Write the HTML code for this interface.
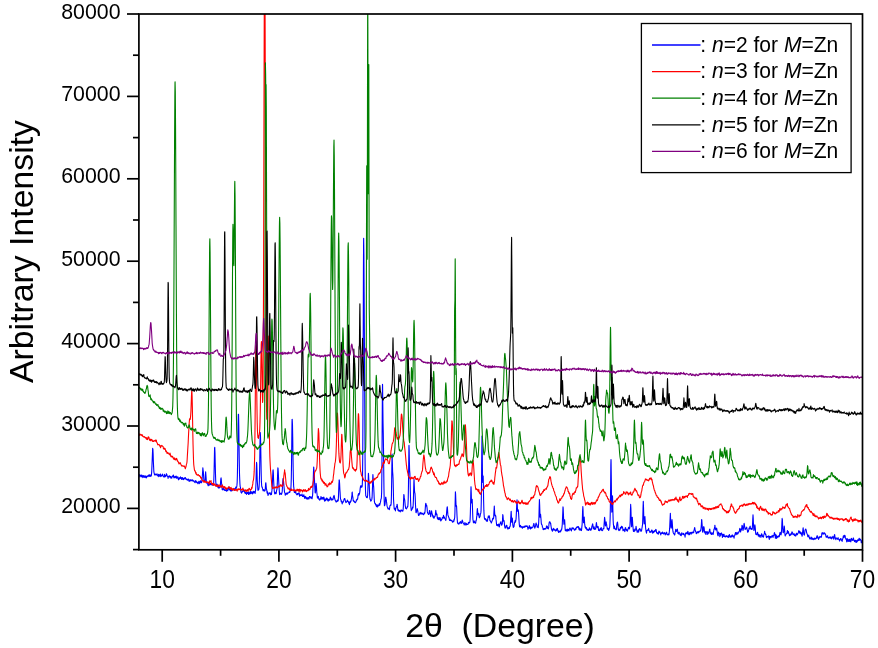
<!DOCTYPE html>
<html><head><meta charset="utf-8"><style>
html,body{margin:0;padding:0;background:#fff;}
svg{display:block;}
text{font-family:"Liberation Sans",Arial,sans-serif;fill:#000;}
.tl{font-size:21.3px;}
.tx{font-size:22.8px;}
.lg{font-size:21.5px;}
.at{font-size:33.8px;}
</style></head><body>
<svg width="878" height="648" viewBox="0 0 878 648">
<rect width="878" height="648" fill="#fff"/>
<defs><clipPath id="pc"><rect x="138.9" y="14.0" width="723.6" height="535.8"/></clipPath></defs>
<g clip-path="url(#pc)">
<polyline fill="none" stroke="#0000ff" stroke-width="1.1" stroke-linejoin="round" points="138.90,477.5 139.13,476.5 139.37,475.7 139.60,474.5 139.83,476.0 140.07,475.2 140.30,475.1 140.53,476.2 140.77,475.8 141.00,476.9 141.23,476.9 141.47,475.1 141.70,475.6 141.93,475.2 142.17,476.3 142.40,476.9 142.63,476.0 142.87,477.6 143.10,476.5 143.33,475.6 143.57,476.5 143.80,477.0 144.03,475.9 144.27,476.3 144.50,476.0 144.73,477.5 144.97,477.1 145.20,476.7 145.44,477.1 145.67,475.8 145.90,476.4 146.14,477.9 146.37,477.2 146.60,477.7 146.84,476.9 147.07,476.1 147.30,476.3 147.54,476.5 147.77,476.1 148.00,475.6 148.24,475.4 148.47,475.1 148.70,476.1 148.94,476.6 149.17,476.3 149.40,474.8 149.64,476.1 149.87,475.7 150.10,474.8 150.34,475.8 150.57,476.4 150.80,476.2 151.04,476.1 151.27,475.8 151.50,474.5 151.74,471.1 151.97,465.4 152.20,459.9 152.44,453.7 152.67,448.3 152.70,448.8 152.90,449.3 153.14,454.1 153.37,461.8 153.60,466.6 153.84,471.3 154.07,472.8 154.30,473.7 154.54,474.8 154.77,474.6 155.00,475.1 155.24,474.1 155.47,474.6 155.70,474.3 155.94,474.7 156.17,474.6 156.40,474.3 156.64,475.0 156.87,473.8 157.11,473.8 157.34,475.1 157.57,475.4 157.81,475.3 158.04,475.7 158.27,476.7 158.51,474.7 158.74,474.4 158.97,474.7 159.21,475.9 159.44,475.9 159.67,476.2 159.91,475.9 160.14,474.7 160.37,474.0 160.61,474.4 160.84,476.7 161.07,476.5 161.31,476.0 161.54,475.4 161.77,475.5 162.01,475.5 162.24,475.2 162.47,474.1 162.71,475.5 162.94,475.9 163.17,476.3 163.41,476.5 163.64,476.8 163.87,476.4 164.11,476.3 164.34,474.2 164.57,475.3 164.81,477.1 165.04,475.6 165.27,475.9 165.51,476.4 165.74,475.4 165.97,475.7 166.21,474.3 166.44,473.8 166.67,474.4 166.91,474.8 167.14,476.1 167.37,476.4 167.61,476.6 167.84,476.4 168.07,478.4 168.31,477.0 168.54,476.6 168.78,476.7 169.01,476.1 169.24,475.7 169.48,476.3 169.71,477.0 169.94,477.2 170.18,477.3 170.41,476.3 170.64,476.5 170.88,478.3 171.11,477.3 171.34,477.5 171.58,478.0 171.81,478.1 172.04,476.3 172.28,476.5 172.51,476.7 172.74,476.5 172.98,475.3 173.21,476.2 173.44,475.1 173.68,477.1 173.91,477.9 174.14,477.7 174.38,476.8 174.61,477.7 174.84,476.7 175.08,476.2 175.31,476.4 175.54,476.7 175.78,477.7 176.01,477.9 176.24,476.1 176.48,477.0 176.71,478.3 176.94,478.1 177.18,477.9 177.41,477.0 177.64,478.0 177.88,476.9 178.11,478.0 178.34,479.4 178.58,479.8 178.81,478.9 179.04,478.7 179.28,477.7 179.51,477.9 179.74,478.9 179.98,478.3 180.21,477.7 180.45,476.9 180.68,478.0 180.91,478.4 181.15,477.6 181.38,478.1 181.61,479.5 181.85,478.8 182.08,478.1 182.31,477.5 182.55,477.9 182.78,478.6 183.01,479.5 183.25,478.8 183.48,479.7 183.71,478.2 183.95,478.3 184.18,479.0 184.41,478.3 184.65,477.8 184.88,478.3 185.11,478.6 185.35,477.5 185.58,478.4 185.81,478.9 186.05,479.0 186.28,479.6 186.51,478.9 186.75,479.0 186.98,479.5 187.21,479.9 187.45,479.7 187.68,480.3 187.91,479.2 188.15,480.0 188.38,479.0 188.61,479.3 188.85,480.2 189.08,481.5 189.31,480.8 189.55,480.1 189.78,480.9 190.01,480.1 190.25,479.7 190.48,480.5 190.71,480.6 190.95,481.0 191.18,480.1 191.41,480.4 191.65,480.5 191.88,480.1 192.12,479.8 192.35,479.7 192.58,481.0 192.82,481.0 193.05,481.2 193.28,480.8 193.52,480.8 193.75,480.4 193.98,481.3 194.22,481.9 194.45,481.8 194.68,482.2 194.92,482.2 195.15,482.7 195.38,481.5 195.62,480.6 195.85,481.8 196.08,481.7 196.32,481.3 196.55,482.4 196.78,482.6 197.02,482.6 197.25,482.2 197.48,482.5 197.72,483.0 197.95,483.8 198.18,482.4 198.42,482.6 198.65,482.6 198.88,481.2 199.12,481.5 199.35,483.6 199.58,481.8 199.82,482.5 200.05,481.9 200.28,481.5 200.52,480.8 200.75,481.8 200.98,482.9 201.22,481.8 201.45,482.6 201.68,482.4 201.92,481.8 202.15,478.1 202.38,475.5 202.62,471.8 202.80,468.8 202.85,467.9 203.08,470.1 203.32,471.4 203.55,475.2 203.79,479.3 204.02,481.2 204.25,480.8 204.49,481.3 204.72,481.2 204.95,481.1 205.19,479.0 205.42,473.8 205.50,473.8 205.65,471.9 205.89,474.9 206.12,478.1 206.35,482.4 206.59,483.0 206.82,482.7 207.05,483.1 207.29,483.4 207.52,484.0 207.75,484.2 207.99,485.0 208.22,485.8 208.45,485.0 208.69,483.4 208.92,482.9 209.15,483.9 209.39,485.2 209.62,484.5 209.85,484.2 210.09,484.4 210.32,483.4 210.55,483.7 210.79,484.8 211.02,484.5 211.25,484.4 211.49,484.8 211.72,484.3 211.95,484.2 212.19,484.5 212.42,485.2 212.65,484.7 212.89,483.7 213.12,484.2 213.35,484.8 213.59,484.3 213.82,479.6 214.05,473.0 214.29,461.3 214.52,450.1 214.60,447.8 214.75,447.3 214.99,452.8 215.22,462.9 215.46,473.1 215.69,480.1 215.92,483.7 216.16,486.2 216.39,486.0 216.62,484.3 216.86,484.9 217.09,484.2 217.32,484.5 217.56,486.5 217.79,486.9 218.02,486.5 218.26,487.9 218.49,486.6 218.72,486.5 218.96,487.9 219.19,487.9 219.42,487.6 219.66,487.7 219.89,487.7 220.12,487.0 220.36,485.2 220.59,481.5 220.82,478.7 221.00,478.4 221.06,477.8 221.29,479.6 221.52,482.7 221.76,484.8 221.99,487.5 222.22,489.7 222.46,489.4 222.69,489.8 222.92,489.5 223.16,488.8 223.39,488.3 223.62,488.1 223.86,488.4 224.09,489.8 224.32,490.1 224.56,489.9 224.79,490.3 225.02,489.7 225.26,490.5 225.49,490.0 225.72,489.8 225.96,489.8 226.19,490.2 226.42,491.3 226.66,489.1 226.89,489.8 227.13,490.8 227.36,490.5 227.59,490.0 227.83,490.7 228.06,488.8 228.29,488.2 228.53,488.9 228.76,487.4 228.99,486.8 229.23,489.2 229.46,489.9 229.69,489.9 229.93,489.3 230.16,489.5 230.39,489.3 230.63,491.0 230.86,490.8 231.09,490.0 231.33,488.5 231.56,490.1 231.79,491.0 232.03,490.7 232.26,490.1 232.49,489.3 232.73,489.0 232.96,489.7 233.19,489.7 233.43,489.5 233.66,489.4 233.89,490.2 234.13,488.6 234.36,488.8 234.59,488.8 234.83,489.8 235.06,490.1 235.29,489.6 235.53,488.4 235.76,487.0 235.99,488.8 236.23,488.1 236.46,487.4 236.69,486.9 236.93,485.4 237.16,482.5 237.39,475.4 237.63,461.9 237.86,442.9 238.09,425.5 238.30,415.0 238.33,414.2 238.56,414.5 238.80,426.6 239.03,444.2 239.26,460.5 239.50,473.7 239.73,479.6 239.96,484.1 240.20,486.7 240.43,487.2 240.66,489.4 240.90,491.9 241.13,492.5 241.36,492.2 241.60,493.1 241.83,492.2 242.06,491.6 242.30,491.9 242.53,491.8 242.76,491.7 243.00,490.4 243.23,491.2 243.46,490.6 243.70,490.9 243.93,489.7 244.16,490.5 244.40,491.7 244.63,492.4 244.86,491.8 245.10,493.5 245.33,493.0 245.56,492.3 245.80,493.1 246.03,492.7 246.26,493.5 246.50,494.4 246.73,493.5 246.96,492.4 247.20,492.6 247.43,493.4 247.66,493.2 247.90,492.4 248.13,492.6 248.36,493.9 248.60,494.5 248.83,491.8 249.06,493.2 249.30,493.3 249.53,493.9 249.76,494.0 250.00,493.2 250.23,492.1 250.47,491.5 250.70,491.6 250.93,493.6 251.17,493.0 251.40,492.5 251.63,492.4 251.87,491.8 252.10,493.0 252.33,493.9 252.57,493.5 252.80,492.1 253.03,493.5 253.27,492.3 253.50,491.3 253.73,491.7 253.97,492.2 254.20,492.7 254.43,491.9 254.67,491.4 254.90,492.4 255.13,493.4 255.37,491.4 255.60,490.2 255.83,486.9 256.07,480.7 256.30,468.7 256.50,463.9 256.53,462.4 256.77,463.9 257.00,470.5 257.23,479.7 257.47,483.7 257.70,486.8 257.93,490.3 258.17,490.0 258.40,490.0 258.63,489.9 258.87,489.2 259.10,487.1 259.33,482.7 259.57,473.4 259.80,458.9 260.03,441.9 260.20,433.9 260.27,432.5 260.50,436.2 260.73,446.3 260.97,460.3 261.20,473.0 261.43,481.9 261.67,485.5 261.90,487.3 262.14,487.0 262.37,487.7 262.60,488.9 262.84,489.4 263.07,490.8 263.30,490.3 263.54,490.8 263.77,489.5 264.00,490.3 264.24,491.1 264.47,490.9 264.70,490.0 264.94,490.7 265.17,490.1 265.40,487.1 265.64,483.6 265.70,482.9 265.87,482.8 266.10,485.6 266.34,488.3 266.57,489.3 266.80,490.3 267.04,492.7 267.27,493.4 267.50,491.7 267.74,493.7 267.97,495.5 268.20,494.8 268.44,494.2 268.67,494.0 268.90,494.0 269.14,492.7 269.37,492.8 269.60,493.8 269.84,493.5 270.07,493.7 270.30,492.8 270.54,494.4 270.77,494.8 271.00,494.1 271.24,494.2 271.47,494.5 271.70,492.2 271.94,490.4 272.17,487.5 272.40,482.9 272.64,476.4 272.87,472.0 272.90,471.1 273.10,469.9 273.34,472.8 273.57,479.3 273.81,484.1 274.04,488.1 274.27,491.0 274.51,492.6 274.74,493.8 274.97,493.9 275.21,493.1 275.44,492.7 275.67,492.3 275.91,492.5 276.14,493.8 276.37,491.9 276.61,490.3 276.84,489.7 277.07,487.6 277.31,483.4 277.54,476.0 277.77,469.9 277.90,467.9 278.01,468.1 278.24,471.2 278.47,476.4 278.71,481.2 278.94,484.9 279.17,489.2 279.41,492.4 279.64,494.6 279.87,494.4 280.11,494.3 280.34,493.3 280.57,493.6 280.81,493.6 281.04,493.2 281.27,494.1 281.51,494.3 281.74,493.3 281.97,493.0 282.21,491.5 282.44,487.3 282.67,483.1 282.91,479.5 283.00,478.5 283.14,478.5 283.37,479.3 283.61,481.7 283.84,484.6 284.07,487.2 284.31,490.1 284.54,492.4 284.77,492.4 285.01,493.3 285.24,495.2 285.48,495.0 285.71,493.7 285.94,493.9 286.18,493.4 286.41,494.2 286.64,493.0 286.88,493.3 287.11,494.1 287.34,493.1 287.58,493.9 287.81,492.9 288.04,493.1 288.28,492.8 288.51,492.8 288.74,492.8 288.98,492.3 289.21,491.7 289.44,492.5 289.68,492.4 289.91,492.2 290.14,491.2 290.38,489.0 290.61,489.9 290.84,489.0 291.08,484.7 291.31,477.8 291.54,463.4 291.78,441.4 292.01,422.1 292.10,419.2 292.24,419.6 292.48,424.9 292.71,436.7 292.94,453.6 293.18,468.7 293.41,480.1 293.64,486.3 293.88,487.9 294.11,491.0 294.34,492.5 294.58,491.7 294.81,491.7 295.04,492.7 295.28,491.6 295.51,491.5 295.74,491.9 295.98,493.2 296.21,493.9 296.44,493.9 296.68,494.4 296.91,494.8 297.15,494.4 297.38,493.5 297.61,493.9 297.85,494.7 298.08,493.3 298.31,493.4 298.55,493.4 298.78,493.4 299.01,492.8 299.25,493.4 299.48,496.2 299.71,495.7 299.95,494.5 300.18,495.0 300.41,495.6 300.65,495.2 300.88,495.5 301.11,495.0 301.35,495.1 301.58,495.5 301.81,495.1 302.05,494.1 302.28,495.7 302.51,496.5 302.75,496.5 302.98,495.8 303.21,496.6 303.45,496.4 303.68,494.9 303.91,494.8 304.15,496.5 304.38,496.3 304.61,497.8 304.85,498.5 305.08,496.8 305.31,496.4 305.55,497.2 305.78,497.7 306.01,497.0 306.25,498.5 306.48,498.8 306.71,498.4 306.95,497.8 307.18,498.8 307.41,498.6 307.65,497.7 307.88,499.3 308.11,498.2 308.35,498.0 308.58,497.7 308.82,498.4 309.05,498.8 309.28,497.3 309.52,496.5 309.75,497.0 309.98,496.6 310.22,496.8 310.45,497.3 310.68,497.6 310.92,498.2 311.15,496.9 311.38,497.3 311.62,497.2 311.85,498.4 312.08,498.8 312.32,497.0 312.55,496.0 312.78,492.1 313.02,486.5 313.25,479.5 313.48,471.5 313.70,467.1 313.72,467.9 313.95,469.7 314.18,473.6 314.42,478.4 314.65,483.8 314.88,488.8 315.12,492.4 315.35,492.9 315.58,490.7 315.82,487.1 316.00,484.6 316.05,483.2 316.28,484.9 316.52,487.8 316.75,491.7 316.98,493.5 317.22,496.3 317.45,498.1 317.68,497.5 317.92,496.6 318.15,496.4 318.38,496.5 318.62,498.1 318.85,499.3 319.08,499.3 319.32,499.5 319.55,499.8 319.78,500.2 320.02,498.6 320.25,498.8 320.49,499.3 320.72,498.9 320.95,496.5 321.19,497.3 321.42,497.9 321.65,497.9 321.89,499.3 322.12,499.2 322.35,498.5 322.59,497.5 322.82,497.6 323.05,498.2 323.29,499.1 323.52,498.0 323.75,497.1 323.99,497.6 324.22,498.7 324.45,500.7 324.69,501.1 324.92,499.3 325.15,500.0 325.39,500.7 325.62,500.5 325.85,499.3 326.09,498.4 326.32,498.5 326.55,498.1 326.79,499.5 327.02,499.8 327.25,498.3 327.49,499.3 327.72,500.1 327.95,500.9 328.19,501.1 328.42,500.4 328.65,499.2 328.89,499.4 329.12,500.3 329.35,499.2 329.59,499.4 329.82,500.1 330.05,498.6 330.29,497.0 330.52,497.4 330.75,498.1 330.99,498.2 331.22,499.6 331.45,500.1 331.69,499.1 331.92,499.3 332.16,499.6 332.39,499.2 332.62,499.9 332.86,499.6 333.09,499.3 333.32,497.4 333.56,496.3 333.79,496.9 334.02,495.4 334.26,496.0 334.49,497.4 334.72,498.8 334.96,499.4 335.19,500.4 335.42,500.4 335.66,500.9 335.89,501.7 336.12,502.1 336.36,501.8 336.59,501.1 336.82,501.6 337.06,501.3 337.29,500.9 337.52,500.0 337.76,501.2 337.99,500.8 338.22,500.6 338.46,496.9 338.69,490.4 338.92,484.2 339.16,480.9 339.20,479.8 339.39,480.7 339.62,483.9 339.86,489.2 340.09,492.4 340.32,496.7 340.56,499.2 340.79,499.4 341.02,500.3 341.26,501.8 341.49,501.2 341.72,501.0 341.96,502.9 342.19,503.9 342.42,502.5 342.66,502.7 342.89,501.9 343.12,502.2 343.36,501.1 343.59,501.2 343.83,500.2 344.06,499.1 344.29,499.0 344.53,498.6 344.76,498.5 344.99,499.3 345.23,500.5 345.46,500.8 345.69,502.1 345.93,502.6 346.16,502.5 346.39,501.7 346.63,501.7 346.86,501.5 347.09,501.6 347.33,500.1 347.56,500.2 347.79,500.9 348.03,501.4 348.26,501.4 348.49,502.0 348.73,503.1 348.96,502.5 349.19,503.6 349.43,504.6 349.66,503.6 349.89,501.5 350.13,502.5 350.36,502.4 350.59,501.8 350.83,500.5 351.06,501.2 351.29,499.4 351.53,498.6 351.76,496.3 351.99,495.0 352.00,492.8 352.23,492.1 352.46,495.0 352.69,496.5 352.93,497.6 353.16,500.3 353.39,501.1 353.63,500.5 353.86,501.1 354.09,501.4 354.33,501.8 354.56,502.1 354.79,501.8 355.03,502.2 355.26,502.8 355.50,502.4 355.73,502.0 355.96,501.8 356.20,501.2 356.43,499.8 356.66,500.3 356.90,499.6 357.13,499.7 357.36,498.7 357.60,499.2 357.83,497.6 358.06,495.0 358.30,494.4 358.53,493.6 358.76,495.2 359.00,494.9 359.23,494.1 359.46,494.0 359.70,492.6 359.93,491.0 360.16,488.6 360.40,487.2 360.63,485.8 360.86,486.8 361.10,487.5 361.10,486.5 361.33,485.8 361.56,485.9 361.80,486.0 362.03,487.0 362.26,485.4 362.50,478.9 362.73,456.6 362.96,409.3 363.20,339.5 363.43,269.6 363.60,242.0 363.66,238.3 363.90,255.0 364.13,291.5 364.36,330.3 364.60,374.6 364.83,420.2 365.06,458.1 365.30,481.0 365.53,491.5 365.76,495.7 366.00,496.2 366.23,496.5 366.46,497.5 366.70,497.4 366.93,496.9 367.17,497.8 367.40,497.3 367.63,495.2 367.87,489.7 368.10,482.9 368.33,476.1 368.40,473.4 368.57,475.0 368.80,479.5 369.03,481.8 369.27,485.4 369.50,491.3 369.73,496.2 369.97,499.3 370.20,498.9 370.43,499.6 370.67,500.8 370.90,501.1 371.13,500.7 371.37,500.2 371.60,499.8 371.83,499.2 372.07,497.7 372.30,491.9 372.53,486.4 372.77,477.3 372.90,474.5 373.00,475.8 373.23,479.6 373.47,484.7 373.70,487.1 373.93,491.9 374.17,497.6 374.40,501.7 374.63,502.6 374.87,503.4 375.10,503.8 375.33,503.5 375.57,504.9 375.80,504.9 376.03,504.4 376.27,506.2 376.50,506.5 376.73,505.0 376.97,506.2 377.20,507.1 377.43,506.6 377.67,505.2 377.90,504.9 378.13,505.8 378.37,505.9 378.60,505.9 378.84,505.6 379.07,505.1 379.30,503.6 379.54,503.6 379.77,505.2 380.00,503.6 380.24,503.2 380.47,502.2 380.70,500.8 380.94,499.1 381.17,499.0 381.40,497.5 381.64,492.0 381.87,474.3 382.10,438.1 382.34,398.9 382.50,384.2 382.57,385.0 382.80,403.9 383.04,423.1 383.27,432.9 383.50,447.9 383.74,470.1 383.97,489.3 384.20,500.4 384.44,505.8 384.67,505.4 384.90,504.9 385.14,503.3 385.37,501.0 385.60,497.3 385.70,497.5 385.84,497.3 386.07,498.8 386.30,499.6 386.54,501.9 386.77,503.5 387.00,505.4 387.24,506.7 387.47,507.3 387.70,507.5 387.94,509.0 388.17,509.0 388.40,508.5 388.64,508.3 388.87,508.7 389.10,508.8 389.34,509.6 389.57,508.5 389.80,506.6 390.04,505.5 390.27,505.4 390.51,504.9 390.74,505.4 390.97,505.2 391.21,502.9 391.44,495.4 391.67,480.6 391.91,463.0 392.10,454.1 392.14,454.4 392.37,462.6 392.61,471.6 392.84,474.3 393.07,478.6 393.31,488.3 393.54,499.3 393.77,503.2 394.01,506.5 394.24,509.0 394.47,509.3 394.71,509.2 394.94,508.3 395.17,509.5 395.41,510.9 395.64,509.1 395.87,508.5 396.11,507.7 396.34,507.0 396.57,506.4 396.81,505.9 397.04,504.2 397.27,504.7 397.51,507.1 397.74,508.9 397.97,510.5 398.21,510.4 398.44,509.8 398.67,510.7 398.91,511.3 399.14,510.9 399.37,510.6 399.61,511.3 399.84,510.7 400.07,510.1 400.31,512.0 400.54,510.7 400.77,510.8 401.01,510.9 401.24,510.8 401.47,510.5 401.71,509.9 401.94,510.9 402.18,510.8 402.41,510.7 402.64,511.3 402.88,511.0 403.11,509.8 403.34,506.9 403.58,500.5 403.81,494.5 403.90,494.6 404.04,495.2 404.28,497.9 404.51,499.3 404.74,500.0 404.98,502.9 405.21,505.6 405.44,506.6 405.68,508.4 405.91,508.4 406.14,508.3 406.38,508.9 406.61,508.4 406.84,507.9 407.08,507.9 407.31,506.6 407.54,507.1 407.78,506.6 408.01,504.0 408.24,498.6 408.48,484.5 408.71,462.4 408.94,445.8 409.00,445.3 409.18,449.7 409.41,462.2 409.64,470.5 409.88,473.4 410.11,480.1 410.34,491.3 410.58,500.8 410.81,506.1 411.04,508.3 411.28,510.7 411.51,509.6 411.74,509.7 411.98,509.4 412.21,509.0 412.44,507.6 412.68,506.8 412.91,508.0 413.14,505.7 413.38,500.8 413.61,492.0 413.85,482.5 414.00,479.3 414.08,479.9 414.31,486.0 414.55,491.4 414.78,492.8 415.01,493.7 415.25,498.2 415.48,504.6 415.71,508.5 415.95,512.4 416.18,512.7 416.41,511.8 416.65,510.5 416.88,511.0 417.11,508.7 417.35,508.8 417.58,510.0 417.81,511.0 418.05,512.7 418.28,513.9 418.51,515.5 418.75,515.4 418.98,515.4 419.21,514.8 419.45,514.1 419.68,513.4 419.91,512.7 420.15,513.0 420.38,513.5 420.61,514.0 420.85,512.4 421.08,512.6 421.31,513.7 421.55,513.4 421.78,514.1 422.01,513.7 422.25,513.3 422.48,513.2 422.71,514.1 422.95,514.1 423.18,514.1 423.41,514.3 423.65,514.8 423.88,514.3 424.11,512.8 424.35,513.2 424.58,513.4 424.81,512.9 425.05,511.3 425.28,508.4 425.52,504.9 425.75,503.4 425.80,504.2 425.98,503.6 426.22,505.3 426.45,506.2 426.68,505.4 426.92,506.9 427.15,508.8 427.38,511.9 427.62,512.8 427.85,513.0 428.08,514.0 428.32,513.9 428.55,514.4 428.78,514.3 429.02,513.4 429.25,512.1 429.48,510.5 429.72,510.6 429.95,512.8 430.18,513.8 430.42,514.8 430.65,516.7 430.88,515.6 431.12,513.3 431.35,511.2 431.58,510.9 431.82,512.4 432.05,513.8 432.28,514.0 432.52,515.2 432.75,516.4 432.98,517.1 433.22,515.7 433.45,517.0 433.68,517.8 433.92,518.3 434.15,517.9 434.38,516.8 434.62,516.7 434.85,516.1 435.08,516.2 435.32,514.8 435.55,512.6 435.78,510.2 435.80,510.2 436.02,512.3 436.25,513.2 436.48,514.8 436.72,514.4 436.95,514.2 437.19,517.0 437.42,518.7 437.65,518.0 437.89,517.6 438.12,519.5 438.35,519.7 438.59,519.5 438.82,517.9 439.05,519.1 439.29,517.6 439.52,518.7 439.75,519.8 439.99,518.1 440.22,517.8 440.45,519.2 440.69,520.9 440.92,520.8 441.15,519.4 441.39,520.0 441.62,519.8 441.85,519.3 442.09,518.7 442.32,517.5 442.55,517.4 442.79,517.3 443.02,518.0 443.25,517.1 443.49,515.3 443.72,516.5 443.95,518.1 444.19,518.0 444.42,517.0 444.65,518.1 444.89,518.5 445.12,518.8 445.35,519.2 445.59,520.0 445.82,520.3 446.05,518.8 446.29,516.0 446.52,513.6 446.75,510.8 446.99,508.2 447.22,506.8 447.30,506.9 447.45,508.1 447.69,512.2 447.92,514.9 448.15,515.9 448.39,516.1 448.62,517.2 448.86,517.5 449.09,518.2 449.32,519.4 449.56,520.4 449.79,520.0 450.02,519.2 450.26,519.9 450.49,520.4 450.72,520.3 450.96,520.1 451.19,520.7 451.42,520.6 451.66,520.5 451.89,520.4 452.12,520.9 452.36,521.9 452.59,522.2 452.82,521.9 453.06,521.4 453.29,521.4 453.52,521.6 453.76,521.7 453.99,519.3 454.22,520.1 454.46,518.6 454.69,517.7 454.92,513.0 455.16,501.8 455.39,491.9 455.50,492.7 455.62,494.6 455.86,501.1 456.09,506.2 456.32,505.3 456.56,506.1 456.79,510.5 457.02,515.7 457.26,519.8 457.49,522.7 457.72,523.4 457.96,522.7 458.19,524.0 458.42,523.9 458.66,523.5 458.89,524.1 459.12,523.9 459.36,523.3 459.59,522.5 459.82,522.9 460.06,522.0 460.29,522.3 460.53,521.6 460.76,521.9 460.99,523.5 461.23,523.5 461.46,523.2 461.69,522.9 461.93,521.6 462.16,520.0 462.39,520.4 462.63,521.2 462.86,522.0 463.09,523.0 463.33,523.3 463.56,523.3 463.79,523.6 464.03,524.2 464.26,525.0 464.49,523.2 464.73,523.2 464.96,522.5 465.19,524.3 465.43,523.8 465.66,524.2 465.89,525.2 466.13,524.8 466.36,523.3 466.59,524.2 466.83,524.1 467.06,524.4 467.29,524.3 467.53,524.5 467.76,524.1 467.99,523.8 468.23,524.1 468.46,522.3 468.69,522.5 468.93,522.4 469.16,522.9 469.39,522.8 469.63,522.7 469.86,521.8 470.09,519.7 470.33,514.0 470.56,505.2 470.79,493.3 471.00,486.9 471.03,486.7 471.26,493.0 471.49,502.2 471.73,503.0 471.96,499.6 472.20,499.4 472.43,505.5 472.66,513.2 472.90,519.5 473.13,520.5 473.36,522.4 473.60,522.8 473.83,522.2 474.06,521.0 474.30,521.1 474.53,522.4 474.76,521.9 475.00,522.9 475.23,523.2 475.46,523.2 475.70,522.9 475.93,521.1 476.16,520.6 476.40,519.8 476.63,517.2 476.86,515.9 477.10,511.5 477.33,508.9 477.40,508.5 477.56,510.4 477.80,513.2 478.03,514.9 478.26,514.1 478.50,514.1 478.73,513.3 478.96,515.9 479.20,517.4 479.43,517.7 479.66,516.5 479.90,516.8 480.13,515.8 480.36,514.2 480.60,513.6 480.83,512.9 481.06,510.5 481.30,500.7 481.53,481.3 481.76,453.8 482.00,436.8 482.00,436.0 482.23,450.0 482.46,472.2 482.70,482.4 482.93,478.2 483.16,476.1 483.40,486.1 483.63,500.9 483.87,510.4 484.10,514.7 484.33,517.4 484.57,519.2 484.80,519.0 485.03,518.6 485.27,519.5 485.50,518.9 485.73,518.9 485.97,520.3 486.20,520.2 486.43,521.1 486.67,520.6 486.90,519.8 487.13,520.5 487.37,521.3 487.60,520.0 487.83,518.5 488.07,517.4 488.30,516.4 488.30,516.1 488.53,516.1 488.77,517.4 489.00,517.2 489.23,515.7 489.47,516.6 489.70,518.6 489.93,520.6 490.17,520.5 490.40,520.9 490.63,521.7 490.87,521.8 491.10,522.3 491.33,523.0 491.57,522.1 491.80,522.0 492.03,521.0 492.27,520.6 492.50,519.3 492.73,518.3 492.97,518.2 493.20,518.3 493.43,519.0 493.67,517.6 493.90,512.6 494.13,508.9 494.30,506.0 494.37,507.6 494.60,511.8 494.83,514.8 495.07,515.9 495.30,515.1 495.54,515.7 495.77,515.9 496.00,519.4 496.24,521.3 496.47,523.8 496.70,525.3 496.94,525.5 497.17,525.2 497.40,524.8 497.64,524.5 497.87,525.9 498.10,525.7 498.34,524.5 498.57,524.2 498.80,525.0 499.04,526.5 499.27,526.9 499.50,526.5 499.74,524.3 499.97,523.6 500.20,523.6 500.44,522.3 500.67,522.1 500.90,521.7 501.14,523.3 501.37,524.7 501.60,525.2 501.84,525.0 502.07,524.0 502.30,523.9 502.54,519.4 502.77,514.6 502.90,515.3 503.00,515.5 503.24,518.9 503.47,521.1 503.70,521.1 503.94,520.4 504.17,521.5 504.40,523.9 504.64,526.0 504.87,527.4 505.10,528.2 505.34,527.7 505.57,527.7 505.80,527.2 506.04,526.0 506.27,525.4 506.50,525.3 506.74,525.2 506.97,525.9 507.21,528.2 507.44,527.9 507.67,527.7 507.91,529.1 508.14,528.9 508.37,528.2 508.61,528.4 508.84,527.6 509.07,527.8 509.31,528.5 509.54,527.6 509.77,526.3 510.01,526.5 510.24,526.0 510.47,522.7 510.71,518.4 510.94,514.8 511.10,512.0 511.17,511.3 511.41,516.4 511.64,521.9 511.87,522.3 512.11,520.5 512.34,518.0 512.57,520.9 512.81,524.8 513.04,526.0 513.27,527.5 513.51,527.2 513.74,526.8 513.97,526.6 514.21,524.4 514.44,523.1 514.67,522.6 514.91,521.8 515.14,520.6 515.37,522.2 515.61,521.7 515.84,520.5 516.07,518.7 516.31,514.4 516.54,509.5 516.77,503.1 517.00,500.6 517.01,499.7 517.24,503.5 517.47,509.4 517.71,511.5 517.94,510.8 518.17,509.7 518.41,511.1 518.64,514.1 518.88,518.2 519.11,521.7 519.34,524.8 519.58,526.7 519.81,526.7 520.04,527.1 520.28,526.9 520.51,525.3 520.74,526.2 520.98,526.8 521.21,527.0 521.44,526.6 521.68,527.4 521.91,526.7 522.14,527.3 522.38,528.3 522.61,526.7 522.84,527.0 523.08,527.2 523.31,527.1 523.54,526.9 523.78,527.4 524.01,526.3 524.24,526.1 524.48,527.1 524.71,526.4 524.94,527.1 525.18,526.8 525.41,526.0 525.64,525.9 525.88,526.2 526.11,526.5 526.34,526.0 526.58,526.2 526.81,525.9 527.04,526.5 527.28,526.0 527.51,527.1 527.74,527.7 527.98,529.3 528.21,528.7 528.44,527.5 528.68,527.8 528.91,527.3 529.14,526.0 529.38,525.7 529.61,528.2 529.84,528.1 530.08,526.9 530.31,528.5 530.55,529.0 530.78,528.1 531.01,528.5 531.25,527.1 531.48,527.7 531.71,528.0 531.95,528.1 532.18,527.7 532.41,527.4 532.65,527.3 532.88,526.6 533.11,526.9 533.35,525.1 533.58,524.4 533.81,523.5 534.05,523.8 534.28,525.4 534.51,526.7 534.75,528.1 534.98,528.0 535.21,526.6 535.45,526.3 535.68,525.1 535.91,523.5 536.15,523.0 536.38,524.2 536.61,524.4 536.85,524.7 537.08,526.3 537.31,527.3 537.55,527.2 537.78,526.4 538.01,526.9 538.25,527.7 538.48,525.3 538.71,522.2 538.95,516.8 539.18,506.5 539.40,500.4 539.41,499.5 539.65,504.8 539.88,511.9 540.11,517.2 540.35,516.5 540.58,514.4 540.81,516.9 541.05,519.6 541.28,523.1 541.51,524.4 541.75,524.1 541.98,524.9 542.22,525.6 542.45,527.2 542.68,527.6 542.92,527.9 543.15,529.6 543.38,529.6 543.62,529.4 543.85,528.9 544.08,529.3 544.32,528.5 544.55,529.2 544.78,528.6 545.02,528.9 545.25,528.7 545.48,529.0 545.72,529.1 545.95,528.6 546.18,528.0 546.42,526.4 546.65,525.9 546.88,527.7 547.12,527.2 547.35,526.4 547.58,528.5 547.82,527.9 548.05,528.7 548.28,528.9 548.52,528.2 548.75,526.9 548.98,523.9 549.22,522.6 549.40,521.8 549.45,521.8 549.68,521.7 549.92,521.9 550.15,522.4 550.38,523.5 550.62,523.2 550.85,524.8 551.08,526.5 551.32,527.8 551.55,529.4 551.78,530.1 552.02,529.8 552.25,530.7 552.48,531.3 552.72,529.3 552.95,528.9 553.18,528.8 553.42,529.9 553.65,528.2 553.89,529.1 554.12,530.1 554.35,529.5 554.59,530.0 554.82,529.8 555.05,529.6 555.29,530.6 555.52,531.0 555.75,530.3 555.99,530.4 556.22,530.7 556.45,530.5 556.69,528.9 556.92,529.7 557.15,529.1 557.39,528.4 557.62,529.7 557.85,531.2 558.09,531.2 558.32,530.8 558.55,532.5 558.79,532.0 559.02,531.4 559.25,531.1 559.49,531.6 559.72,531.4 559.95,532.2 560.19,531.8 560.42,531.7 560.65,530.7 560.89,530.0 561.12,530.9 561.35,529.9 561.59,529.7 561.82,528.7 562.05,526.6 562.29,524.2 562.52,518.2 562.75,512.9 562.99,506.9 563.10,507.4 563.22,509.2 563.45,514.8 563.69,521.1 563.92,524.3 564.15,522.6 564.39,520.1 564.62,519.8 564.85,523.4 565.09,528.2 565.32,530.6 565.56,529.8 565.79,529.7 566.02,530.6 566.26,531.0 566.49,531.0 566.72,530.0 566.96,529.2 567.19,531.1 567.42,530.5 567.66,530.8 567.89,529.1 568.12,530.1 568.36,529.7 568.59,529.5 568.82,530.8 569.06,530.8 569.29,529.4 569.52,529.2 569.76,528.0 569.99,528.1 570.22,528.6 570.46,529.1 570.69,529.8 570.92,529.2 571.16,530.6 571.39,530.8 571.62,529.7 571.86,528.5 572.09,527.7 572.32,528.9 572.56,528.7 572.79,528.6 573.02,527.8 573.26,528.2 573.49,528.4 573.72,528.8 573.96,529.3 574.19,529.8 574.42,530.2 574.66,529.4 574.89,530.0 575.12,529.7 575.36,528.8 575.59,528.4 575.82,529.6 576.06,528.6 576.29,527.6 576.52,527.7 576.76,527.6 576.99,527.1 577.23,526.6 577.46,527.3 577.69,527.1 577.93,527.0 578.16,527.6 578.39,526.5 578.63,527.0 578.86,528.6 579.09,529.7 579.33,530.0 579.56,529.6 579.79,528.0 580.03,529.5 580.26,529.9 580.49,529.9 580.73,529.1 580.96,529.9 581.19,530.5 581.43,530.6 581.66,529.0 581.89,526.6 582.13,524.2 582.36,518.5 582.59,510.9 582.80,508.0 582.83,506.6 583.06,510.4 583.29,518.0 583.53,522.8 583.76,521.5 583.99,518.1 584.23,517.0 584.46,520.8 584.69,523.9 584.93,525.9 585.16,527.5 585.39,527.5 585.63,527.0 585.86,528.6 586.09,528.7 586.33,527.5 586.56,528.2 586.79,529.6 587.03,530.1 587.26,529.6 587.49,529.4 587.73,530.0 587.96,529.2 588.19,530.5 588.43,530.4 588.66,530.1 588.90,529.7 589.13,529.8 589.36,527.7 589.60,528.1 589.83,529.0 590.06,528.7 590.30,530.1 590.53,529.8 590.76,529.3 591.00,530.2 591.23,529.5 591.46,529.0 591.70,527.3 591.93,526.1 592.16,525.8 592.40,524.7 592.63,523.9 592.86,524.7 593.10,527.1 593.33,528.9 593.56,528.3 593.80,528.8 594.03,526.7 594.26,527.3 594.50,528.9 594.73,529.4 594.96,528.7 595.20,529.1 595.43,529.3 595.66,529.1 595.90,526.5 596.13,524.8 596.36,522.7 596.40,522.6 596.60,523.9 596.83,526.1 597.06,527.4 597.30,527.6 597.53,526.5 597.76,526.8 598.00,526.4 598.23,527.0 598.46,529.5 598.70,530.5 598.93,530.2 599.16,529.8 599.40,530.3 599.63,530.6 599.86,530.6 600.10,528.9 600.33,528.2 600.57,529.5 600.80,528.9 601.03,528.0 601.27,527.7 601.50,529.3 601.73,530.5 601.97,530.7 602.20,530.7 602.43,530.3 602.67,530.4 602.90,529.1 603.13,528.6 603.37,528.4 603.60,528.4 603.83,528.7 604.07,524.6 604.30,521.6 604.53,517.9 604.60,517.4 604.77,518.6 605.00,520.5 605.23,523.9 605.47,526.0 605.70,523.9 605.93,522.5 606.17,521.9 606.40,523.8 606.63,524.5 606.87,526.4 607.10,527.5 607.33,529.2 607.57,528.5 607.80,528.3 608.03,528.4 608.27,528.5 608.50,530.0 608.73,530.5 608.97,529.3 609.20,529.1 609.43,527.9 609.67,527.2 609.90,524.8 610.13,518.6 610.37,507.6 610.60,488.4 610.83,465.1 611.00,459.6 611.07,460.9 611.30,478.3 611.53,500.5 611.77,512.1 612.00,510.3 612.24,499.9 612.47,495.9 612.70,500.8 612.94,512.7 613.17,520.8 613.40,524.4 613.64,526.4 613.87,528.6 614.10,527.5 614.34,526.1 614.57,527.1 614.80,528.6 615.04,529.1 615.27,529.2 615.50,529.2 615.74,528.8 615.97,529.8 616.20,529.8 616.44,529.0 616.67,525.7 616.90,524.1 617.14,522.5 617.37,522.8 617.40,522.0 617.60,522.7 617.84,524.7 618.07,528.2 618.30,529.4 618.54,529.9 618.77,529.2 619.00,530.7 619.24,529.5 619.47,530.1 619.70,530.3 619.94,530.1 620.17,528.5 620.40,527.3 620.64,527.4 620.87,528.6 621.10,528.1 621.34,527.4 621.57,526.2 621.80,526.4 622.04,526.9 622.27,527.6 622.50,527.1 622.74,528.5 622.97,530.8 623.20,530.2 623.44,530.2 623.67,530.0 623.91,529.4 624.14,529.8 624.37,530.8 624.61,530.7 624.84,531.6 625.07,528.9 625.31,527.6 625.54,528.0 625.77,528.1 626.01,530.0 626.24,529.9 626.47,530.3 626.71,529.6 626.94,530.7 627.17,531.1 627.41,531.1 627.64,530.2 627.87,529.6 628.11,528.7 628.34,528.2 628.57,527.2 628.81,527.6 629.04,527.8 629.27,528.9 629.51,528.6 629.74,527.5 629.97,525.1 630.21,520.2 630.44,509.9 630.67,504.4 630.70,505.6 630.91,508.6 631.14,516.9 631.37,523.6 631.61,526.6 631.84,522.5 632.07,518.1 632.31,517.2 632.54,520.9 632.77,525.1 633.01,527.1 633.24,530.0 633.47,531.5 633.71,529.7 633.94,531.0 634.17,531.6 634.41,531.1 634.64,530.2 634.87,529.0 635.11,530.6 635.34,529.6 635.58,528.9 635.81,528.7 636.04,526.4 636.28,527.8 636.51,529.3 636.74,530.3 636.98,531.1 637.21,532.3 637.44,531.7 637.68,532.0 637.91,531.5 638.14,529.9 638.38,530.4 638.61,532.1 638.84,530.6 639.08,529.8 639.31,528.8 639.54,528.9 639.78,528.5 640.01,529.2 640.24,530.2 640.48,529.7 640.71,530.1 640.94,531.5 641.18,531.1 641.41,530.7 641.64,530.2 641.88,528.5 642.11,527.5 642.34,525.7 642.58,524.4 642.81,517.6 643.04,507.8 643.28,501.3 643.30,502.4 643.51,507.0 643.74,515.9 643.98,521.7 644.21,524.0 644.44,522.1 644.68,517.5 644.91,516.5 645.14,520.1 645.38,524.2 645.61,527.9 645.84,529.7 646.08,531.6 646.31,532.4 646.54,533.2 646.78,531.3 647.01,530.2 647.25,530.6 647.48,530.0 647.71,530.0 647.95,530.2 648.18,529.3 648.41,529.3 648.65,528.3 648.88,530.5 649.11,530.8 649.35,530.7 649.58,531.1 649.81,532.4 650.05,531.8 650.28,532.5 650.51,531.5 650.75,531.5 650.98,531.7 651.21,532.1 651.45,530.5 651.68,530.0 651.91,530.0 652.15,530.3 652.38,531.1 652.61,533.2 652.85,533.2 653.08,531.8 653.31,531.8 653.55,531.3 653.78,532.4 654.01,532.2 654.25,531.3 654.48,530.6 654.71,531.4 654.95,531.5 655.18,531.0 655.41,531.0 655.65,529.5 655.88,529.4 656.11,529.6 656.35,531.1 656.58,532.8 656.81,532.7 657.05,533.4 657.28,532.8 657.51,532.7 657.75,533.6 657.98,533.7 658.21,534.2 658.45,533.7 658.68,532.1 658.92,531.1 659.15,532.7 659.38,532.2 659.62,531.8 659.85,531.8 660.08,532.5 660.32,533.1 660.55,533.9 660.78,535.0 661.02,533.3 661.25,533.4 661.48,532.8 661.72,532.8 661.95,533.5 662.18,533.3 662.42,532.1 662.65,533.1 662.88,532.4 663.12,533.6 663.35,533.6 663.58,534.0 663.82,533.6 664.05,533.0 664.28,533.4 664.52,532.6 664.75,532.8 664.98,533.9 665.22,534.9 665.45,533.5 665.68,533.3 665.92,534.3 666.15,533.2 666.38,532.6 666.62,532.2 666.85,533.3 667.08,534.2 667.32,534.2 667.55,534.7 667.78,534.7 668.02,535.0 668.25,534.7 668.48,533.9 668.72,534.4 668.95,534.7 669.18,533.0 669.42,530.7 669.65,528.4 669.88,523.2 670.12,518.2 670.30,514.6 670.35,513.3 670.59,518.7 670.82,526.0 671.05,528.0 671.29,528.1 671.52,525.7 671.75,521.6 671.99,519.5 672.22,522.0 672.45,525.4 672.69,529.1 672.92,531.2 673.15,532.4 673.39,533.1 673.62,533.6 673.85,533.6 674.09,533.8 674.32,534.5 674.55,535.0 674.79,534.6 675.02,532.6 675.25,532.2 675.49,531.1 675.72,529.4 675.95,530.0 676.19,530.8 676.42,531.5 676.65,530.4 676.89,530.4 677.12,529.3 677.35,529.1 677.59,530.7 677.82,532.8 678.05,533.6 678.29,533.6 678.52,533.8 678.75,532.9 678.99,532.2 679.22,532.2 679.45,533.7 679.69,534.2 679.92,534.4 680.15,534.7 680.39,535.2 680.62,533.8 680.85,534.0 681.09,535.8 681.32,535.2 681.55,533.9 681.79,532.7 682.02,533.3 682.26,534.0 682.49,534.2 682.72,534.3 682.96,534.2 683.19,534.6 683.42,533.3 683.66,533.5 683.89,533.8 684.12,534.8 684.36,534.8 684.59,535.0 684.82,535.2 685.06,537.1 685.29,535.0 685.52,533.2 685.76,533.1 685.99,532.9 686.22,533.6 686.46,533.7 686.69,533.1 686.92,532.4 687.16,532.3 687.39,534.0 687.62,533.5 687.86,531.2 688.09,532.8 688.32,533.0 688.56,533.7 688.79,534.8 689.02,533.0 689.26,533.1 689.49,534.8 689.72,532.9 689.96,532.5 690.19,533.1 690.42,532.4 690.66,532.9 690.89,533.7 691.12,534.2 691.36,532.3 691.59,532.4 691.82,532.9 692.06,533.2 692.29,532.2 692.52,532.6 692.76,532.1 692.99,532.2 693.22,532.7 693.46,531.8 693.69,532.6 693.93,530.5 694.16,529.8 694.39,529.0 694.63,527.5 694.86,528.2 695.09,530.3 695.33,530.4 695.56,531.3 695.79,531.9 696.03,532.1 696.26,533.7 696.49,533.6 696.73,533.0 696.96,532.7 697.19,531.8 697.43,532.4 697.66,531.9 697.89,533.0 698.13,531.8 698.36,531.7 698.59,532.8 698.83,532.4 699.06,531.2 699.29,531.8 699.53,531.3 699.76,531.1 699.99,531.2 700.23,531.2 700.46,531.2 700.69,530.5 700.93,529.2 701.16,527.1 701.39,524.2 701.63,519.5 701.80,520.1 701.86,521.1 702.09,524.4 702.33,527.6 702.56,531.6 702.79,532.2 703.03,531.6 703.26,530.7 703.49,527.1 703.73,526.7 703.96,527.0 704.19,528.2 704.43,531.0 704.66,532.3 704.89,533.0 705.13,532.7 705.36,531.6 705.60,533.3 705.83,534.5 706.06,534.4 706.30,532.4 706.53,531.8 706.76,531.9 707.00,531.9 707.23,531.6 707.46,532.8 707.70,534.5 707.93,532.9 708.16,532.2 708.40,533.1 708.63,533.2 708.86,533.3 709.10,531.7 709.33,530.7 709.56,529.3 709.80,529.1 710.03,530.7 710.26,531.9 710.50,532.9 710.73,533.8 710.96,533.4 711.20,534.0 711.43,534.4 711.66,534.4 711.90,532.4 712.13,533.1 712.36,533.8 712.60,533.4 712.83,534.0 713.06,534.5 713.30,533.8 713.53,531.8 713.76,530.7 714.00,529.0 714.23,529.4 714.46,527.9 714.70,526.9 714.80,525.7 714.93,525.2 715.16,527.6 715.40,528.1 715.63,529.6 715.86,529.9 716.10,530.0 716.33,529.3 716.56,528.1 716.80,528.7 717.03,530.6 717.27,532.2 717.50,534.3 717.73,534.9 717.97,535.8 718.20,535.8 718.43,532.9 718.67,532.1 718.90,532.9 719.13,533.3 719.37,533.3 719.60,533.7 719.83,536.7 720.07,535.7 720.30,534.1 720.53,533.4 720.77,535.3 721.00,534.5 721.23,533.5 721.47,532.9 721.70,534.0 721.93,534.2 722.17,534.1 722.40,537.4 722.63,536.5 722.87,535.1 723.10,534.2 723.33,534.7 723.57,536.5 723.80,535.3 724.03,534.4 724.27,536.1 724.50,536.6 724.73,536.7 724.97,536.4 725.20,536.5 725.43,536.9 725.67,536.5 725.90,535.7 726.13,536.0 726.37,536.5 726.60,535.7 726.83,536.4 727.07,536.5 727.30,537.0 727.53,536.5 727.77,536.1 728.00,536.3 728.23,537.1 728.47,537.3 728.70,535.8 728.94,535.2 729.17,535.4 729.40,534.5 729.64,535.5 729.87,536.9 730.10,537.2 730.34,537.3 730.57,536.3 730.80,536.1 731.04,535.7 731.27,535.8 731.50,536.6 731.74,537.1 731.97,536.4 732.20,534.9 732.44,536.2 732.67,536.2 732.90,535.7 733.14,536.3 733.37,536.8 733.60,536.2 733.84,536.0 734.07,538.1 734.30,535.8 734.54,535.8 734.77,535.8 735.00,534.0 735.24,533.7 735.47,532.5 735.70,532.6 735.94,533.1 736.17,534.7 736.40,533.3 736.64,534.0 736.87,533.4 737.10,532.2 737.34,534.2 737.57,533.3 737.80,533.4 738.04,533.7 738.27,532.9 738.50,532.7 738.74,532.5 738.97,531.4 739.20,531.1 739.44,530.7 739.67,528.6 739.90,528.4 740.14,530.2 740.37,531.7 740.61,532.0 740.84,530.4 741.07,529.1 741.31,530.1 741.54,529.2 741.77,527.8 742.01,525.3 742.10,526.0 742.24,526.3 742.47,526.0 742.71,529.0 742.94,530.5 743.17,529.8 743.41,528.7 743.64,527.2 743.87,524.8 744.11,523.3 744.34,524.2 744.57,526.1 744.81,527.4 745.04,529.4 745.27,529.4 745.51,529.2 745.74,528.2 745.97,528.8 746.21,528.1 746.44,528.6 746.67,527.1 746.91,528.6 747.14,529.3 747.37,530.3 747.61,532.3 747.84,532.1 748.07,531.0 748.31,531.7 748.54,530.3 748.77,529.9 749.01,528.1 749.24,528.6 749.47,528.8 749.71,528.2 749.94,526.6 750.17,526.2 750.41,527.7 750.64,528.8 750.87,529.0 751.11,528.8 751.34,528.4 751.57,529.4 751.81,529.5 752.04,529.4 752.28,528.6 752.51,525.0 752.74,519.5 752.98,515.3 753.00,514.9 753.21,517.8 753.44,523.5 753.68,527.5 753.91,530.4 754.14,530.0 754.38,528.4 754.61,526.6 754.84,524.8 755.08,526.0 755.31,528.4 755.54,531.9 755.78,534.3 756.01,534.4 756.24,534.5 756.48,534.2 756.71,534.8 756.94,534.1 757.18,533.3 757.41,532.2 757.64,532.6 757.88,533.7 758.11,535.1 758.34,536.0 758.58,534.6 758.81,535.0 759.04,535.6 759.28,536.9 759.51,535.3 759.74,534.9 759.98,535.7 760.21,535.3 760.44,536.1 760.68,535.5 760.91,537.4 761.14,536.1 761.38,534.8 761.61,533.7 761.84,534.2 762.08,534.7 762.31,535.2 762.54,536.8 762.78,536.5 763.01,536.7 763.24,536.9 763.48,537.1 763.71,535.4 763.95,534.6 764.18,533.9 764.41,532.8 764.65,531.2 764.88,533.0 765.11,533.3 765.35,533.7 765.58,534.7 765.81,534.3 766.05,535.5 766.28,536.9 766.51,537.7 766.75,536.9 766.98,536.8 767.21,536.5 767.45,537.0 767.68,536.5 767.91,536.9 768.15,536.4 768.38,535.9 768.61,536.0 768.85,536.6 769.08,538.4 769.31,539.5 769.55,537.1 769.78,536.2 770.01,536.9 770.25,536.8 770.48,536.5 770.71,537.9 770.95,537.6 771.18,537.2 771.41,536.5 771.65,536.5 771.88,536.8 772.11,535.4 772.35,535.7 772.58,536.4 772.81,536.0 773.05,537.5 773.28,536.1 773.51,535.4 773.75,535.4 773.98,535.3 774.21,533.5 774.45,532.6 774.68,533.2 774.91,534.8 775.15,535.8 775.38,538.2 775.62,537.5 775.85,534.6 776.08,535.8 776.32,537.5 776.55,538.4 776.78,535.8 777.02,536.4 777.25,537.6 777.48,536.6 777.72,536.7 777.95,536.6 778.18,537.0 778.42,536.1 778.65,536.2 778.88,535.6 779.12,536.8 779.35,536.2 779.58,534.7 779.82,533.4 780.05,532.5 780.28,532.3 780.52,533.5 780.75,534.6 780.98,534.8 781.22,534.1 781.45,532.4 781.68,528.3 781.92,522.6 782.15,518.2 782.20,518.9 782.38,519.6 782.62,525.0 782.85,529.6 783.08,532.4 783.32,532.7 783.55,531.8 783.78,530.8 784.02,528.8 784.25,526.0 784.48,527.9 784.72,531.6 784.95,534.5 785.18,536.0 785.42,535.1 785.65,535.0 785.88,534.4 786.12,534.1 786.35,533.9 786.58,533.2 786.82,533.5 787.05,533.0 787.29,531.1 787.52,530.6 787.75,532.0 787.99,532.2 788.22,533.3 788.45,531.6 788.69,533.2 788.92,533.5 789.15,534.1 789.39,535.3 789.62,535.7 789.85,535.1 790.09,535.5 790.32,534.4 790.55,534.9 790.79,534.5 791.02,533.6 791.25,534.6 791.49,533.6 791.72,533.1 791.95,531.8 792.19,532.1 792.20,532.5 792.42,532.4 792.65,533.0 792.89,534.5 793.12,534.7 793.35,534.3 793.59,534.3 793.82,533.9 794.05,533.7 794.29,534.8 794.52,535.7 794.75,534.8 794.99,535.0 795.22,534.8 795.45,534.9 795.69,536.2 795.92,535.1 796.15,534.7 796.39,533.2 796.62,533.5 796.85,534.6 797.09,534.9 797.32,534.7 797.55,534.3 797.79,533.5 798.02,533.3 798.25,533.0 798.49,531.8 798.72,531.0 798.96,530.6 799.19,531.3 799.42,532.1 799.66,533.1 799.89,531.6 800.12,531.9 800.36,532.5 800.59,533.8 800.82,533.1 801.06,532.4 801.29,532.9 801.52,534.7 801.76,534.6 801.99,536.3 802.22,535.9 802.46,533.2 802.69,531.4 802.92,529.5 803.10,527.8 803.16,527.9 803.39,530.0 803.62,532.9 803.86,534.6 804.09,534.2 804.32,535.2 804.56,534.2 804.79,532.2 805.02,530.1 805.26,529.7 805.49,529.7 805.72,529.0 805.96,529.6 806.19,529.8 806.42,531.3 806.66,532.8 806.89,533.1 807.12,533.9 807.36,534.5 807.59,535.5 807.82,536.7 808.06,536.9 808.29,535.5 808.52,536.1 808.76,535.1 808.99,536.8 809.22,537.0 809.46,537.4 809.69,538.9 809.92,538.6 810.16,538.8 810.39,538.7 810.63,538.9 810.86,537.5 811.09,537.1 811.33,537.7 811.56,539.2 811.79,537.8 812.03,538.1 812.26,539.2 812.49,538.9 812.73,538.2 812.96,539.5 813.19,539.2 813.43,539.6 813.66,539.2 813.89,538.9 814.13,538.2 814.36,539.1 814.59,538.1 814.83,538.6 815.06,539.3 815.29,538.5 815.53,538.6 815.76,538.6 815.99,538.7 816.23,538.4 816.46,536.7 816.69,537.0 816.93,538.0 817.16,535.6 817.39,536.5 817.63,537.9 817.86,536.8 818.09,537.3 818.33,538.1 818.56,539.4 818.79,538.1 819.03,538.3 819.26,537.5 819.49,537.5 819.73,536.6 819.96,536.4 820.19,537.0 820.43,536.6 820.66,537.2 820.89,537.3 821.13,537.1 821.36,537.2 821.59,536.0 821.83,533.2 822.06,532.8 822.30,534.0 822.30,533.1 822.53,532.8 822.76,533.8 823.00,533.4 823.23,534.1 823.46,533.6 823.70,533.8 823.93,532.6 824.16,532.8 824.40,533.3 824.63,533.9 824.86,533.2 825.10,533.9 825.33,534.0 825.56,534.4 825.80,535.7 826.03,536.7 826.26,537.2 826.50,536.2 826.73,537.1 826.96,536.2 827.20,536.3 827.43,535.7 827.66,535.7 827.90,537.7 828.13,537.5 828.36,538.1 828.60,537.6 828.83,538.0 829.06,537.7 829.30,537.5 829.53,537.7 829.76,538.0 830.00,536.7 830.23,537.0 830.46,538.3 830.70,537.6 830.93,537.8 831.16,537.1 831.40,537.9 831.63,538.9 831.86,538.3 832.10,537.9 832.33,537.4 832.56,537.4 832.80,536.3 833.03,536.7 833.26,538.1 833.50,537.4 833.73,539.1 833.97,538.7 834.20,536.5 834.43,534.9 834.67,534.6 834.90,536.4 835.13,537.0 835.37,538.3 835.60,538.6 835.83,539.6 836.07,539.2 836.30,538.1 836.53,538.3 836.77,538.1 837.00,538.3 837.23,538.3 837.47,538.6 837.70,539.4 837.93,538.2 838.17,537.7 838.40,538.4 838.63,539.0 838.87,539.4 839.10,539.8 839.33,540.0 839.57,541.0 839.80,540.5 840.03,539.0 840.27,539.4 840.50,539.3 840.73,538.5 840.97,538.6 841.20,540.0 841.43,540.3 841.67,540.4 841.90,539.9 842.13,541.4 842.37,540.0 842.60,539.5 842.83,538.4 843.07,537.8 843.30,536.0 843.53,535.9 843.77,535.8 844.00,537.6 844.23,536.0 844.47,535.3 844.70,536.5 844.93,535.6 845.17,536.1 845.40,537.7 845.64,538.4 845.87,539.1 846.10,539.6 846.34,538.8 846.57,541.1 846.80,541.9 847.04,541.6 847.27,538.8 847.50,538.8 847.74,539.4 847.97,540.9 848.20,540.7 848.44,541.4 848.67,540.7 848.90,539.8 849.14,539.4 849.37,540.3 849.60,541.5 849.84,540.0 850.07,539.1 850.30,540.3 850.54,541.4 850.77,541.8 851.00,540.8 851.24,540.0 851.47,538.4 851.70,539.3 851.94,540.0 852.17,540.2 852.40,539.7 852.64,540.4 852.87,540.1 853.10,538.6 853.34,537.9 853.57,538.6 853.80,539.7 854.04,540.5 854.27,540.2 854.50,541.6 854.74,541.0 854.97,540.7 855.20,541.0 855.44,540.3 855.67,541.5 855.90,542.5 856.14,541.5 856.37,540.9 856.60,540.7 856.84,542.1 857.07,541.7 857.31,540.1 857.54,541.2 857.77,540.3 858.01,539.7 858.24,540.2 858.47,540.0 858.71,540.6 858.94,538.9 859.17,538.3 859.41,538.6 859.64,539.6 859.87,540.2 860.11,539.4 860.34,539.4 860.57,539.3 860.81,540.2 861.04,540.5 861.27,542.8 861.51,542.7 861.74,540.7 861.97,541.0 862.21,541.3 862.44,540.6"/>
<polyline fill="none" stroke="#ff0000" stroke-width="1.1" stroke-linejoin="round" points="138.90,434.1 139.13,434.2 139.37,435.4 139.60,434.5 139.83,433.9 140.07,434.3 140.30,434.3 140.53,435.0 140.77,434.8 141.00,434.6 141.23,435.2 141.47,434.8 141.70,435.3 141.93,435.6 142.17,434.9 142.40,434.9 142.63,435.8 142.87,436.5 143.10,436.4 143.33,436.6 143.57,436.7 143.80,437.1 144.03,437.2 144.27,436.6 144.50,436.7 144.73,437.1 144.97,437.1 145.20,437.6 145.44,438.0 145.67,437.8 145.90,437.5 146.14,437.8 146.37,439.2 146.60,438.8 146.84,437.7 147.07,438.1 147.30,439.6 147.54,439.5 147.77,438.6 148.00,438.3 148.24,436.8 148.47,437.2 148.70,437.9 148.94,437.3 149.17,438.3 149.40,439.8 149.64,440.2 149.87,439.6 150.10,440.2 150.34,440.8 150.57,439.8 150.80,439.1 151.04,439.5 151.27,439.6 151.50,440.2 151.74,439.7 151.97,439.6 152.20,441.2 152.44,440.5 152.67,440.9 152.90,441.4 153.14,441.5 153.37,441.4 153.60,441.5 153.84,441.1 154.07,440.4 154.30,440.9 154.54,441.0 154.77,440.9 155.00,440.8 155.24,440.4 155.47,441.3 155.70,441.3 155.94,439.9 156.00,440.6 156.17,440.6 156.40,440.4 156.64,442.2 156.87,442.5 157.11,442.8 157.34,443.2 157.57,444.4 157.81,444.8 158.04,444.5 158.27,444.7 158.51,444.5 158.74,444.6 158.97,444.4 159.21,444.9 159.44,445.0 159.67,445.8 159.91,446.3 160.14,446.4 160.37,447.2 160.61,447.7 160.84,445.6 161.07,446.1 161.31,446.1 161.54,445.8 161.77,445.4 162.01,445.9 162.24,445.9 162.47,445.9 162.71,446.4 162.94,446.6 163.17,446.6 163.41,448.6 163.64,448.6 163.87,448.5 164.11,449.2 164.34,448.7 164.57,448.1 164.81,449.3 165.04,448.5 165.27,449.2 165.51,450.1 165.74,451.3 165.97,451.7 166.21,451.3 166.44,451.0 166.67,451.6 166.91,452.8 167.14,453.5 167.37,452.9 167.61,452.5 167.84,453.3 168.07,453.0 168.31,452.9 168.54,453.3 168.78,453.8 169.01,453.9 169.24,454.4 169.48,454.8 169.71,454.3 169.94,453.0 170.18,453.6 170.41,455.0 170.64,455.6 170.88,456.7 171.11,456.0 171.34,455.9 171.58,456.7 171.81,456.9 172.04,456.5 172.28,456.8 172.51,456.3 172.74,456.8 172.98,458.0 173.21,457.4 173.44,458.5 173.68,459.0 173.91,459.2 174.14,459.5 174.38,459.1 174.61,457.9 174.84,458.4 175.08,459.2 175.31,460.0 175.54,459.1 175.78,459.0 176.01,459.3 176.24,459.7 176.48,458.3 176.71,458.5 176.94,459.8 177.18,459.6 177.41,461.1 177.64,461.3 177.88,461.1 178.11,461.8 178.34,462.0 178.58,462.8 178.81,463.4 179.04,463.9 179.28,463.3 179.51,463.1 179.74,462.8 179.98,463.2 180.21,463.7 180.45,462.9 180.68,464.1 180.91,464.3 181.15,464.9 181.38,465.5 181.61,466.0 181.85,465.9 182.08,465.7 182.31,466.0 182.55,466.0 182.78,465.8 183.01,466.1 183.25,466.4 183.48,466.2 183.71,466.2 183.95,465.8 184.18,466.2 184.41,466.0 184.65,467.1 184.88,466.8 185.11,468.1 185.35,468.8 185.58,467.2 185.81,467.3 186.05,466.4 186.28,465.0 186.51,464.0 186.75,463.4 186.98,462.0 187.21,458.7 187.45,454.4 187.68,450.6 187.91,447.0 188.15,443.3 188.38,438.1 188.61,433.4 188.85,429.2 189.08,424.6 189.31,421.5 189.50,419.6 189.55,418.8 189.78,419.1 190.01,419.5 190.25,419.5 190.48,417.4 190.71,414.7 190.95,410.7 191.18,404.2 191.41,397.6 191.65,391.7 191.80,390.9 191.88,391.1 192.12,396.6 192.35,406.6 192.58,419.9 192.82,433.4 193.05,444.4 193.28,452.5 193.52,460.2 193.75,464.5 193.98,466.5 194.22,468.3 194.45,470.0 194.68,471.0 194.92,470.9 195.15,470.8 195.38,472.0 195.62,472.7 195.85,473.7 196.08,472.6 196.32,474.4 196.55,474.5 196.78,474.2 197.02,475.0 197.25,474.8 197.48,475.3 197.72,474.9 197.95,475.2 198.18,474.8 198.42,474.6 198.65,475.2 198.88,475.2 199.12,475.8 199.35,476.1 199.58,475.6 199.82,475.9 200.05,476.3 200.28,476.2 200.52,477.5 200.75,478.0 200.98,478.2 201.22,477.7 201.45,477.6 201.68,478.7 201.92,479.6 202.15,480.5 202.38,480.7 202.62,480.9 202.85,480.7 203.08,480.9 203.32,480.5 203.55,481.0 203.79,481.7 204.02,482.5 204.25,481.4 204.49,480.8 204.72,482.0 204.95,481.4 205.19,481.5 205.42,481.5 205.65,481.5 205.89,482.6 206.12,482.4 206.35,481.8 206.59,482.0 206.82,482.0 207.05,482.5 207.29,482.1 207.52,481.9 207.75,482.0 207.99,482.3 208.22,482.6 208.45,482.2 208.69,482.6 208.92,483.3 209.15,484.2 209.39,483.0 209.62,480.8 209.85,481.2 210.09,481.3 210.32,481.4 210.55,482.0 210.79,481.5 211.02,480.6 211.25,482.3 211.49,483.1 211.72,483.8 211.95,484.3 212.19,483.5 212.42,484.2 212.65,483.3 212.89,484.0 213.12,484.8 213.35,485.5 213.59,484.0 213.82,483.3 214.05,484.3 214.29,484.2 214.52,485.1 214.75,484.2 214.99,484.3 215.22,485.6 215.46,485.5 215.69,485.8 215.92,485.1 216.16,486.3 216.39,485.8 216.62,486.1 216.86,485.3 217.09,485.0 217.32,485.8 217.56,486.3 217.79,486.8 218.02,486.0 218.26,485.6 218.49,485.6 218.72,486.1 218.96,484.5 219.19,485.3 219.42,485.4 219.66,485.8 219.89,486.1 220.12,486.9 220.36,486.0 220.59,485.9 220.82,486.5 221.06,486.4 221.29,487.2 221.52,487.2 221.76,486.0 221.99,485.9 222.22,484.9 222.46,485.1 222.69,485.9 222.92,487.4 223.16,487.0 223.39,486.7 223.62,487.1 223.86,488.0 224.09,486.9 224.32,487.3 224.56,487.3 224.79,486.5 225.02,487.6 225.26,488.6 225.49,488.3 225.72,487.8 225.96,488.5 226.19,488.9 226.42,489.4 226.66,488.1 226.89,488.1 227.13,488.4 227.36,488.4 227.59,488.5 227.83,488.3 228.06,487.8 228.29,487.2 228.53,487.4 228.76,486.9 228.99,486.8 229.23,487.2 229.46,488.0 229.69,488.3 229.93,487.8 230.16,488.6 230.39,489.1 230.63,488.6 230.86,487.5 231.09,487.4 231.33,489.1 231.56,489.6 231.79,489.3 232.03,488.9 232.26,490.2 232.49,490.2 232.73,489.5 232.96,489.0 233.19,488.4 233.43,489.4 233.66,488.8 233.89,489.8 234.13,490.0 234.36,489.9 234.59,490.4 234.83,489.7 235.06,490.0 235.29,490.1 235.53,489.8 235.76,489.5 235.99,490.3 236.23,490.0 236.46,489.6 236.69,489.6 236.93,490.1 237.16,491.1 237.39,490.2 237.63,489.6 237.86,489.0 238.09,488.8 238.33,488.7 238.56,489.8 238.80,489.8 239.03,489.1 239.26,488.9 239.50,489.5 239.73,489.4 239.96,489.1 240.20,489.8 240.43,489.8 240.66,489.6 240.90,489.8 241.13,489.4 241.36,490.1 241.60,489.4 241.83,490.0 242.06,490.1 242.30,489.5 242.53,489.3 242.76,488.2 243.00,488.1 243.23,488.9 243.46,489.3 243.70,490.1 243.93,490.3 244.16,490.6 244.40,490.6 244.63,490.5 244.86,490.4 245.10,490.1 245.33,490.4 245.56,491.2 245.80,489.7 246.03,490.2 246.26,491.0 246.50,491.0 246.73,491.4 246.96,490.8 247.20,489.8 247.43,489.9 247.66,489.7 247.90,490.9 248.13,491.1 248.36,490.0 248.60,489.8 248.83,489.0 249.06,488.3 249.30,488.7 249.53,488.5 249.76,489.1 250.00,489.8 250.23,490.3 250.47,490.4 250.70,489.5 250.93,489.5 251.17,489.6 251.40,489.0 251.63,487.2 251.87,487.9 252.10,488.1 252.33,486.0 252.57,485.2 252.80,483.9 253.03,481.3 253.27,480.6 253.50,479.6 253.73,477.8 253.97,475.1 254.20,471.4 254.43,464.6 254.67,454.8 254.90,438.7 255.13,416.2 255.37,390.1 255.60,364.5 255.80,349.2 255.83,347.3 256.07,345.3 256.30,355.9 256.53,373.6 256.77,393.2 257.00,409.4 257.23,422.8 257.47,431.2 257.70,434.6 257.93,437.7 258.17,437.8 258.40,438.4 258.63,437.5 258.87,435.9 259.10,435.3 259.33,434.0 259.57,432.1 259.80,428.6 260.03,421.6 260.27,411.1 260.50,396.0 260.73,376.6 260.97,357.9 261.20,344.7 261.20,344.7 261.43,341.6 261.67,348.8 261.90,363.7 262.14,379.9 262.37,394.9 262.60,402.4 262.84,399.5 263.07,381.5 263.30,343.9 263.54,283.0 263.77,200.6 264.00,104.9 264.24,15.8 264.47,-46.1 264.50,-49.2 264.70,-60.6 264.94,-29.8 265.17,40.3 265.40,130.4 265.64,221.5 265.87,298.8 266.10,354.9 266.34,391.1 266.57,411.5 266.80,419.2 267.04,417.2 267.27,405.8 267.50,386.6 267.74,364.2 267.97,344.5 268.10,337.2 268.20,336.1 268.44,342.0 268.67,359.4 268.90,382.4 269.14,408.3 269.37,429.2 269.60,445.4 269.84,456.2 270.07,461.6 270.30,466.0 270.54,470.3 270.77,472.2 271.00,474.9 271.24,478.5 271.47,481.1 271.70,484.2 271.94,486.7 272.17,487.4 272.40,488.1 272.64,488.6 272.87,487.7 273.10,488.3 273.34,488.3 273.57,487.8 273.81,487.7 274.04,487.1 274.27,487.3 274.51,487.8 274.74,487.9 274.97,488.2 275.21,487.0 275.44,487.1 275.67,487.0 275.91,487.3 276.14,487.8 276.37,486.9 276.61,487.5 276.84,487.1 277.07,487.2 277.31,487.8 277.54,487.4 277.77,487.6 278.01,487.3 278.24,487.0 278.47,486.6 278.71,485.9 278.94,486.3 279.17,486.8 279.41,486.6 279.64,485.8 279.87,486.6 280.11,486.2 280.34,484.9 280.57,484.8 280.81,485.4 281.04,484.7 281.27,485.3 281.51,486.0 281.74,486.3 281.97,486.4 282.21,486.5 282.44,485.6 282.67,485.4 282.91,485.4 283.14,482.4 283.37,480.6 283.61,478.5 283.84,475.9 284.07,474.4 284.31,472.4 284.54,471.1 284.60,469.7 284.77,471.4 285.01,472.6 285.24,473.6 285.48,476.7 285.71,479.0 285.94,481.7 286.18,484.2 286.41,484.8 286.64,485.3 286.88,486.4 287.11,486.5 287.34,487.0 287.58,487.4 287.81,487.9 288.04,489.0 288.28,489.0 288.51,488.3 288.74,489.0 288.98,487.9 289.21,488.3 289.44,489.1 289.68,490.0 289.91,490.0 290.14,490.0 290.38,490.5 290.61,490.5 290.84,490.6 291.08,489.4 291.31,488.9 291.54,489.7 291.78,490.5 292.01,490.3 292.24,490.3 292.48,490.0 292.71,489.8 292.94,489.9 293.18,489.7 293.41,490.6 293.64,490.0 293.88,490.2 294.11,489.9 294.34,490.6 294.58,490.1 294.81,491.1 295.04,490.2 295.28,490.6 295.51,490.5 295.74,490.2 295.98,491.0 296.21,490.5 296.44,490.9 296.68,489.8 296.91,489.5 297.15,489.2 297.38,490.4 297.61,490.6 297.85,490.1 298.08,489.5 298.31,489.5 298.55,491.2 298.78,490.6 299.01,489.3 299.25,489.7 299.48,489.2 299.71,491.3 299.95,492.0 300.18,491.5 300.41,490.4 300.65,489.7 300.88,489.5 301.11,490.4 301.35,490.1 301.58,490.2 301.81,490.3 302.05,490.6 302.28,491.5 302.51,491.9 302.75,491.1 302.98,490.6 303.21,490.0 303.45,489.7 303.68,490.1 303.91,491.1 304.15,491.0 304.38,491.2 304.61,490.7 304.85,490.0 305.08,489.5 305.31,489.7 305.55,489.7 305.78,491.4 306.01,490.9 306.25,490.7 306.48,491.7 306.71,490.8 306.95,491.0 307.18,490.8 307.41,490.8 307.65,490.4 307.88,490.7 308.11,490.8 308.35,489.1 308.58,488.4 308.82,490.0 309.05,489.7 309.28,489.5 309.52,489.0 309.75,489.6 309.98,489.4 310.22,487.7 310.45,488.0 310.68,487.2 310.92,486.5 311.15,487.1 311.38,487.3 311.62,486.2 311.85,486.1 312.08,487.1 312.32,486.6 312.55,486.0 312.78,484.8 313.02,483.1 313.25,481.9 313.48,480.5 313.72,479.4 313.95,478.8 314.18,476.5 314.42,474.0 314.65,472.6 314.88,471.7 315.12,471.5 315.35,470.7 315.58,470.6 315.82,470.6 316.05,469.8 316.28,469.1 316.52,468.7 316.75,468.0 316.98,465.5 317.22,461.3 317.45,455.6 317.68,447.6 317.92,440.4 318.15,433.4 318.30,430.0 318.38,428.6 318.62,430.5 318.85,433.0 319.08,440.5 319.32,449.4 319.55,458.2 319.78,464.2 320.02,469.8 320.25,473.3 320.49,475.5 320.72,477.7 320.95,479.0 321.19,479.2 321.42,479.1 321.65,478.9 321.89,481.0 322.12,480.6 322.35,479.9 322.59,481.1 322.82,482.0 323.05,481.3 323.29,481.2 323.52,483.1 323.75,483.0 323.99,483.1 324.22,483.4 324.45,482.3 324.69,483.3 324.92,484.1 325.15,485.3 325.39,484.2 325.62,483.9 325.85,483.7 326.09,484.2 326.32,484.9 326.55,485.4 326.79,485.7 327.02,486.9 327.25,486.5 327.49,486.4 327.72,486.5 327.95,485.7 328.19,484.6 328.42,483.9 328.65,484.5 328.89,484.3 329.12,484.9 329.35,483.7 329.59,482.7 329.82,483.8 330.05,484.3 330.29,483.6 330.52,483.4 330.75,483.5 330.99,484.0 331.22,483.1 331.45,482.4 331.69,481.7 331.92,481.2 332.16,482.5 332.39,482.2 332.62,481.0 332.86,480.8 333.09,478.9 333.32,476.5 333.56,474.8 333.79,473.3 334.02,470.5 334.26,468.8 334.49,467.2 334.72,465.3 334.96,463.1 335.19,462.4 335.42,461.4 335.66,458.9 335.89,456.0 336.12,451.1 336.36,444.7 336.59,434.6 336.82,425.5 337.06,417.9 337.20,414.3 337.29,413.0 337.52,413.5 337.76,418.0 337.99,424.4 338.22,433.2 338.46,441.4 338.69,447.9 338.92,453.9 339.16,457.4 339.39,460.0 339.62,461.9 339.86,462.6 340.09,462.6 340.32,463.0 340.56,461.3 340.79,459.1 341.02,455.2 341.26,447.3 341.49,439.9 341.70,434.9 341.72,434.3 341.96,434.9 342.19,440.2 342.42,445.9 342.66,453.3 342.89,460.3 343.12,466.1 343.36,470.0 343.59,472.3 343.83,473.7 344.06,474.2 344.29,474.4 344.53,476.6 344.76,478.0 344.99,477.2 345.23,476.8 345.46,474.9 345.69,473.2 345.93,472.7 346.16,473.2 346.39,472.8 346.63,472.3 346.86,472.3 347.09,471.3 347.33,471.3 347.56,470.6 347.79,470.4 348.03,470.2 348.26,469.2 348.49,469.5 348.73,469.0 348.96,467.5 349.19,467.1 349.43,463.6 349.66,460.9 349.89,457.4 350.13,452.3 350.36,450.6 350.50,449.8 350.59,448.7 350.83,449.1 351.06,450.8 351.29,453.5 351.53,457.2 351.76,460.0 351.99,462.9 352.23,465.5 352.46,467.4 352.69,468.3 352.93,467.5 353.16,467.5 353.39,468.8 353.63,469.1 353.86,468.9 354.09,469.7 354.33,470.1 354.56,470.2 354.79,470.6 355.03,469.5 355.26,470.1 355.50,471.2 355.73,470.4 355.96,469.3 356.20,469.6 356.43,469.7 356.66,468.6 356.90,465.2 357.13,460.2 357.36,451.9 357.60,442.7 357.83,432.4 358.06,421.2 358.30,414.2 358.30,413.7 358.53,413.8 358.76,416.8 359.00,423.5 359.23,431.6 359.46,441.9 359.70,452.8 359.93,459.6 360.16,464.9 360.40,469.3 360.63,471.6 360.86,471.8 361.10,473.1 361.33,474.6 361.56,475.3 361.80,475.9 362.03,476.0 362.26,476.6 362.50,477.4 362.73,477.6 362.96,478.0 363.20,478.7 363.43,479.6 363.66,480.0 363.90,480.1 364.13,480.3 364.36,480.6 364.60,480.9 364.83,480.9 365.06,480.3 365.30,481.0 365.53,480.2 365.76,480.8 366.00,480.5 366.23,481.1 366.46,481.2 366.70,480.2 366.93,481.4 367.17,481.6 367.40,481.4 367.63,481.7 367.87,481.5 368.10,481.6 368.33,481.4 368.57,482.3 368.80,482.5 369.03,482.5 369.27,482.1 369.50,483.4 369.73,483.6 369.97,482.4 370.20,482.0 370.43,482.2 370.67,482.9 370.90,483.0 371.13,481.9 371.37,481.1 371.60,482.0 371.83,481.9 372.07,481.7 372.30,481.3 372.53,480.2 372.77,480.1 373.00,479.7 373.23,479.7 373.47,479.9 373.70,479.2 373.93,478.9 374.17,480.0 374.40,480.0 374.63,479.2 374.87,478.2 375.10,478.5 375.33,479.0 375.57,479.0 375.80,478.3 376.03,478.3 376.27,477.6 376.50,477.5 376.73,477.7 376.97,477.2 377.20,477.1 377.43,477.3 377.67,476.9 377.90,475.6 378.13,475.0 378.37,474.0 378.60,473.8 378.84,474.3 379.07,473.7 379.30,472.8 379.54,473.5 379.77,472.8 380.00,472.7 380.24,472.8 380.47,472.2 380.70,471.0 380.94,469.6 381.17,470.0 381.40,468.9 381.64,467.5 381.87,466.7 382.10,467.6 382.34,466.4 382.57,465.2 382.80,464.4 383.04,463.2 383.27,462.3 383.50,463.2 383.74,463.5 383.97,463.1 384.20,463.2 384.44,462.6 384.67,460.6 384.90,460.0 385.14,460.1 385.37,459.3 385.60,458.7 385.84,459.1 386.07,459.3 386.30,459.1 386.54,459.5 386.77,459.6 387.00,460.0 387.24,459.7 387.47,459.5 387.70,460.5 387.94,461.1 388.17,462.4 388.40,463.3 388.64,463.2 388.87,463.7 389.10,463.6 389.34,463.6 389.57,462.2 389.80,460.7 390.04,459.3 390.27,457.8 390.51,456.6 390.74,453.8 390.97,451.2 391.21,450.2 391.44,448.3 391.67,447.0 391.91,445.6 392.14,443.9 392.37,443.7 392.61,443.5 392.84,442.3 393.07,442.0 393.31,441.4 393.54,440.2 393.77,438.5 394.01,436.2 394.24,433.5 394.47,430.2 394.71,427.8 394.80,428.5 394.94,429.4 395.17,428.6 395.41,427.9 395.64,429.8 395.87,431.6 396.11,432.4 396.34,434.7 396.57,435.5 396.81,437.2 397.04,437.8 397.27,439.1 397.51,437.6 397.74,437.9 397.97,437.7 398.21,439.1 398.44,439.2 398.67,439.5 398.91,438.9 399.14,437.9 399.37,437.6 399.61,436.7 399.84,435.8 400.07,434.8 400.31,432.8 400.54,429.1 400.77,424.5 401.01,419.5 401.24,416.1 401.40,414.0 401.47,414.1 401.71,414.5 401.94,415.8 402.18,418.4 402.41,422.4 402.64,427.1 402.88,430.8 403.11,433.7 403.34,436.8 403.58,438.9 403.81,441.4 404.04,441.7 404.28,442.9 404.51,445.7 404.74,448.1 404.98,450.0 405.21,452.0 405.44,454.6 405.68,457.3 405.91,460.0 406.14,462.3 406.38,465.0 406.61,466.2 406.84,468.6 407.08,469.6 407.31,470.5 407.54,472.4 407.78,473.0 408.01,474.0 408.24,475.9 408.48,476.0 408.71,476.7 408.94,476.7 409.18,477.3 409.41,477.5 409.64,478.3 409.88,478.0 410.11,477.8 410.34,478.2 410.58,479.4 410.81,478.8 411.04,478.5 411.28,477.4 411.51,477.6 411.74,477.9 411.98,477.3 412.21,478.6 412.44,478.4 412.68,478.1 412.91,477.9 413.14,477.8 413.38,477.8 413.61,478.7 413.85,478.4 414.08,478.2 414.31,477.0 414.55,476.5 414.78,477.2 415.01,476.3 415.25,477.0 415.48,478.5 415.71,479.2 415.95,478.5 416.18,479.1 416.41,479.5 416.65,479.4 416.88,478.9 417.11,479.3 417.35,478.7 417.58,478.6 417.81,478.3 418.05,479.5 418.28,479.8 418.51,481.4 418.75,481.2 418.98,480.3 419.21,480.0 419.45,479.5 419.68,478.9 419.91,478.6 420.15,477.7 420.38,476.8 420.61,476.2 420.85,476.4 421.08,474.9 421.31,473.7 421.55,473.1 421.78,472.0 422.01,471.4 422.25,471.1 422.48,469.9 422.71,467.2 422.95,463.3 423.18,460.7 423.41,458.1 423.60,456.6 423.65,455.6 423.88,454.9 424.11,456.0 424.35,457.4 424.58,459.3 424.81,462.2 425.05,465.0 425.28,466.8 425.52,468.6 425.75,469.1 425.98,470.7 426.22,471.2 426.45,471.2 426.68,471.8 426.92,472.1 427.15,472.7 427.38,473.1 427.62,474.0 427.85,473.2 428.08,472.6 428.32,473.1 428.55,473.4 428.78,473.2 429.02,473.3 429.25,472.3 429.48,472.0 429.72,472.7 429.95,471.5 430.18,470.6 430.42,469.5 430.65,468.4 430.88,467.4 430.90,467.3 431.12,467.6 431.35,467.2 431.58,467.9 431.82,468.8 432.05,468.9 432.28,469.2 432.52,471.0 432.75,472.1 432.98,472.0 433.22,471.8 433.45,473.6 433.68,474.8 433.92,473.3 434.15,473.0 434.38,474.7 434.62,475.7 434.85,476.6 435.08,477.0 435.32,477.0 435.55,477.4 435.78,477.5 436.02,477.4 436.25,477.5 436.48,477.9 436.72,479.0 436.95,479.5 437.19,479.9 437.42,481.0 437.65,480.8 437.89,481.3 438.12,481.7 438.35,481.3 438.59,482.4 438.82,483.6 439.05,483.8 439.29,483.1 439.52,483.4 439.75,483.8 439.99,484.7 440.22,484.7 440.45,484.0 440.69,484.6 440.92,484.3 441.15,483.7 441.39,483.1 441.62,482.9 441.85,482.4 442.09,483.5 442.32,483.9 442.55,483.6 442.79,483.3 443.02,484.3 443.25,483.9 443.49,482.2 443.72,482.7 443.95,482.3 444.19,481.1 444.42,482.6 444.65,483.2 444.89,483.2 445.12,482.8 445.35,482.2 445.59,482.1 445.82,482.7 446.05,482.8 446.29,481.9 446.52,481.8 446.75,481.8 446.99,480.6 447.22,481.4 447.45,480.3 447.69,478.5 447.92,478.5 448.15,477.1 448.39,476.8 448.62,475.8 448.86,473.3 449.09,471.8 449.32,470.9 449.56,469.1 449.79,468.6 450.02,467.0 450.26,465.5 450.49,461.7 450.72,458.3 450.96,452.2 451.19,443.4 451.42,435.3 451.66,426.3 451.89,421.4 451.90,420.9 452.12,421.1 452.36,424.0 452.59,427.3 452.82,432.2 453.06,438.4 453.29,444.0 453.52,450.2 453.76,455.8 453.99,459.8 454.22,463.0 454.46,464.8 454.69,465.8 454.92,465.5 455.16,465.8 455.39,465.2 455.62,466.0 455.86,466.7 456.09,466.5 456.32,464.7 456.56,464.9 456.79,465.4 457.02,464.9 457.26,465.4 457.49,465.4 457.72,464.7 457.96,464.3 458.19,464.1 458.42,464.5 458.66,464.5 458.89,463.9 459.12,464.0 459.36,461.4 459.59,460.9 459.82,460.7 460.06,459.4 460.29,459.3 460.53,459.0 460.76,457.9 460.99,457.0 461.23,456.7 461.46,455.9 461.69,455.2 461.93,454.3 462.16,453.8 462.39,454.2 462.63,455.3 462.86,456.1 463.09,456.4 463.33,456.6 463.56,455.4 463.79,453.4 464.03,449.5 464.26,444.5 464.49,439.8 464.73,434.0 464.96,428.5 465.19,426.2 465.20,427.1 465.43,424.7 465.66,428.6 465.89,432.5 466.13,437.1 466.36,442.4 466.59,448.7 466.83,455.8 467.06,460.0 467.29,464.4 467.53,468.6 467.76,471.4 467.99,473.3 468.23,474.9 468.46,475.2 468.69,476.0 468.93,474.8 469.16,473.9 469.39,475.2 469.63,474.9 469.86,473.8 470.09,473.1 470.33,473.8 470.56,473.0 470.79,473.0 471.03,474.8 471.26,475.6 471.49,475.2 471.73,474.3 471.96,471.2 472.20,467.3 472.43,464.0 472.66,461.9 472.80,460.7 472.90,460.1 473.13,460.3 473.36,462.8 473.60,465.3 473.83,468.9 474.06,472.5 474.30,476.4 474.53,480.1 474.76,482.2 475.00,484.8 475.23,485.5 475.46,487.3 475.70,488.9 475.93,489.7 476.16,488.6 476.40,488.9 476.63,489.5 476.86,489.6 477.10,489.4 477.33,489.3 477.56,489.8 477.80,490.5 478.03,490.3 478.26,491.6 478.50,491.1 478.73,489.4 478.96,490.3 479.20,492.1 479.43,493.1 479.66,493.4 479.90,492.7 480.13,493.7 480.36,494.4 480.60,493.6 480.83,492.8 481.06,492.8 481.30,492.5 481.53,491.5 481.76,491.0 482.00,490.8 482.23,489.7 482.46,489.3 482.70,489.8 482.93,489.1 483.16,489.4 483.40,488.9 483.63,489.0 483.87,488.1 484.10,488.6 484.33,487.9 484.57,487.0 484.80,486.3 485.03,486.3 485.27,485.7 485.50,485.5 485.73,486.5 485.97,486.6 486.20,486.5 486.43,485.1 486.67,484.5 486.90,484.9 487.13,486.3 487.37,486.3 487.60,485.1 487.83,486.1 488.07,485.4 488.30,484.5 488.53,484.7 488.77,484.6 489.00,483.8 489.23,483.2 489.47,482.4 489.70,481.8 489.93,481.9 490.17,481.3 490.40,481.8 490.63,481.2 490.87,481.5 491.10,480.1 491.33,481.2 491.57,480.4 491.80,480.4 492.03,481.4 492.27,482.0 492.50,481.8 492.73,482.2 492.97,483.6 493.20,483.1 493.43,482.4 493.67,483.2 493.90,484.5 494.13,483.2 494.37,481.8 494.60,480.4 494.83,477.5 495.07,475.7 495.30,473.4 495.54,471.8 495.77,470.1 496.00,467.6 496.24,468.0 496.47,468.1 496.70,467.8 496.94,465.9 497.17,464.1 497.40,462.8 497.64,460.2 497.87,458.5 498.10,456.6 498.34,454.4 498.40,454.3 498.57,453.2 498.80,452.5 499.04,453.7 499.27,455.1 499.50,457.5 499.74,459.0 499.97,461.1 500.20,463.1 500.44,464.9 500.67,465.3 500.90,466.2 501.14,468.6 501.37,471.3 501.60,472.6 501.84,474.3 502.07,475.6 502.30,476.7 502.54,477.9 502.77,480.1 503.00,481.6 503.24,483.4 503.47,485.8 503.70,486.3 503.94,487.6 504.17,488.7 504.40,490.5 504.64,491.2 504.87,492.9 505.10,493.1 505.34,494.6 505.57,496.1 505.80,496.1 506.04,497.0 506.27,497.2 506.50,497.1 506.74,497.7 506.97,498.8 507.21,499.6 507.44,498.8 507.67,498.9 507.91,498.4 508.14,498.5 508.37,497.8 508.61,498.1 508.84,498.8 509.07,498.9 509.31,499.5 509.54,500.2 509.77,499.7 510.01,499.2 510.24,499.0 510.47,499.7 510.71,500.7 510.94,500.5 511.17,500.6 511.41,501.3 511.64,501.8 511.87,501.8 512.11,501.2 512.34,500.7 512.57,500.4 512.81,501.0 513.04,501.6 513.27,502.3 513.51,502.1 513.74,501.7 513.97,502.0 514.21,500.9 514.44,500.6 514.67,500.6 514.91,500.8 515.14,501.3 515.37,501.3 515.61,501.9 515.84,502.9 516.07,501.8 516.31,502.0 516.54,502.6 516.77,503.2 517.01,503.2 517.24,502.8 517.47,502.6 517.71,502.8 517.94,503.0 518.17,501.9 518.41,501.0 518.64,502.0 518.88,501.7 519.11,502.4 519.34,503.4 519.58,503.3 519.81,503.8 520.04,502.5 520.28,503.2 520.51,503.6 520.74,503.6 520.98,502.6 521.21,502.5 521.44,502.0 521.68,501.3 521.91,500.2 522.14,500.3 522.38,502.0 522.61,502.8 522.84,503.1 523.08,503.6 523.31,503.6 523.54,502.6 523.78,503.3 524.01,503.8 524.24,503.7 524.48,503.5 524.71,503.4 524.94,502.4 525.18,502.9 525.41,503.9 525.64,504.2 525.88,503.6 526.11,502.9 526.34,503.1 526.58,503.8 526.81,504.4 527.04,503.6 527.28,502.9 527.51,503.2 527.74,503.5 527.98,504.2 528.21,503.3 528.44,502.6 528.68,502.3 528.91,501.5 529.14,501.4 529.38,501.5 529.61,501.0 529.84,500.8 530.08,500.3 530.31,500.0 530.55,499.6 530.78,498.4 531.01,497.8 531.25,497.2 531.48,498.4 531.71,498.8 531.95,498.0 532.18,497.7 532.41,497.4 532.65,497.8 532.88,497.4 533.11,497.1 533.35,496.4 533.58,497.7 533.81,496.0 534.05,495.3 534.28,495.3 534.51,494.7 534.75,494.8 534.98,492.9 535.21,491.5 535.45,491.2 535.68,490.1 535.91,487.8 536.15,486.7 536.38,485.9 536.60,485.7 536.61,486.7 536.85,486.4 537.08,486.2 537.31,486.3 537.55,486.1 537.78,487.0 538.01,487.4 538.25,488.3 538.48,490.2 538.71,490.0 538.95,491.5 539.18,492.2 539.41,492.5 539.65,493.8 539.88,494.8 540.11,495.2 540.35,494.8 540.58,495.4 540.81,495.2 541.05,494.9 541.28,493.4 541.51,493.5 541.75,493.5 541.98,493.6 542.22,492.7 542.45,492.3 542.68,491.7 542.92,491.4 543.15,491.5 543.38,492.0 543.62,490.6 543.85,489.6 544.08,490.5 544.32,490.3 544.55,490.4 544.78,490.1 545.02,489.2 545.25,489.0 545.48,488.9 545.72,488.9 545.95,488.5 546.18,488.9 546.42,489.2 546.65,487.9 546.88,487.3 547.12,486.9 547.35,487.0 547.58,486.4 547.82,485.8 548.05,484.3 548.28,482.7 548.52,481.3 548.75,479.3 548.98,479.0 549.22,478.4 549.40,478.8 549.45,478.2 549.68,476.7 549.92,476.8 550.15,477.6 550.38,476.9 550.62,478.2 550.85,480.1 551.08,481.4 551.32,482.5 551.55,484.0 551.78,484.5 552.02,485.4 552.25,486.1 552.48,486.4 552.72,487.4 552.95,487.8 553.18,488.5 553.42,488.3 553.65,490.1 553.89,490.7 554.12,491.2 554.35,491.9 554.59,492.2 554.82,493.4 555.05,494.2 555.29,494.7 555.52,495.5 555.75,496.0 555.99,496.4 556.22,496.6 556.45,497.9 556.69,499.5 556.92,499.9 557.15,499.9 557.39,500.7 557.62,501.8 557.85,502.0 558.09,502.9 558.32,502.5 558.55,503.1 558.79,502.6 559.02,501.6 559.25,501.1 559.49,500.4 559.72,498.9 559.95,500.0 560.19,500.5 560.42,500.2 560.65,500.0 560.89,498.6 561.12,498.6 561.35,498.4 561.59,497.9 561.82,498.0 562.05,497.2 562.29,496.4 562.52,496.7 562.75,496.5 562.99,495.6 563.22,495.7 563.45,495.2 563.69,494.5 563.92,493.4 564.15,493.8 564.39,493.0 564.62,491.9 564.85,491.2 565.09,490.5 565.32,489.3 565.56,488.5 565.79,488.2 565.80,487.9 566.02,487.4 566.26,486.8 566.49,487.2 566.72,487.7 566.96,487.3 567.19,487.7 567.42,488.4 567.66,489.0 567.89,489.7 568.12,491.8 568.36,491.5 568.59,491.6 568.82,493.1 569.06,493.6 569.29,493.3 569.52,493.0 569.76,493.9 569.99,496.1 570.22,496.3 570.46,497.0 570.69,498.7 570.92,498.4 571.16,498.6 571.39,499.4 571.62,498.9 571.86,498.2 572.09,495.9 572.32,495.3 572.56,493.8 572.79,494.0 573.02,493.3 573.26,493.2 573.49,493.2 573.72,494.1 573.96,494.4 574.19,493.2 574.42,492.4 574.66,491.9 574.89,491.8 575.12,491.2 575.36,492.5 575.59,490.7 575.82,490.5 576.06,489.2 576.29,487.9 576.52,487.6 576.76,488.0 576.99,487.7 577.23,487.2 577.46,486.4 577.69,486.7 577.93,484.3 578.16,479.3 578.39,476.3 578.63,472.4 578.86,467.2 579.09,462.9 579.33,460.2 579.50,458.3 579.56,457.3 579.79,458.1 580.03,458.9 580.26,461.2 580.49,461.5 580.73,462.7 580.96,466.8 581.19,471.2 581.43,474.8 581.66,478.0 581.89,480.6 582.13,484.1 582.36,486.0 582.59,489.1 582.83,490.3 583.06,491.8 583.29,492.8 583.53,494.5 583.76,496.5 583.99,496.5 584.23,497.8 584.46,498.6 584.69,500.3 584.93,500.5 585.16,502.2 585.39,504.2 585.63,505.2 585.86,503.5 586.09,503.2 586.33,503.7 586.56,504.0 586.79,502.7 587.03,502.9 587.26,502.3 587.49,502.1 587.73,502.3 587.96,503.7 588.19,504.5 588.43,503.8 588.66,502.8 588.90,503.6 589.13,504.7 589.36,504.7 589.60,504.5 589.83,504.6 590.06,503.2 590.30,503.2 590.53,505.0 590.76,504.4 591.00,503.6 591.23,503.1 591.46,502.3 591.70,503.6 591.93,502.5 592.16,502.4 592.40,503.7 592.63,504.4 592.86,503.5 593.10,503.4 593.33,503.1 593.56,503.1 593.80,502.6 594.03,504.1 594.26,503.2 594.50,503.4 594.73,502.6 594.96,503.9 595.20,503.5 595.43,503.5 595.66,502.0 595.90,502.0 596.13,501.2 596.36,500.9 596.60,501.0 596.83,499.7 597.06,500.1 597.30,500.6 597.53,500.1 597.76,499.2 598.00,498.0 598.23,497.1 598.46,497.5 598.70,496.4 598.93,496.5 599.16,495.4 599.40,494.9 599.63,494.4 599.86,494.0 600.10,493.1 600.33,492.9 600.57,492.5 600.80,492.6 601.03,492.4 601.27,492.0 601.50,491.1 601.73,491.3 601.90,491.2 601.97,491.3 602.20,490.6 602.43,489.8 602.67,490.0 602.90,489.4 603.13,489.7 603.37,489.3 603.60,491.0 603.83,491.6 604.07,491.3 604.30,492.0 604.53,492.1 604.77,493.0 605.00,492.7 605.23,492.3 605.47,492.9 605.70,493.0 605.93,494.2 606.17,495.5 606.40,496.1 606.63,496.0 606.87,496.3 607.10,496.8 607.33,497.0 607.57,498.0 607.80,498.8 608.03,498.9 608.27,499.3 608.50,498.9 608.73,499.3 608.97,500.4 609.20,501.7 609.43,501.9 609.67,502.2 609.90,501.9 610.13,502.2 610.37,501.3 610.60,502.0 610.83,501.5 611.07,503.1 611.30,503.4 611.53,503.9 611.77,503.8 612.00,503.5 612.24,503.3 612.47,503.9 612.70,504.6 612.94,503.9 613.17,502.9 613.40,502.4 613.64,502.2 613.87,502.2 614.10,502.0 614.34,501.6 614.57,501.4 614.80,500.7 615.04,501.9 615.27,501.5 615.50,501.7 615.74,500.8 615.97,500.1 616.20,499.9 616.44,499.7 616.67,498.9 616.90,499.1 617.14,500.0 617.37,499.4 617.60,498.3 617.84,498.2 618.07,497.7 618.30,498.2 618.54,497.1 618.77,497.5 619.00,497.0 619.24,496.5 619.47,495.8 619.70,495.7 619.94,495.2 620.17,495.1 620.40,496.0 620.64,496.8 620.87,495.5 621.10,495.5 621.34,494.8 621.57,494.3 621.80,495.2 622.04,495.2 622.27,495.2 622.50,494.7 622.74,494.3 622.97,493.6 623.20,493.7 623.44,493.8 623.67,491.5 623.91,492.0 624.14,492.6 624.37,492.5 624.61,492.8 624.84,492.8 625.07,493.8 625.31,494.1 625.54,493.7 625.77,494.2 626.01,492.8 626.24,491.7 626.47,492.7 626.71,492.8 626.94,492.3 627.17,492.5 627.41,492.4 627.64,492.2 627.87,493.7 628.11,494.0 628.34,495.0 628.57,494.0 628.81,493.7 629.04,493.1 629.27,494.0 629.51,493.4 629.74,493.9 629.97,493.9 630.21,493.2 630.44,492.0 630.67,492.1 630.91,493.7 631.14,494.7 631.37,495.1 631.61,494.4 631.84,494.5 632.07,495.1 632.31,494.0 632.54,494.1 632.77,493.2 633.01,492.1 633.24,491.8 633.47,492.2 633.71,491.8 633.94,491.2 634.17,490.1 634.41,489.5 634.64,489.5 634.70,489.0 634.87,488.2 635.11,488.9 635.34,490.2 635.58,489.6 635.81,490.3 636.04,490.7 636.28,491.2 636.51,490.8 636.74,491.1 636.98,492.3 637.21,492.6 637.44,493.4 637.68,494.1 637.91,495.2 638.14,495.4 638.38,495.5 638.61,495.1 638.84,495.0 639.08,495.8 639.31,497.1 639.54,497.6 639.78,497.8 640.01,497.5 640.24,497.3 640.48,497.2 640.71,495.9 640.94,494.7 641.18,492.8 641.41,491.8 641.64,491.4 641.88,490.3 642.11,488.3 642.34,487.4 642.58,485.9 642.81,485.7 643.04,484.8 643.28,485.3 643.51,484.5 643.74,482.9 643.98,482.6 644.21,481.9 644.44,481.8 644.68,481.5 644.91,480.6 645.14,479.9 645.38,478.9 645.60,479.4 645.61,479.4 645.84,479.6 646.08,479.7 646.31,479.4 646.54,479.6 646.78,479.4 647.01,480.3 647.25,480.2 647.48,480.1 647.71,480.3 647.95,480.0 648.18,480.4 648.41,480.6 648.65,480.8 648.88,480.4 649.11,479.8 649.35,479.3 649.58,478.2 649.81,478.8 650.05,479.0 650.20,479.1 650.28,479.0 650.51,478.2 650.75,478.0 650.98,477.9 651.21,478.2 651.45,479.1 651.68,480.0 651.91,479.2 652.15,480.5 652.38,482.1 652.61,482.9 652.85,484.3 653.08,484.7 653.31,485.8 653.55,486.4 653.78,488.1 654.01,488.7 654.25,490.0 654.48,490.3 654.71,490.6 654.95,491.5 655.18,492.5 655.41,493.1 655.65,493.6 655.88,494.1 656.11,494.9 656.35,495.7 656.58,495.5 656.81,496.0 657.05,495.9 657.28,497.2 657.51,497.5 657.75,497.4 657.98,497.5 658.21,497.4 658.45,498.5 658.68,498.8 658.92,498.6 659.15,499.5 659.38,500.4 659.62,500.5 659.85,500.4 660.08,500.0 660.32,500.3 660.55,500.1 660.78,501.0 661.02,502.2 661.25,501.3 661.48,502.5 661.72,503.6 661.95,504.1 662.18,504.9 662.42,504.6 662.65,505.3 662.88,504.9 663.12,504.5 663.35,504.2 663.58,504.4 663.82,504.4 664.05,504.5 664.28,503.9 664.52,503.7 664.75,502.9 664.98,502.0 665.22,500.8 665.45,501.5 665.68,502.0 665.92,501.5 666.15,501.5 666.38,502.2 666.62,502.3 666.85,501.5 667.08,502.3 667.32,502.6 667.55,501.9 667.78,501.8 668.02,501.5 668.25,500.8 668.48,501.0 668.72,500.7 668.95,499.9 669.18,500.7 669.42,501.0 669.65,500.4 669.88,501.1 670.12,500.6 670.35,499.9 670.59,499.9 670.82,500.2 671.05,500.8 671.29,500.3 671.52,500.0 671.75,499.6 671.99,499.9 672.22,499.4 672.45,499.6 672.69,500.3 672.92,500.2 673.15,499.5 673.39,499.6 673.62,499.9 673.85,499.8 674.09,500.3 674.32,500.2 674.55,499.2 674.79,498.3 674.80,498.9 675.02,499.7 675.25,499.3 675.49,498.6 675.72,497.8 675.95,497.1 676.19,498.2 676.42,499.4 676.65,499.7 676.89,500.0 677.12,499.2 677.35,499.4 677.59,501.1 677.82,500.9 678.05,500.9 678.29,501.5 678.52,502.2 678.75,501.9 678.99,499.3 679.22,499.8 679.45,499.5 679.69,497.3 679.92,497.0 680.15,498.5 680.39,500.3 680.62,500.5 680.85,500.7 681.09,499.7 681.32,499.6 681.55,499.6 681.79,498.8 682.02,498.4 682.26,497.9 682.49,496.4 682.72,497.9 682.96,497.3 683.19,497.6 683.42,498.3 683.66,497.6 683.89,496.2 684.12,497.2 684.36,497.6 684.59,497.4 684.82,497.7 685.06,497.4 685.29,496.2 685.52,496.6 685.76,496.5 685.99,496.0 686.22,496.4 686.46,496.1 686.69,496.2 686.92,496.0 687.16,497.0 687.39,497.3 687.62,495.7 687.86,495.5 688.09,495.5 688.32,495.4 688.56,494.6 688.79,493.5 689.02,494.3 689.26,494.0 689.49,493.3 689.70,493.4 689.72,493.5 689.96,493.7 690.19,493.5 690.42,493.5 690.66,493.8 690.89,494.0 691.12,494.0 691.36,494.5 691.59,493.9 691.82,493.4 692.06,494.3 692.29,493.9 692.52,494.3 692.76,493.6 692.99,494.9 693.22,496.5 693.46,497.0 693.69,496.8 693.93,496.8 694.16,497.2 694.39,497.8 694.63,497.7 694.86,498.0 695.09,498.0 695.33,498.3 695.56,498.7 695.79,497.8 696.03,498.5 696.26,498.8 696.49,498.2 696.73,498.7 696.96,500.0 697.19,500.9 697.43,501.6 697.66,500.9 697.89,502.2 698.13,503.4 698.36,503.4 698.59,504.5 698.83,504.8 699.06,503.7 699.29,504.3 699.53,503.8 699.76,503.3 699.99,503.5 700.23,504.0 700.46,504.3 700.69,505.2 700.93,506.3 701.16,506.7 701.39,506.1 701.63,506.6 701.86,506.5 702.09,505.6 702.33,506.8 702.56,506.4 702.79,506.6 703.03,508.1 703.26,508.6 703.49,507.3 703.73,507.2 703.96,507.4 704.19,507.8 704.43,508.1 704.66,507.9 704.89,507.9 705.13,509.4 705.36,508.4 705.60,508.0 705.83,508.6 706.06,508.1 706.30,508.7 706.53,509.0 706.76,509.2 707.00,508.9 707.23,509.3 707.46,508.4 707.70,508.5 707.93,509.3 708.16,509.6 708.40,510.2 708.63,509.2 708.86,508.4 709.10,509.1 709.33,509.1 709.56,509.1 709.80,508.4 710.03,508.5 710.26,509.1 710.50,509.6 710.73,509.5 710.96,509.3 711.20,508.2 711.43,508.7 711.66,509.1 711.90,509.4 712.13,509.0 712.36,508.5 712.60,508.5 712.83,508.3 713.06,507.7 713.30,508.4 713.53,509.0 713.76,508.7 714.00,507.5 714.23,507.9 714.46,507.6 714.70,508.8 714.93,508.8 715.16,508.5 715.40,507.5 715.63,506.7 715.86,507.0 716.10,507.3 716.33,506.8 716.56,507.1 716.80,508.2 717.03,507.0 717.27,507.2 717.50,506.2 717.73,507.0 717.97,507.4 718.20,507.2 718.43,507.4 718.67,507.1 718.90,505.2 719.13,505.3 719.37,505.2 719.60,504.9 719.83,505.0 720.07,504.3 720.20,504.6 720.30,504.5 720.53,504.0 720.77,504.1 721.00,503.8 721.23,504.5 721.47,504.9 721.70,505.0 721.93,505.5 722.17,506.6 722.40,507.1 722.63,508.7 722.87,509.0 723.10,508.9 723.33,508.7 723.57,509.7 723.80,509.8 724.03,509.9 724.27,509.7 724.50,510.7 724.73,510.9 724.97,510.6 725.20,510.6 725.43,510.8 725.67,510.5 725.90,511.2 726.13,512.2 726.37,511.9 726.60,512.9 726.83,511.6 727.07,512.5 727.30,512.8 727.53,512.7 727.77,512.1 728.00,511.2 728.23,512.4 728.47,512.6 728.70,511.7 728.94,510.5 729.17,511.6 729.40,510.5 729.64,510.2 729.87,510.2 730.10,509.3 730.34,507.6 730.57,506.2 730.80,506.4 731.04,505.6 731.20,504.4 731.27,503.9 731.50,504.3 731.74,504.4 731.97,506.3 732.20,506.5 732.44,506.5 732.67,507.1 732.90,506.8 733.14,507.8 733.37,508.2 733.60,508.3 733.84,509.6 734.07,510.8 734.30,510.8 734.54,511.8 734.77,512.0 735.00,512.8 735.24,512.4 735.47,513.3 735.70,513.3 735.94,512.6 736.17,512.3 736.40,511.2 736.64,511.1 736.87,511.3 737.10,510.6 737.34,509.6 737.57,509.5 737.80,509.4 738.04,509.6 738.27,509.0 738.50,508.7 738.74,508.7 738.97,508.4 739.20,508.6 739.44,507.1 739.67,506.1 739.90,506.5 740.14,505.7 740.37,505.7 740.61,506.2 740.84,505.9 741.07,505.9 741.31,505.2 741.54,505.3 741.77,505.7 742.01,505.2 742.24,505.1 742.47,505.5 742.71,506.4 742.94,506.2 743.17,505.3 743.41,504.6 743.64,504.2 743.87,505.0 744.11,504.7 744.34,504.7 744.57,503.9 744.81,504.9 745.04,505.1 745.27,505.4 745.51,505.6 745.74,505.0 745.97,504.7 746.21,505.0 746.44,504.3 746.67,505.3 746.91,504.7 747.14,503.9 747.37,504.9 747.61,505.0 747.84,505.2 748.07,504.9 748.31,504.5 748.54,504.0 748.77,503.6 749.01,504.4 749.24,504.4 749.47,503.8 749.71,503.9 749.94,503.4 750.17,504.2 750.41,504.0 750.64,503.9 750.87,503.6 751.11,504.3 751.34,503.9 751.57,503.4 751.81,503.7 752.04,503.5 752.28,503.6 752.51,502.3 752.74,502.4 752.98,503.8 753.21,502.9 753.44,503.0 753.68,502.7 753.90,503.3 753.91,504.1 754.14,502.3 754.38,503.2 754.61,503.4 754.84,503.5 755.08,503.2 755.31,503.6 755.54,505.0 755.78,504.8 756.01,504.2 756.24,504.7 756.48,505.2 756.71,507.6 756.94,507.0 757.18,506.3 757.41,508.0 757.64,508.5 757.88,508.6 758.11,508.7 758.34,508.4 758.58,508.4 758.81,508.0 759.04,509.8 759.28,510.4 759.51,509.6 759.74,509.0 759.98,507.7 760.21,507.3 760.44,506.4 760.68,506.3 760.91,507.4 761.14,508.3 761.38,508.5 761.61,510.0 761.84,509.4 762.08,508.0 762.31,509.1 762.54,510.3 762.78,510.1 763.01,510.1 763.24,509.1 763.48,510.1 763.71,509.3 763.95,510.0 764.18,510.9 764.41,509.9 764.65,509.4 764.88,509.6 765.11,508.9 765.35,509.0 765.58,510.0 765.81,509.2 766.05,509.8 766.28,511.4 766.51,510.6 766.75,511.5 766.98,512.2 767.21,511.7 767.45,511.5 767.68,512.3 767.91,512.2 768.15,513.9 768.38,514.1 768.61,512.7 768.85,513.1 769.08,513.0 769.31,513.5 769.55,513.3 769.78,513.2 770.01,513.9 770.25,513.3 770.48,514.3 770.71,514.4 770.95,514.4 771.18,515.3 771.41,515.0 771.65,514.5 771.88,514.5 772.11,514.5 772.35,514.8 772.58,513.8 772.81,511.9 773.05,511.6 773.28,512.5 773.51,512.7 773.75,513.0 773.98,512.5 774.21,512.9 774.45,513.8 774.68,512.9 774.91,513.5 775.15,513.4 775.38,513.9 775.62,513.7 775.85,513.2 776.08,513.4 776.32,512.8 776.55,512.1 776.78,512.7 777.02,512.7 777.25,512.3 777.48,512.2 777.72,511.8 777.95,511.9 778.18,511.4 778.42,510.5 778.65,511.1 778.88,512.0 779.12,511.5 779.35,511.1 779.58,509.7 779.82,508.7 780.05,508.4 780.28,509.2 780.52,510.0 780.75,510.1 780.98,509.8 781.22,509.1 781.45,509.0 781.68,508.6 781.92,509.1 782.15,508.9 782.38,508.0 782.62,507.7 782.85,506.7 783.08,507.7 783.32,507.4 783.55,507.6 783.78,508.1 784.02,508.0 784.25,507.3 784.48,508.2 784.72,508.5 784.95,508.1 785.18,507.6 785.42,506.8 785.65,506.7 785.88,505.1 786.12,504.5 786.35,504.9 786.58,504.7 786.70,504.4 786.82,505.3 787.05,503.9 787.29,503.5 787.52,505.0 787.75,506.7 787.99,506.8 788.22,506.9 788.45,507.2 788.69,507.8 788.92,508.2 789.15,508.4 789.39,508.6 789.62,508.5 789.85,510.1 790.09,510.3 790.32,511.3 790.55,512.2 790.79,512.9 791.02,512.8 791.25,514.0 791.49,514.7 791.72,514.7 791.95,515.0 792.19,515.5 792.42,515.3 792.65,515.8 792.89,516.2 793.12,517.5 793.35,516.6 793.59,516.3 793.82,517.0 794.05,517.2 794.29,516.7 794.52,516.4 794.75,517.1 794.99,517.2 795.22,516.2 795.45,516.8 795.69,516.0 795.92,516.8 796.15,516.5 796.39,516.5 796.62,517.1 796.85,517.6 797.09,517.7 797.32,517.0 797.55,515.9 797.79,514.6 798.02,515.1 798.25,515.7 798.49,515.7 798.72,516.2 798.96,516.2 799.19,517.0 799.42,516.0 799.66,515.1 799.89,515.3 800.12,515.2 800.36,515.6 800.59,515.7 800.82,515.1 801.06,514.3 801.29,512.7 801.52,511.8 801.76,511.5 801.99,511.5 802.22,511.0 802.46,511.0 802.69,510.9 802.92,510.2 803.16,510.6 803.39,509.6 803.62,509.9 803.86,509.8 804.09,510.0 804.32,509.3 804.56,508.6 804.79,508.2 805.02,507.2 805.26,506.5 805.49,506.6 805.72,505.5 805.96,505.9 806.19,506.2 806.20,504.9 806.42,505.1 806.66,504.9 806.89,504.6 807.12,506.3 807.36,507.6 807.59,506.9 807.82,507.5 808.06,507.8 808.29,507.6 808.52,508.7 808.76,509.2 808.99,509.9 809.22,509.9 809.46,509.6 809.69,510.7 809.92,511.4 810.16,511.5 810.39,512.1 810.63,512.1 810.86,511.2 811.09,512.2 811.33,511.4 811.56,511.9 811.79,512.7 812.03,512.6 812.26,513.0 812.49,514.0 812.73,513.5 812.96,514.7 813.19,515.5 813.43,515.1 813.66,513.8 813.89,513.6 814.13,515.0 814.36,516.2 814.59,515.3 814.83,515.0 815.06,515.5 815.29,516.2 815.53,516.6 815.76,516.2 815.99,516.2 816.23,516.7 816.46,516.6 816.69,516.3 816.93,515.9 817.16,516.9 817.39,517.0 817.63,517.2 817.86,517.3 818.09,517.4 818.33,518.4 818.56,518.9 818.79,518.5 819.03,517.8 819.26,518.1 819.49,518.4 819.73,518.0 819.96,518.0 820.19,517.0 820.43,517.5 820.66,518.5 820.89,518.3 821.13,517.6 821.36,517.8 821.59,518.8 821.83,518.2 822.06,517.1 822.30,517.3 822.53,516.9 822.76,516.5 823.00,516.4 823.23,517.5 823.46,518.4 823.70,517.5 823.93,516.3 824.16,516.7 824.40,516.1 824.63,516.8 824.86,517.5 825.10,517.6 825.33,516.9 825.56,516.6 825.80,516.3 826.03,516.1 826.26,516.2 826.50,514.3 826.73,513.4 826.96,514.8 827.20,515.1 827.43,513.9 827.66,515.3 827.90,515.9 828.13,515.4 828.36,515.4 828.60,516.1 828.83,516.3 829.06,516.9 829.30,516.6 829.53,517.3 829.76,517.0 830.00,518.1 830.23,518.1 830.46,518.0 830.70,517.3 830.93,517.2 831.16,517.5 831.40,518.1 831.63,517.3 831.86,517.3 832.10,518.0 832.33,518.6 832.56,518.6 832.80,518.6 833.03,518.1 833.26,518.3 833.50,518.4 833.73,519.4 833.97,519.2 834.20,519.1 834.43,518.2 834.67,518.7 834.90,518.9 835.13,518.2 835.37,518.3 835.60,518.5 835.83,518.9 836.07,518.8 836.30,518.1 836.53,518.8 836.77,518.9 837.00,518.7 837.23,518.1 837.47,518.6 837.70,519.5 837.93,519.4 838.17,518.8 838.40,519.6 838.63,518.7 838.87,518.5 839.10,519.5 839.33,519.6 839.57,520.3 839.80,519.2 840.03,519.1 840.27,519.5 840.50,519.2 840.73,518.9 840.97,519.0 841.20,519.0 841.43,519.0 841.67,518.9 841.90,518.5 842.13,519.6 842.37,519.2 842.60,519.3 842.83,519.1 843.07,519.6 843.30,520.5 843.53,520.7 843.77,520.2 844.00,519.9 844.23,519.6 844.47,519.6 844.70,519.8 844.93,519.4 845.17,518.8 845.40,518.8 845.64,518.5 845.87,519.7 846.10,519.0 846.34,518.6 846.57,519.2 846.80,519.2 847.04,519.9 847.27,521.3 847.50,521.3 847.74,520.1 847.97,519.9 848.20,520.7 848.44,522.0 848.67,521.1 848.90,520.8 849.14,520.6 849.37,521.4 849.60,521.0 849.84,519.3 850.07,519.0 850.30,518.2 850.54,517.9 850.77,517.5 851.00,517.1 851.24,517.6 851.47,518.9 851.70,519.8 851.94,519.8 852.17,520.1 852.40,519.6 852.64,521.1 852.87,521.6 853.10,520.5 853.34,520.5 853.57,520.1 853.80,519.1 854.04,520.4 854.27,520.2 854.50,519.1 854.74,519.6 854.97,520.5 855.20,520.0 855.44,518.9 855.67,519.2 855.90,519.5 856.14,520.0 856.37,519.9 856.60,520.3 856.84,520.2 857.07,519.7 857.31,520.7 857.54,520.8 857.77,520.5 858.01,521.4 858.24,522.0 858.47,520.3 858.71,520.8 858.94,521.3 859.17,520.8 859.41,520.6 859.64,521.6 859.87,520.5 860.11,520.3 860.34,520.5 860.57,521.2 860.81,520.0 861.04,520.5 861.27,521.2 861.51,521.9 861.74,522.2 861.97,522.5 862.21,521.9 862.44,521.5"/>
<polyline fill="none" stroke="#008000" stroke-width="1.1" stroke-linejoin="round" points="138.90,387.8 139.13,387.8 139.37,388.0 139.60,387.2 139.83,388.0 140.07,388.2 140.30,389.1 140.53,388.6 140.77,388.6 141.00,389.1 141.23,390.3 141.47,389.8 141.70,389.2 141.93,389.0 142.17,389.4 142.40,390.6 142.63,389.2 142.87,389.8 143.10,391.3 143.33,391.9 143.57,391.5 143.80,392.1 144.03,392.5 144.27,392.7 144.50,392.5 144.73,393.4 144.97,393.0 145.20,393.2 145.44,391.8 145.67,392.0 145.90,390.2 146.14,389.1 146.37,389.0 146.60,387.3 146.84,386.5 147.07,385.3 147.20,386.4 147.30,385.7 147.54,385.7 147.77,387.9 148.00,390.1 148.24,391.2 148.47,393.7 148.70,396.0 148.94,396.3 149.17,396.1 149.40,396.2 149.64,396.7 149.87,395.5 150.10,394.8 150.34,396.4 150.57,397.5 150.80,399.6 151.04,399.3 151.27,398.7 151.50,399.0 151.74,400.2 151.97,399.9 152.20,400.2 152.44,400.8 152.67,401.2 152.90,401.4 153.14,401.7 153.37,402.7 153.60,402.6 153.84,401.2 154.07,403.0 154.30,402.3 154.54,402.5 154.77,401.9 155.00,402.7 155.24,403.2 155.47,403.6 155.70,404.4 155.94,404.4 156.17,403.7 156.40,404.4 156.64,405.3 156.87,405.4 157.11,404.9 157.34,405.0 157.57,405.1 157.81,404.6 158.04,404.9 158.27,406.7 158.51,406.2 158.74,406.4 158.97,406.5 159.21,408.0 159.44,408.5 159.67,407.6 159.91,407.7 160.14,407.6 160.37,409.1 160.61,408.9 160.84,408.1 161.07,409.2 161.31,409.1 161.54,409.1 161.77,408.9 162.01,408.2 162.24,408.2 162.47,409.0 162.71,408.9 162.94,409.2 163.17,411.1 163.41,410.4 163.64,410.1 163.87,410.4 164.11,411.6 164.34,412.1 164.57,412.0 164.81,412.1 165.04,411.0 165.27,411.5 165.51,411.8 165.74,412.3 165.97,412.3 166.21,411.5 166.44,413.7 166.67,412.1 166.91,412.5 167.14,413.2 167.37,413.4 167.61,412.6 167.84,410.8 168.07,411.9 168.31,413.2 168.54,412.4 168.78,411.8 169.01,411.5 169.24,413.6 169.48,413.5 169.71,412.5 169.94,412.8 170.18,412.9 170.41,412.5 170.64,413.1 170.88,413.7 171.11,414.2 171.34,414.6 171.58,413.8 171.81,413.2 172.04,413.1 172.28,411.5 172.51,409.1 172.74,406.1 172.98,397.6 173.21,384.0 173.44,362.3 173.68,329.7 173.91,288.3 174.14,237.7 174.38,183.4 174.61,133.8 174.84,96.7 175.00,83.1 175.08,81.7 175.31,91.5 175.54,124.5 175.78,171.8 176.01,225.3 176.24,278.2 176.48,324.1 176.71,358.9 176.94,383.0 177.18,398.8 177.41,408.1 177.64,413.7 177.88,417.2 178.11,418.6 178.34,419.4 178.58,418.9 178.81,418.5 179.04,418.7 179.28,419.8 179.51,421.2 179.74,421.1 179.98,419.9 180.21,420.0 180.45,421.8 180.68,422.0 180.91,421.3 181.15,422.5 181.38,422.5 181.61,422.8 181.85,422.5 182.08,422.8 182.31,422.7 182.55,422.4 182.78,423.1 183.01,423.6 183.25,424.5 183.48,423.7 183.71,423.6 183.95,425.2 184.18,425.9 184.41,426.1 184.65,425.3 184.88,423.4 185.11,423.2 185.35,423.3 185.58,423.4 185.81,423.0 186.05,424.7 186.28,425.6 186.51,425.5 186.75,426.5 186.98,427.4 187.21,427.2 187.45,427.8 187.68,428.0 187.91,427.7 188.15,427.4 188.38,427.0 188.61,427.2 188.85,425.6 189.08,424.8 189.31,425.4 189.55,425.6 189.78,427.3 190.01,428.5 190.25,428.5 190.48,428.8 190.71,429.6 190.95,429.4 191.18,428.0 191.41,428.4 191.65,430.1 191.88,429.6 192.12,428.0 192.35,428.3 192.58,429.2 192.82,428.9 193.05,429.6 193.28,429.7 193.52,429.8 193.75,429.3 193.98,430.6 194.22,431.4 194.45,429.9 194.68,430.3 194.92,429.9 195.15,429.2 195.38,428.7 195.62,428.7 195.85,429.9 196.08,431.9 196.32,432.9 196.55,433.4 196.78,433.5 197.02,433.4 197.25,432.6 197.48,432.2 197.72,433.2 197.95,433.7 198.18,433.3 198.42,432.4 198.65,432.7 198.88,432.5 199.12,433.2 199.35,432.9 199.58,433.6 199.82,434.3 200.05,434.8 200.28,435.4 200.52,434.0 200.75,433.5 200.98,435.5 201.22,436.0 201.45,435.5 201.68,434.1 201.92,433.5 202.15,433.1 202.38,432.7 202.62,433.9 202.85,435.0 203.08,435.0 203.32,435.8 203.55,433.8 203.79,433.9 204.02,434.6 204.25,433.7 204.49,433.4 204.72,433.6 204.95,434.8 205.19,436.5 205.42,436.3 205.65,436.2 205.89,435.7 206.12,436.2 206.35,435.6 206.59,434.5 206.82,434.2 207.05,434.3 207.29,434.2 207.52,432.9 207.75,431.7 207.99,428.6 208.22,419.1 208.45,404.4 208.69,382.7 208.92,350.7 209.15,312.2 209.39,274.7 209.62,247.3 209.70,242.3 209.85,238.8 210.09,252.0 210.32,280.7 210.55,318.6 210.79,356.2 211.02,386.4 211.25,408.4 211.49,421.4 211.72,428.6 211.95,432.7 212.19,434.2 212.42,434.4 212.65,435.2 212.89,435.9 213.12,436.5 213.35,437.2 213.59,437.9 213.82,437.9 214.05,438.5 214.29,438.1 214.52,437.3 214.75,438.3 214.99,438.3 215.22,437.7 215.46,438.4 215.69,439.4 215.92,439.4 216.16,440.0 216.39,440.0 216.62,440.1 216.86,439.7 217.09,440.0 217.32,439.9 217.56,440.2 217.79,439.1 218.02,440.1 218.26,440.8 218.49,440.3 218.72,440.0 218.96,440.4 219.19,440.0 219.42,440.1 219.66,440.7 219.89,441.2 220.12,441.8 220.36,441.1 220.59,441.7 220.82,440.5 221.06,440.8 221.29,441.7 221.52,442.4 221.76,441.3 221.99,440.5 222.22,442.0 222.46,441.9 222.69,441.2 222.92,440.9 223.16,441.0 223.39,441.5 223.62,441.5 223.86,440.7 224.09,442.2 224.32,440.7 224.56,439.4 224.79,438.5 225.02,436.3 225.26,434.0 225.49,428.8 225.72,422.7 225.96,418.4 226.10,417.0 226.19,417.0 226.42,418.8 226.66,422.2 226.89,427.9 227.13,431.6 227.36,434.8 227.59,437.2 227.83,436.8 228.06,437.9 228.29,439.2 228.53,439.2 228.76,439.3 228.99,439.3 229.23,438.6 229.46,438.0 229.69,436.6 229.93,435.9 230.16,437.2 230.39,436.5 230.63,436.8 230.86,437.9 231.09,435.9 231.33,429.9 231.56,418.9 231.79,398.8 232.03,366.1 232.26,323.7 232.49,277.2 232.73,240.0 232.80,232.7 232.96,224.2 233.19,230.6 233.43,248.8 233.66,263.5 233.89,265.6 234.13,247.2 234.36,217.7 234.59,191.9 234.70,184.0 234.83,181.4 235.06,195.8 235.29,229.9 235.53,277.1 235.76,326.9 235.99,369.3 236.23,399.5 236.46,418.2 236.69,430.2 236.93,437.2 237.16,441.6 237.39,442.8 237.63,443.5 237.86,444.0 238.09,443.6 238.33,444.1 238.56,444.3 238.80,443.7 239.03,444.3 239.26,444.7 239.50,444.1 239.73,445.1 239.96,445.4 240.20,445.3 240.43,444.4 240.66,445.1 240.90,446.3 241.13,446.0 241.36,445.2 241.60,445.9 241.83,446.7 242.06,446.0 242.30,446.5 242.53,447.6 242.76,446.3 243.00,445.6 243.23,445.1 243.46,445.5 243.70,446.7 243.93,445.7 244.16,444.5 244.40,444.2 244.63,444.5 244.86,444.3 245.10,443.1 245.33,443.2 245.56,442.6 245.80,442.9 246.03,443.2 246.26,443.1 246.50,442.2 246.73,441.6 246.96,440.7 247.20,438.2 247.43,436.6 247.66,434.0 247.90,430.1 248.13,424.5 248.36,418.4 248.60,411.9 248.83,404.9 249.06,399.2 249.30,395.3 249.50,393.1 249.53,392.2 249.76,392.4 250.00,394.4 250.23,400.2 250.47,405.6 250.70,412.1 250.93,417.8 251.17,424.2 251.40,430.0 251.63,434.3 251.87,436.5 252.10,440.0 252.33,441.5 252.57,442.7 252.80,444.4 253.03,444.9 253.27,445.2 253.50,445.3 253.73,445.9 253.97,445.7 254.20,445.1 254.43,444.3 254.67,444.3 254.90,445.1 255.13,445.9 255.37,446.0 255.60,447.1 255.83,446.9 256.07,446.7 256.30,447.8 256.53,447.5 256.77,448.4 257.00,448.9 257.23,448.0 257.47,448.1 257.70,449.4 257.93,448.3 258.17,448.0 258.40,448.2 258.63,447.7 258.87,447.5 259.10,447.2 259.33,445.9 259.57,447.4 259.80,446.2 260.03,445.9 260.27,446.6 260.50,446.2 260.73,445.3 260.97,445.6 261.20,444.8 261.43,444.5 261.67,443.9 261.90,444.2 262.14,444.7 262.37,444.5 262.60,444.4 262.84,444.3 263.07,443.3 263.30,442.4 263.54,442.5 263.77,443.0 264.00,441.6 264.24,440.4 264.47,436.6 264.70,416.5 264.94,337.6 265.17,181.9 265.40,63.9 265.40,62.9 265.64,74.4 265.87,97.5 266.10,84.5 266.30,105.9 266.34,115.1 266.57,199.1 266.80,270.6 267.04,334.1 267.27,393.3 267.50,426.8 267.74,436.4 267.97,438.1 268.20,436.4 268.44,435.8 268.67,436.1 268.90,434.2 269.14,433.5 269.37,432.2 269.60,430.1 269.84,426.6 270.07,422.6 270.30,415.8 270.54,404.6 270.77,390.0 271.00,372.7 271.24,355.3 271.47,338.2 271.70,325.4 271.80,320.8 271.94,319.0 272.17,320.9 272.40,331.1 272.64,345.5 272.87,361.6 273.10,379.2 273.34,395.4 273.57,407.7 273.81,416.7 274.04,422.1 274.27,425.8 274.51,427.8 274.74,429.4 274.97,429.7 275.21,427.8 275.44,424.8 275.67,421.0 275.91,418.3 276.14,414.6 276.37,411.2 276.50,410.5 276.61,411.0 276.84,411.2 277.07,413.0 277.31,412.1 277.54,409.0 277.77,403.4 278.01,392.5 278.24,372.5 278.47,347.0 278.71,315.5 278.94,281.9 279.17,249.9 279.41,226.4 279.50,221.2 279.64,217.2 279.87,223.1 280.11,242.3 280.34,272.6 280.57,306.2 280.81,340.4 281.04,370.4 281.27,395.4 281.51,413.8 281.74,426.5 281.97,434.9 282.21,438.9 282.44,441.4 282.67,443.9 282.91,444.0 283.14,444.0 283.37,444.8 283.61,443.5 283.84,440.3 284.07,439.5 284.31,438.1 284.54,435.3 284.77,431.8 285.01,430.4 285.10,428.8 285.24,428.7 285.48,430.0 285.71,432.2 285.94,435.5 286.18,438.3 286.41,440.2 286.64,442.4 286.88,442.7 287.11,444.1 287.34,446.5 287.58,447.3 287.81,448.7 288.04,448.9 288.28,449.5 288.51,450.1 288.74,450.6 288.98,450.6 289.21,451.0 289.44,451.7 289.68,452.1 289.91,451.6 290.14,451.7 290.38,451.6 290.61,450.2 290.84,450.3 291.08,452.6 291.31,453.1 291.54,452.6 291.78,452.5 292.01,451.8 292.24,451.6 292.48,452.4 292.71,452.0 292.94,453.1 293.18,452.6 293.41,453.4 293.64,454.6 293.88,454.6 294.11,453.4 294.34,453.5 294.58,452.4 294.81,452.5 295.04,453.4 295.28,454.0 295.51,453.2 295.74,453.7 295.98,453.4 296.21,452.5 296.44,453.1 296.68,453.8 296.91,452.7 297.15,452.5 297.38,452.6 297.61,452.3 297.85,454.0 298.08,454.9 298.31,455.2 298.55,454.7 298.78,453.3 299.01,452.7 299.25,452.3 299.48,452.0 299.71,451.9 299.95,452.6 300.18,452.4 300.41,451.0 300.65,451.3 300.88,450.6 301.11,450.9 301.35,450.5 301.58,450.2 301.81,450.9 302.05,450.8 302.28,450.0 302.51,449.2 302.75,448.5 302.98,448.6 303.21,448.3 303.45,448.6 303.68,448.2 303.91,449.1 304.15,449.9 304.38,450.4 304.61,450.3 304.85,449.4 305.08,448.2 305.31,447.2 305.55,447.9 305.78,448.4 306.01,446.7 306.25,441.9 306.48,438.3 306.71,432.2 306.95,422.3 307.18,409.9 307.41,394.3 307.65,377.9 307.88,364.5 308.00,358.8 308.11,355.8 308.35,354.2 308.58,356.4 308.82,356.8 309.05,355.3 309.28,347.6 309.52,332.5 309.75,314.8 309.98,298.8 310.10,294.5 310.22,293.2 310.45,298.4 310.68,312.9 310.92,335.6 311.15,360.7 311.38,385.7 311.62,407.4 311.85,422.8 312.08,433.7 312.32,440.2 312.55,444.7 312.78,446.4 313.02,445.6 313.25,446.9 313.48,446.5 313.72,446.4 313.95,446.6 314.18,447.3 314.42,446.9 314.65,447.5 314.88,448.3 315.12,449.6 315.35,450.5 315.58,450.7 315.82,450.5 316.05,449.8 316.28,449.4 316.52,450.7 316.75,451.1 316.98,451.5 317.22,452.1 317.45,451.3 317.68,450.8 317.92,450.0 318.15,451.5 318.38,451.5 318.62,451.1 318.85,451.4 319.08,450.7 319.32,451.1 319.55,452.5 319.78,452.4 320.02,452.7 320.25,453.0 320.49,453.3 320.72,453.6 320.95,454.7 321.19,453.8 321.42,453.9 321.65,453.4 321.89,452.7 322.12,451.1 322.35,451.0 322.59,452.4 322.82,451.5 323.05,449.0 323.29,447.7 323.52,446.0 323.75,442.0 323.99,436.8 324.22,425.6 324.45,411.4 324.69,394.2 324.92,379.1 325.15,364.5 325.30,358.9 325.39,355.7 325.62,356.4 325.85,364.0 326.09,377.2 326.32,394.2 326.55,410.1 326.79,422.7 327.02,432.1 327.25,439.9 327.49,444.9 327.72,447.1 327.95,448.4 328.19,448.7 328.42,448.0 328.65,448.5 328.89,448.4 329.12,445.4 329.35,442.5 329.59,436.4 329.82,423.7 330.05,405.1 330.29,376.7 330.52,341.0 330.75,299.7 330.99,260.3 331.22,230.3 331.30,223.7 331.45,215.9 331.69,218.4 331.92,237.3 332.16,260.2 332.39,280.2 332.62,289.5 332.86,281.3 333.09,254.0 333.32,215.5 333.56,175.9 333.79,147.8 333.80,146.5 334.02,140.0 334.26,155.0 334.49,189.2 334.72,236.3 334.96,285.9 335.19,331.8 335.42,370.5 335.66,398.3 335.89,416.3 336.12,427.0 336.36,432.4 336.59,431.1 336.82,425.8 337.06,415.1 337.29,398.1 337.52,371.6 337.76,337.9 337.99,301.0 338.22,267.9 338.46,243.3 338.50,239.0 338.69,233.0 338.92,241.3 339.16,262.4 339.39,291.3 339.62,325.6 339.86,358.4 340.09,384.4 340.32,404.0 340.56,416.9 340.79,423.7 341.02,426.7 341.26,424.9 341.49,417.7 341.72,407.5 341.96,392.5 342.19,373.0 342.42,353.3 342.66,336.4 342.80,330.7 342.89,327.7 343.12,329.7 343.36,337.7 343.59,352.4 343.83,371.0 344.06,390.1 344.29,406.7 344.53,419.7 344.76,429.4 344.99,436.2 345.23,439.9 345.46,441.2 345.69,442.0 345.93,439.4 346.16,435.3 346.39,428.0 346.63,415.8 346.86,394.6 347.09,367.1 347.33,335.0 347.56,299.6 347.79,267.2 348.00,246.9 348.03,246.1 348.26,242.8 348.49,254.0 348.73,277.4 348.96,309.8 349.19,343.4 349.43,375.4 349.66,403.0 349.89,421.1 350.13,432.3 350.36,440.3 350.59,446.3 350.83,448.8 351.06,450.2 351.29,450.0 351.53,450.1 351.76,449.8 351.99,448.0 352.23,445.9 352.46,443.6 352.69,439.6 352.93,432.8 353.16,422.5 353.39,408.7 353.63,392.7 353.86,376.1 354.09,364.8 354.20,361.6 354.33,358.2 354.56,359.5 354.79,367.6 355.03,379.3 355.26,393.5 355.50,407.9 355.73,420.3 355.96,430.5 356.20,439.0 356.43,444.2 356.66,446.1 356.90,448.4 357.13,449.9 357.36,450.2 357.60,450.6 357.83,451.0 358.06,450.7 358.30,452.1 358.53,452.9 358.76,454.6 359.00,454.2 359.23,453.4 359.46,453.7 359.70,454.8 359.93,454.5 360.16,453.0 360.40,451.9 360.63,451.0 360.86,451.7 361.10,452.3 361.33,452.8 361.56,454.2 361.80,452.8 362.03,453.6 362.26,454.2 362.50,454.3 362.73,454.4 362.96,452.4 363.20,452.2 363.43,452.8 363.66,452.7 363.90,452.2 364.13,452.0 364.36,452.5 364.60,451.1 364.83,450.9 365.06,452.0 365.30,452.0 365.53,450.5 365.76,446.6 366.00,430.5 366.23,368.0 366.46,245.6 366.70,165.8 366.70,166.8 366.93,218.2 367.17,259.2 367.40,158.9 367.63,17.7 367.80,5.2 367.87,26.8 368.10,163.0 368.33,193.7 368.57,89.2 368.80,64.5 368.80,66.2 369.03,195.8 369.27,309.0 369.50,324.6 369.73,340.1 369.97,394.3 370.20,436.6 370.43,450.9 370.67,453.4 370.90,456.0 371.13,456.4 371.37,456.3 371.60,456.0 371.83,456.7 372.07,456.3 372.30,456.6 372.53,456.7 372.77,456.7 373.00,455.1 373.23,454.3 373.47,454.2 373.70,453.1 373.93,451.9 374.17,450.6 374.40,448.8 374.63,444.2 374.87,438.8 375.10,430.7 375.33,418.1 375.57,403.5 375.80,390.0 376.03,380.6 376.10,378.0 376.27,375.3 376.50,377.6 376.73,384.2 376.97,394.4 377.20,405.2 377.43,418.1 377.67,427.4 377.90,435.7 378.13,441.9 378.37,445.6 378.60,447.9 378.84,448.0 379.07,448.1 379.30,449.6 379.54,449.8 379.77,451.2 380.00,452.6 380.24,452.4 380.47,452.0 380.70,451.9 380.94,452.7 381.17,453.1 381.40,453.0 381.64,454.3 381.87,454.2 382.10,455.0 382.34,455.1 382.57,456.0 382.80,455.9 383.04,455.2 383.27,455.0 383.50,455.4 383.74,456.2 383.97,456.3 384.20,455.9 384.44,456.3 384.67,456.9 384.90,455.4 385.14,456.2 385.37,456.0 385.60,457.0 385.84,456.3 386.07,456.1 386.30,455.8 386.54,456.4 386.77,457.2 387.00,457.2 387.24,455.4 387.47,456.0 387.70,458.4 387.94,457.1 388.17,456.3 388.40,456.2 388.64,455.0 388.87,457.0 389.10,456.4 389.34,455.4 389.57,456.4 389.80,455.6 390.04,455.4 390.27,456.5 390.51,456.7 390.74,456.3 390.97,456.3 391.21,455.6 391.44,455.7 391.67,457.3 391.91,457.8 392.14,457.2 392.37,456.8 392.61,456.2 392.84,456.0 393.07,455.7 393.31,456.6 393.54,455.3 393.77,455.0 394.01,454.2 394.24,453.1 394.47,453.7 394.71,450.9 394.94,447.6 395.17,443.3 395.41,436.1 395.64,427.1 395.87,415.6 396.11,404.6 396.34,394.3 396.50,389.3 396.57,389.3 396.81,388.6 397.04,391.8 397.27,399.3 397.51,408.5 397.74,418.7 397.97,426.6 398.21,435.1 398.44,440.9 398.67,445.4 398.91,447.8 399.14,449.5 399.37,450.6 399.61,449.9 399.84,449.6 400.07,450.8 400.31,450.9 400.54,451.2 400.77,451.3 401.01,450.8 401.24,451.1 401.47,450.1 401.71,449.8 401.94,449.9 402.18,449.4 402.41,448.3 402.64,447.2 402.88,444.8 403.11,441.9 403.34,437.9 403.58,431.5 403.81,422.2 404.04,412.6 404.28,402.9 404.51,394.2 404.60,390.6 404.74,388.2 404.98,386.1 405.21,385.3 405.44,383.5 405.68,379.1 405.91,371.7 406.14,360.7 406.38,348.8 406.61,340.2 406.70,338.6 406.84,338.1 407.08,341.6 407.31,350.9 407.54,363.8 407.78,377.4 408.01,393.2 408.24,408.1 408.48,419.8 408.71,428.7 408.94,436.3 409.18,440.0 409.41,441.7 409.64,442.7 409.88,438.7 410.11,433.6 410.34,425.0 410.58,413.9 410.81,400.2 411.04,385.2 411.28,373.8 411.40,369.8 411.51,367.5 411.74,368.5 411.98,371.9 412.21,376.5 412.44,380.5 412.68,382.0 412.91,378.1 413.14,367.8 413.38,353.3 413.61,335.3 413.85,323.5 413.90,322.9 414.08,320.4 414.31,325.9 414.55,337.3 414.78,353.7 415.01,372.4 415.25,392.1 415.48,409.7 415.71,424.4 415.95,435.2 416.18,442.9 416.41,447.0 416.65,448.6 416.88,449.1 417.11,449.8 417.35,450.7 417.58,449.8 417.81,451.4 418.05,452.1 418.28,453.4 418.51,453.7 418.75,453.4 418.98,453.6 419.21,452.7 419.45,454.0 419.68,454.2 419.91,453.2 420.15,454.5 420.38,454.3 420.61,454.0 420.85,453.1 421.08,453.9 421.31,453.8 421.55,452.9 421.78,452.1 422.01,452.7 422.25,452.7 422.48,451.8 422.71,451.3 422.95,450.1 423.18,450.4 423.41,450.9 423.65,451.5 423.88,452.9 424.11,451.6 424.35,450.4 424.58,449.9 424.81,447.3 425.05,445.3 425.28,441.5 425.52,435.4 425.75,429.0 425.98,422.7 426.22,418.6 426.30,417.6 426.45,418.1 426.68,418.7 426.92,420.6 427.15,424.4 427.38,431.3 427.62,436.7 427.85,441.2 428.08,445.4 428.32,448.7 428.55,451.2 428.78,454.1 429.02,454.2 429.25,453.6 429.48,453.8 429.72,453.4 429.95,455.4 430.18,456.1 430.42,456.8 430.65,456.4 430.88,454.4 431.12,454.1 431.35,453.5 431.58,451.4 431.82,447.8 432.05,443.9 432.28,437.1 432.52,427.5 432.75,413.9 432.98,399.0 433.22,384.8 433.45,374.8 433.50,373.3 433.68,371.3 433.92,374.4 434.15,381.2 434.38,390.9 434.62,402.0 434.85,413.5 435.08,424.0 435.32,434.8 435.55,442.7 435.78,446.6 436.02,450.0 436.25,452.3 436.48,453.6 436.72,454.6 436.95,454.7 437.19,455.3 437.42,454.5 437.65,454.6 437.89,454.0 438.12,453.2 438.35,452.9 438.59,450.5 438.82,447.1 439.05,442.1 439.29,436.7 439.52,430.2 439.75,423.4 439.99,418.6 440.00,419.8 440.22,419.0 440.45,419.9 440.69,422.6 440.92,426.2 441.15,430.5 441.39,434.7 441.62,439.8 441.85,443.8 442.09,446.0 442.32,447.9 442.55,450.5 442.79,450.4 443.02,449.3 443.25,448.2 443.49,445.7 443.72,444.1 443.95,441.6 444.19,436.8 444.42,427.8 444.65,419.6 444.89,411.3 445.12,400.6 445.35,391.4 445.59,385.7 445.60,384.7 445.82,382.9 446.05,385.4 446.29,390.1 446.52,396.1 446.75,405.3 446.99,413.0 447.22,422.9 447.45,433.4 447.69,438.9 447.92,444.5 448.15,448.1 448.39,451.3 448.62,453.3 448.86,455.1 449.09,457.0 449.32,458.3 449.56,458.2 449.79,458.2 450.02,457.3 450.26,458.1 450.49,457.8 450.72,457.8 450.96,456.7 451.19,456.6 451.42,457.4 451.66,456.9 451.89,456.1 452.12,455.5 452.36,455.9 452.59,456.5 452.82,456.5 453.06,455.5 453.29,455.3 453.52,455.0 453.76,452.9 453.99,446.0 454.22,410.4 454.46,340.9 454.60,310.9 454.69,307.2 454.92,300.2 455.16,261.3 455.20,258.8 455.39,285.3 455.62,341.1 455.86,374.6 456.09,368.3 456.32,371.8 456.56,414.6 456.79,446.2 457.02,453.9 457.26,455.1 457.49,455.1 457.72,453.6 457.96,451.3 458.19,446.6 458.42,441.0 458.66,430.7 458.89,421.2 459.12,411.2 459.36,399.6 459.59,389.8 459.80,383.9 459.82,384.8 460.06,382.1 460.29,385.4 460.53,390.7 460.76,398.1 460.99,406.6 461.23,414.2 461.46,422.3 461.69,429.6 461.93,434.4 462.16,439.0 462.39,440.1 462.63,439.4 462.86,436.4 463.09,433.4 463.33,429.4 463.56,426.4 463.70,425.0 463.79,425.6 464.03,424.8 464.26,425.6 464.49,430.1 464.73,433.5 464.96,437.8 465.19,444.0 465.43,446.9 465.66,449.5 465.89,453.0 466.13,456.2 466.36,458.0 466.59,460.2 466.83,460.9 467.06,460.5 467.29,461.3 467.53,462.0 467.76,461.6 467.99,461.8 468.23,462.8 468.46,462.5 468.69,461.5 468.93,461.8 469.16,462.2 469.39,462.4 469.63,462.4 469.86,463.3 470.09,462.0 470.33,461.7 470.56,462.0 470.79,460.8 471.03,461.6 471.26,462.7 471.49,461.8 471.73,462.2 471.96,463.3 472.20,462.9 472.43,462.2 472.66,461.5 472.90,460.1 473.13,459.1 473.36,457.5 473.60,456.8 473.83,453.3 474.06,449.7 474.30,447.1 474.53,444.7 474.70,442.7 474.76,443.0 475.00,443.7 475.23,442.7 475.46,444.0 475.70,446.4 475.93,448.0 476.16,448.7 476.40,451.7 476.63,453.4 476.86,456.1 477.10,456.8 477.33,457.0 477.56,457.6 477.80,457.1 478.03,455.8 478.26,455.3 478.50,451.5 478.73,447.6 478.96,440.5 479.20,431.6 479.43,422.4 479.66,412.8 479.90,403.3 480.13,395.3 480.30,390.3 480.36,388.6 480.60,387.2 480.83,390.3 481.06,395.1 481.30,400.4 481.53,409.9 481.76,418.8 482.00,427.1 482.23,432.4 482.46,438.0 482.70,441.9 482.93,443.9 483.16,446.7 483.40,449.5 483.63,452.4 483.87,454.0 484.10,454.8 484.33,453.6 484.57,452.4 484.80,452.3 485.03,450.6 485.27,448.1 485.50,444.7 485.73,439.7 485.97,435.9 486.20,431.5 486.43,429.6 486.50,429.6 486.67,428.9 486.90,429.5 487.13,430.5 487.37,433.4 487.60,437.0 487.83,439.9 488.07,444.1 488.30,449.5 488.53,451.6 488.77,453.1 489.00,455.1 489.23,457.4 489.47,456.4 489.70,458.1 489.93,459.3 490.17,459.1 490.40,459.3 490.63,458.3 490.87,458.1 491.10,457.2 491.33,455.4 491.57,452.8 491.80,449.4 492.03,445.5 492.27,440.0 492.50,434.9 492.73,431.3 492.90,429.5 492.97,428.2 493.20,427.6 493.43,429.6 493.67,433.0 493.90,435.8 494.13,440.0 494.37,445.9 494.60,449.1 494.83,451.5 495.07,454.4 495.30,457.8 495.54,458.8 495.77,461.0 496.00,462.0 496.24,462.8 496.47,462.3 496.70,462.3 496.94,460.5 497.17,460.7 497.40,461.0 497.64,459.8 497.87,457.6 498.10,458.0 498.34,457.1 498.57,455.4 498.80,453.5 499.04,451.8 499.27,449.7 499.50,447.8 499.74,444.7 499.97,441.7 500.20,438.6 500.20,437.4 500.44,436.7 500.67,437.2 500.90,435.7 501.14,435.9 501.37,434.5 501.60,432.2 501.84,429.2 502.07,424.6 502.30,418.1 502.54,410.8 502.77,403.8 502.90,399.1 503.00,397.7 503.24,392.5 503.47,386.8 503.70,380.4 503.94,373.0 504.17,366.4 504.40,358.9 504.64,354.1 504.70,354.2 504.87,353.4 505.10,354.9 505.34,357.8 505.57,359.2 505.80,361.7 506.04,365.1 506.27,366.8 506.50,372.1 506.50,373.1 506.74,379.3 506.97,385.6 507.21,390.4 507.44,396.4 507.67,401.5 507.91,406.5 508.14,411.7 508.37,416.7 508.61,422.3 508.84,425.8 509.07,426.6 509.31,427.4 509.54,425.4 509.77,422.3 510.01,419.2 510.20,419.5 510.24,419.4 510.47,417.5 510.71,417.4 510.94,418.9 511.17,423.1 511.41,427.2 511.64,431.7 511.87,435.4 512.11,438.0 512.34,441.3 512.57,444.9 512.81,446.4 513.04,449.2 513.27,451.0 513.51,451.3 513.74,453.2 513.97,454.2 514.21,455.1 514.44,455.4 514.67,456.4 514.91,457.7 515.14,459.2 515.37,459.2 515.61,459.2 515.84,458.8 516.07,459.9 516.31,459.7 516.54,459.8 516.77,458.9 517.01,457.9 517.24,456.7 517.47,455.7 517.71,454.8 517.94,453.4 518.17,449.3 518.41,445.7 518.64,441.9 518.88,436.9 519.11,434.1 519.30,432.9 519.34,433.3 519.58,432.4 519.81,431.6 520.04,433.8 520.28,436.1 520.51,438.4 520.74,440.6 520.98,443.6 521.21,445.0 521.44,445.4 521.68,446.7 521.91,447.7 522.14,451.1 522.38,451.9 522.61,452.5 522.84,452.6 523.08,454.0 523.31,455.1 523.54,455.0 523.78,455.1 524.01,455.9 524.24,458.0 524.48,457.5 524.71,457.4 524.94,458.6 525.18,459.5 525.41,460.2 525.64,460.4 525.88,460.5 526.11,461.4 526.34,462.1 526.58,461.9 526.81,464.2 527.04,464.4 527.28,462.5 527.51,463.2 527.74,464.3 527.98,464.3 528.21,463.1 528.44,459.6 528.68,458.4 528.91,458.9 529.14,460.2 529.38,460.7 529.61,461.9 529.84,462.4 530.08,462.2 530.31,461.2 530.55,461.9 530.78,462.1 531.01,461.8 531.25,462.2 531.48,460.8 531.71,460.3 531.95,458.4 532.18,458.8 532.41,458.5 532.65,457.3 532.88,458.0 533.11,458.0 533.35,457.0 533.58,457.0 533.81,455.4 534.05,452.4 534.28,450.4 534.51,448.3 534.75,445.7 534.80,445.3 534.98,446.6 535.21,446.7 535.45,448.8 535.68,451.0 535.91,451.8 536.15,451.8 536.38,454.1 536.61,456.2 536.85,457.9 537.08,459.7 537.31,460.6 537.55,460.8 537.78,461.3 538.01,462.4 538.25,463.1 538.48,462.6 538.71,465.2 538.95,464.9 539.18,465.4 539.41,464.6 539.65,465.4 539.88,466.0 540.11,467.8 540.35,468.1 540.58,467.4 540.81,467.3 541.05,467.7 541.28,467.3 541.51,467.5 541.75,467.7 541.98,468.5 542.22,468.0 542.45,467.6 542.68,468.8 542.92,469.5 543.15,469.8 543.38,468.7 543.62,469.4 543.85,470.6 544.08,469.4 544.32,469.2 544.55,469.7 544.78,469.2 545.02,469.3 545.25,469.1 545.48,469.0 545.72,469.7 545.95,468.5 546.18,467.2 546.42,466.6 546.65,465.9 546.88,465.6 547.12,466.0 547.35,466.3 547.58,464.8 547.82,464.6 548.05,463.5 548.28,463.7 548.52,462.4 548.75,459.9 548.98,458.5 549.22,458.8 549.45,460.3 549.68,463.1 549.92,464.2 550.15,461.9 550.38,461.0 550.62,457.3 550.85,453.6 551.08,452.7 551.20,452.6 551.32,452.2 551.55,452.9 551.78,455.3 552.02,456.0 552.25,457.6 552.48,458.7 552.72,459.0 552.95,459.8 553.18,461.5 553.42,464.0 553.65,465.6 553.89,465.5 554.12,467.1 554.35,468.9 554.59,467.9 554.82,469.1 555.05,469.7 555.29,469.9 555.52,468.9 555.75,469.6 555.99,469.2 556.22,470.4 556.45,469.4 556.69,469.4 556.92,468.5 557.15,468.2 557.39,467.2 557.62,467.9 557.85,467.8 558.09,466.7 558.32,465.8 558.55,462.9 558.79,460.0 559.02,457.4 559.25,456.1 559.40,454.4 559.49,454.5 559.72,456.2 559.95,458.8 560.19,460.4 560.42,461.6 560.65,462.2 560.89,463.0 561.12,464.9 561.35,466.4 561.59,466.3 561.82,468.3 562.05,467.3 562.29,466.9 562.52,467.5 562.75,467.5 562.99,467.3 563.22,468.5 563.45,469.8 563.69,469.5 563.92,468.3 564.15,465.4 564.39,463.1 564.62,461.6 564.85,461.0 565.09,461.0 565.32,461.7 565.56,462.6 565.79,464.7 566.02,463.4 566.26,463.7 566.49,463.7 566.72,463.2 566.96,458.8 567.19,454.2 567.42,449.3 567.66,444.0 567.89,440.2 568.00,438.5 568.12,437.3 568.36,438.5 568.59,442.5 568.82,444.6 569.06,446.4 569.29,445.9 569.52,447.8 569.76,450.2 569.99,453.9 570.22,458.5 570.46,460.0 570.69,460.3 570.92,459.9 571.16,458.7 571.39,459.7 571.62,462.0 571.86,464.5 572.09,463.5 572.32,462.7 572.56,463.2 572.79,464.4 573.02,466.2 573.26,467.3 573.49,469.5 573.72,470.5 573.96,471.2 574.19,472.7 574.42,472.3 574.66,473.6 574.89,472.6 575.12,472.3 575.36,472.8 575.59,473.2 575.82,471.3 576.06,470.6 576.29,470.6 576.52,472.0 576.76,470.9 576.99,470.1 577.23,470.1 577.46,467.9 577.69,465.4 577.93,465.2 578.16,464.9 578.39,465.5 578.63,462.8 578.86,461.7 579.09,459.6 579.33,457.8 579.56,456.5 579.79,455.5 580.00,454.9 580.03,454.6 580.26,456.1 580.49,457.4 580.73,458.8 580.96,460.2 581.19,460.7 581.43,461.1 581.66,461.4 581.89,462.5 582.13,461.2 582.36,460.7 582.59,461.5 582.83,460.6 583.06,461.3 583.29,462.5 583.53,462.5 583.76,462.5 583.99,462.7 584.23,460.6 584.46,456.1 584.69,449.0 584.93,439.7 585.16,428.3 585.39,421.0 585.50,420.1 585.63,422.2 585.86,429.3 586.09,436.2 586.33,440.6 586.56,440.8 586.79,440.0 587.03,442.3 587.26,447.8 587.49,453.7 587.73,458.5 587.96,460.8 588.19,459.9 588.43,461.2 588.66,460.5 588.90,458.3 589.13,455.5 589.36,452.8 589.60,451.2 589.83,449.3 590.06,449.8 590.30,449.4 590.53,448.3 590.76,446.4 591.00,444.3 591.23,442.1 591.46,441.1 591.70,438.8 591.93,436.2 592.16,434.8 592.40,433.0 592.63,430.7 592.86,422.8 593.10,411.6 593.33,397.4 593.56,386.5 593.70,384.8 593.80,384.4 594.03,390.9 594.26,400.7 594.50,405.9 594.73,404.5 594.80,403.0 594.96,399.6 595.20,396.4 595.43,398.4 595.50,397.8 595.66,401.1 595.90,404.7 596.13,407.4 596.36,408.8 596.50,409.1 596.60,409.1 596.83,410.3 597.06,412.5 597.20,414.1 597.30,415.3 597.53,417.2 597.76,417.3 598.00,416.3 598.23,417.6 598.46,419.8 598.70,422.7 598.93,424.0 599.00,423.9 599.16,426.7 599.40,427.9 599.63,428.7 599.86,429.3 600.10,430.1 600.33,431.3 600.57,430.4 600.80,430.4 601.00,430.8 601.03,431.4 601.27,431.0 601.50,431.7 601.73,433.5 601.97,435.6 602.20,435.8 602.43,434.0 602.67,432.9 602.90,431.5 603.00,430.7 603.13,432.1 603.37,436.3 603.60,439.7 603.83,440.9 604.07,440.2 604.30,438.0 604.53,436.8 604.77,434.1 605.00,428.3 605.23,420.8 605.47,409.2 605.70,400.4 605.70,400.6 605.93,396.7 606.17,395.0 606.40,392.3 606.50,390.3 606.63,390.1 606.87,392.2 607.10,393.2 607.33,393.0 607.57,393.2 607.80,395.6 607.80,396.8 608.03,399.3 608.27,405.5 608.50,411.3 608.73,412.7 608.97,413.3 609.20,411.9 609.43,406.0 609.67,393.4 609.90,375.8 610.13,351.4 610.37,331.8 610.50,327.3 610.60,328.8 610.83,344.2 611.07,365.8 611.30,379.8 611.53,381.7 611.77,378.6 612.00,377.6 612.24,386.3 612.47,399.1 612.70,409.9 612.94,419.5 613.17,423.2 613.40,422.1 613.60,421.7 613.64,421.7 613.87,423.0 614.10,426.6 614.34,430.1 614.57,430.5 614.80,430.2 615.04,428.7 615.27,427.9 615.50,428.4 615.50,428.9 615.74,433.2 615.97,436.7 616.20,438.5 616.44,438.7 616.67,438.2 616.90,437.6 617.14,436.2 617.37,434.5 617.50,435.9 617.60,437.0 617.84,439.1 618.07,441.0 618.30,443.6 618.54,443.0 618.77,441.9 619.00,443.7 619.24,447.7 619.47,451.2 619.70,454.0 619.94,456.3 620.17,457.9 620.40,459.1 620.64,460.2 620.87,461.8 621.10,460.7 621.34,462.0 621.57,463.4 621.80,462.2 622.04,461.9 622.27,463.4 622.50,462.4 622.74,460.5 622.97,459.2 623.20,458.8 623.44,458.8 623.67,459.2 623.91,459.6 624.14,460.3 624.37,458.8 624.61,455.9 624.84,453.2 625.07,450.2 625.31,445.9 625.54,443.1 625.60,445.2 625.77,445.4 626.01,446.5 626.24,448.8 626.47,451.0 626.71,451.5 626.94,449.9 627.17,450.0 627.41,450.8 627.64,453.4 627.87,455.3 628.11,457.6 628.34,460.9 628.57,462.8 628.81,464.0 629.04,464.0 629.27,465.2 629.51,465.1 629.74,465.6 629.97,465.0 630.21,465.7 630.44,465.0 630.67,464.9 630.91,464.8 631.14,463.1 631.37,463.4 631.61,464.7 631.84,462.9 632.07,463.0 632.31,463.6 632.54,463.5 632.77,461.3 633.01,459.3 633.24,455.5 633.47,451.1 633.71,444.4 633.94,434.3 634.17,424.5 634.40,420.2 634.41,420.1 634.64,423.6 634.87,431.4 635.11,438.7 635.34,443.2 635.58,442.5 635.81,442.2 636.04,443.2 636.28,445.8 636.51,449.6 636.74,450.8 636.98,453.1 637.21,453.8 637.44,454.1 637.68,453.9 637.91,454.9 638.14,457.2 638.38,458.6 638.61,459.8 638.84,460.5 639.08,460.2 639.31,458.8 639.54,458.0 639.78,457.0 640.01,455.0 640.24,452.2 640.48,450.4 640.71,448.0 640.94,443.5 641.18,434.3 641.41,425.3 641.60,422.3 641.64,422.8 641.88,427.0 642.11,436.0 642.34,442.4 642.58,444.2 642.81,442.5 643.04,439.9 643.28,440.8 643.51,443.1 643.74,448.7 643.98,453.4 644.21,457.4 644.44,462.1 644.68,464.2 644.91,463.5 645.14,464.3 645.38,465.4 645.61,464.7 645.84,463.6 646.08,465.5 646.31,465.6 646.54,465.9 646.78,465.2 647.01,466.2 647.25,466.4 647.48,465.7 647.71,466.5 647.95,466.2 648.18,466.2 648.41,465.9 648.65,465.8 648.88,465.8 649.11,466.8 649.35,466.0 649.58,465.5 649.81,466.9 650.05,467.1 650.28,467.6 650.51,467.8 650.75,468.7 650.98,468.8 651.21,468.9 651.45,469.9 651.68,470.4 651.91,470.6 652.15,470.7 652.38,469.4 652.61,470.2 652.85,470.2 653.08,470.7 653.31,471.4 653.55,471.2 653.78,471.0 654.01,471.7 654.25,471.7 654.48,472.4 654.71,472.6 654.95,471.5 655.18,470.9 655.41,471.5 655.65,471.9 655.88,471.0 656.11,469.2 656.35,468.1 656.58,467.9 656.81,467.9 657.05,468.8 657.28,469.1 657.51,469.7 657.75,469.4 657.98,469.6 658.21,467.4 658.45,465.0 658.68,461.4 658.92,458.5 659.15,456.0 659.30,454.8 659.38,454.4 659.62,453.7 659.85,456.1 660.08,459.4 660.32,460.7 660.55,461.7 660.78,462.4 661.02,463.3 661.25,465.3 661.48,467.8 661.72,469.0 661.95,469.8 662.18,470.2 662.42,471.1 662.65,473.3 662.88,472.1 663.12,472.1 663.35,472.2 663.58,472.9 663.82,473.1 664.05,473.9 664.28,474.7 664.52,473.8 664.75,474.2 664.98,474.2 665.22,474.4 665.45,473.8 665.68,474.1 665.92,473.0 666.15,472.0 666.38,471.8 666.62,471.6 666.85,471.1 667.08,471.4 667.32,471.7 667.55,470.3 667.78,470.6 668.02,469.9 668.25,468.4 668.48,467.3 668.72,467.2 668.95,466.5 669.18,464.8 669.42,462.7 669.65,459.7 669.88,455.9 670.12,454.3 670.30,454.3 670.35,454.9 670.59,454.3 670.82,456.0 671.05,457.8 671.29,457.7 671.52,457.1 671.75,456.6 671.99,456.7 672.22,458.1 672.45,460.0 672.69,461.0 672.92,463.3 673.15,463.8 673.39,466.8 673.62,467.2 673.85,466.5 674.09,467.1 674.32,466.5 674.55,466.4 674.79,466.3 675.02,465.7 675.25,465.2 675.49,465.2 675.72,464.4 675.95,463.6 676.19,462.7 676.42,462.3 676.65,464.4 676.89,464.5 677.12,463.8 677.35,465.0 677.59,465.0 677.82,463.7 678.05,464.3 678.29,465.1 678.52,466.2 678.75,465.8 678.99,465.4 679.22,464.7 679.45,464.7 679.69,463.8 679.92,464.8 680.15,464.9 680.39,463.7 680.62,464.2 680.85,464.7 681.09,464.1 681.32,462.2 681.55,459.2 681.79,457.6 682.02,456.6 682.10,457.1 682.26,456.0 682.49,456.0 682.72,456.9 682.96,458.7 683.19,459.0 683.42,458.0 683.66,457.2 683.89,457.5 684.12,458.4 684.36,457.8 684.59,459.4 684.82,460.9 685.06,462.2 685.29,463.5 685.52,463.8 685.76,463.8 685.99,464.5 686.22,464.2 686.46,463.1 686.69,461.9 686.92,459.9 687.16,458.8 687.39,457.0 687.62,456.4 687.86,457.4 688.09,457.9 688.32,459.3 688.56,460.5 688.79,461.3 689.02,461.4 689.26,462.1 689.49,463.0 689.72,462.2 689.96,460.1 690.19,459.0 690.42,458.5 690.66,457.2 690.89,455.4 691.12,454.8 691.20,455.0 691.36,456.4 691.59,459.2 691.82,460.9 692.06,460.7 692.29,461.6 692.52,461.9 692.76,462.5 692.99,464.4 693.22,465.8 693.46,467.0 693.69,469.1 693.93,470.2 694.16,471.7 694.39,471.8 694.63,472.7 694.86,472.7 695.09,473.4 695.33,474.1 695.56,473.5 695.79,474.0 696.03,474.1 696.26,473.7 696.49,473.7 696.73,473.2 696.96,472.9 697.19,473.3 697.43,472.6 697.66,470.5 697.89,469.1 698.13,466.4 698.36,464.3 698.50,463.3 698.59,462.7 698.83,464.8 699.06,465.5 699.29,467.8 699.53,469.5 699.76,469.7 699.99,469.4 700.23,468.7 700.46,469.3 700.69,470.7 700.93,472.2 701.16,471.9 701.39,472.7 701.63,472.8 701.86,472.6 702.09,472.6 702.33,472.9 702.56,472.7 702.79,474.0 703.03,474.5 703.26,474.4 703.49,475.2 703.73,475.4 703.96,475.2 704.19,476.0 704.43,475.9 704.66,477.0 704.89,475.0 705.13,474.3 705.36,474.2 705.60,474.7 705.83,475.0 706.06,474.1 706.30,473.6 706.53,474.6 706.76,474.0 707.00,473.2 707.23,473.2 707.46,473.1 707.70,474.3 707.93,474.8 708.16,472.5 708.40,471.3 708.63,470.7 708.86,468.4 709.10,468.0 709.33,464.5 709.56,462.1 709.80,460.2 710.03,459.1 710.20,457.6 710.26,455.8 710.50,455.9 710.73,457.4 710.96,457.0 711.20,457.8 711.43,457.4 711.66,457.3 711.90,455.6 712.13,452.6 712.36,453.1 712.60,452.5 712.83,451.1 713.00,451.2 713.06,451.3 713.30,454.0 713.53,457.5 713.76,460.6 714.00,462.1 714.23,461.6 714.46,461.2 714.70,461.7 714.93,460.0 715.16,461.2 715.40,463.8 715.63,465.4 715.86,464.5 716.10,465.3 716.33,465.9 716.56,467.7 716.80,469.0 717.03,469.8 717.27,471.2 717.50,471.8 717.73,471.4 717.97,470.2 718.20,468.8 718.43,468.7 718.67,468.0 718.90,465.9 719.13,465.0 719.37,462.0 719.60,457.7 719.83,453.5 720.07,449.7 720.20,448.7 720.30,449.8 720.53,451.9 720.77,453.9 721.00,455.9 721.23,456.5 721.47,456.0 721.70,454.3 721.93,451.4 722.17,451.9 722.40,453.7 722.63,456.2 722.87,458.0 723.10,457.0 723.33,456.1 723.57,456.1 723.80,454.7 724.03,454.2 724.27,450.8 724.50,448.3 724.73,447.4 724.80,447.4 724.97,448.2 725.20,451.7 725.43,455.4 725.67,457.1 725.90,458.2 726.13,455.7 726.37,451.9 726.60,451.3 726.83,450.1 727.07,452.8 727.30,456.7 727.53,458.5 727.77,459.1 728.00,460.7 728.23,462.6 728.47,463.9 728.70,463.1 728.94,463.4 729.17,462.0 729.40,459.5 729.64,456.7 729.87,453.8 730.10,449.0 730.20,448.4 730.34,449.6 730.57,451.2 730.80,452.8 731.04,456.0 731.27,458.5 731.50,460.3 731.74,459.7 731.97,460.1 732.20,460.3 732.44,461.2 732.67,462.9 732.90,464.8 733.14,466.3 733.37,466.8 733.60,467.5 733.84,468.0 734.07,467.7 734.30,468.2 734.54,467.8 734.77,467.9 735.00,469.3 735.24,471.4 735.47,471.9 735.70,470.9 735.94,472.1 736.17,472.4 736.40,472.7 736.64,473.0 736.87,473.4 737.10,474.0 737.34,475.3 737.57,476.5 737.80,476.7 738.04,477.3 738.27,478.1 738.50,478.8 738.74,479.6 738.97,478.8 739.20,479.2 739.44,479.5 739.67,479.8 739.90,479.6 740.14,479.9 740.37,479.2 740.61,479.2 740.84,479.1 741.07,477.8 741.31,478.5 741.54,478.8 741.77,477.4 742.01,476.4 742.24,476.5 742.47,474.8 742.71,473.8 742.94,471.5 743.00,472.4 743.17,472.7 743.41,473.8 743.64,474.8 743.87,474.5 744.11,473.8 744.34,472.3 744.57,473.7 744.81,474.0 745.04,473.2 745.27,473.2 745.51,474.5 745.74,475.9 745.97,476.6 746.21,477.6 746.44,476.3 746.67,475.8 746.91,477.0 747.14,477.5 747.37,476.6 747.61,476.4 747.84,475.9 748.07,475.4 748.31,475.3 748.54,474.8 748.77,476.1 749.01,476.6 749.24,476.6 749.47,475.5 749.71,475.1 749.94,474.4 750.17,474.7 750.41,476.7 750.64,477.7 750.87,475.6 751.11,475.5 751.34,476.2 751.57,475.5 751.81,476.0 752.04,475.7 752.28,475.8 752.51,476.4 752.74,475.6 752.98,474.9 753.21,476.0 753.44,475.9 753.68,475.6 753.91,475.9 754.14,476.9 754.38,476.5 754.61,477.1 754.84,477.6 755.08,477.0 755.31,476.8 755.54,475.0 755.78,474.9 756.01,474.0 756.24,473.1 756.48,471.0 756.70,470.7 756.71,470.0 756.94,469.7 757.18,470.9 757.41,472.6 757.64,474.3 757.88,474.2 758.11,474.7 758.34,475.3 758.58,475.6 758.81,475.8 759.04,476.4 759.28,475.7 759.51,476.7 759.74,478.1 759.98,479.2 760.21,479.1 760.44,478.5 760.68,478.6 760.91,478.3 761.14,479.4 761.38,478.5 761.61,479.6 761.84,480.6 762.08,480.3 762.31,479.0 762.54,479.8 762.78,479.8 763.01,480.2 763.24,481.3 763.48,480.5 763.71,479.3 763.95,479.6 764.18,480.7 764.41,480.4 764.65,479.1 764.88,478.3 765.11,478.2 765.35,478.0 765.58,478.3 765.81,477.9 766.05,479.1 766.28,479.8 766.51,478.5 766.75,479.2 766.98,480.4 767.21,479.3 767.45,479.2 767.68,479.3 767.91,478.0 768.15,477.4 768.38,476.7 768.61,477.7 768.85,477.4 769.08,477.0 769.31,476.3 769.55,478.3 769.78,478.4 770.01,477.7 770.25,478.2 770.48,476.3 770.71,476.9 770.95,476.7 771.18,478.2 771.41,475.3 771.65,475.1 771.88,475.7 772.11,476.9 772.35,477.2 772.58,476.9 772.81,476.9 773.05,477.9 773.28,476.5 773.51,476.8 773.75,477.3 773.98,475.4 774.21,475.0 774.45,475.6 774.68,474.3 774.91,472.0 775.15,471.4 775.38,471.0 775.62,468.9 775.80,468.7 775.85,468.3 776.08,468.5 776.32,470.8 776.55,471.8 776.78,472.3 777.02,471.7 777.25,471.5 777.48,471.2 777.72,470.8 777.95,470.1 778.18,470.4 778.42,471.6 778.65,470.8 778.88,471.3 779.12,471.6 779.35,471.4 779.58,470.9 779.82,471.1 780.05,472.1 780.28,471.9 780.52,472.4 780.75,473.9 780.98,473.0 781.22,474.2 781.45,473.9 781.68,472.9 781.92,473.3 782.15,473.6 782.38,474.3 782.62,473.5 782.85,471.9 783.08,470.8 783.32,471.0 783.55,472.4 783.78,472.6 784.02,473.4 784.25,473.6 784.48,473.7 784.72,473.4 784.95,472.0 785.18,470.8 785.42,469.4 785.65,469.2 785.80,469.2 785.88,469.6 786.12,469.8 786.35,469.2 786.58,469.7 786.82,471.9 787.05,472.7 787.29,472.0 787.52,472.7 787.75,471.9 787.99,471.7 788.22,472.1 788.45,471.5 788.69,471.8 788.92,473.0 789.15,473.1 789.39,473.9 789.62,473.5 789.85,471.8 790.09,472.3 790.32,472.5 790.55,470.9 790.79,471.8 791.02,471.8 791.25,472.4 791.49,475.0 791.72,475.7 791.95,475.1 792.19,475.3 792.42,476.5 792.65,476.3 792.89,475.2 793.12,474.8 793.35,473.5 793.59,472.2 793.82,471.6 794.00,470.8 794.05,471.1 794.29,470.8 794.52,471.4 794.75,472.5 794.99,474.2 795.22,475.1 795.45,474.7 795.69,473.8 795.92,474.0 796.15,473.0 796.39,472.6 796.62,473.4 796.85,474.5 797.09,474.9 797.32,475.5 797.55,476.5 797.79,476.6 798.02,476.3 798.25,477.0 798.49,476.7 798.72,476.9 798.96,476.7 799.19,475.5 799.42,474.0 799.66,474.3 799.89,474.7 800.12,475.5 800.36,475.9 800.59,475.9 800.82,476.2 801.06,477.8 801.29,478.2 801.52,477.8 801.76,477.6 801.99,478.3 802.22,476.9 802.46,475.4 802.69,475.1 802.92,474.9 803.16,476.1 803.39,476.9 803.62,477.5 803.86,477.5 804.09,477.3 804.32,477.9 804.56,478.2 804.79,477.0 805.02,476.8 805.26,476.8 805.49,477.8 805.72,477.6 805.96,477.7 806.19,476.9 806.42,477.0 806.66,475.4 806.89,473.7 807.12,471.5 807.36,467.9 807.59,465.6 807.70,466.0 807.82,466.2 808.06,469.5 808.29,472.9 808.52,473.4 808.76,473.9 808.99,472.9 809.22,471.9 809.46,471.3 809.69,470.0 809.92,469.9 810.16,471.2 810.39,472.1 810.63,473.6 810.86,476.4 811.09,477.1 811.33,477.8 811.56,477.5 811.79,477.8 812.03,477.2 812.26,477.3 812.49,477.3 812.73,477.7 812.96,478.1 813.19,476.9 813.43,474.6 813.66,475.6 813.89,476.0 814.13,476.5 814.36,476.2 814.59,475.8 814.83,476.0 815.06,476.5 815.29,477.0 815.53,478.3 815.76,478.0 815.99,477.6 816.23,478.2 816.46,478.7 816.69,477.5 816.93,477.6 817.16,477.7 817.39,477.5 817.63,478.0 817.86,478.3 818.09,479.2 818.33,479.5 818.56,479.5 818.79,478.8 819.03,479.4 819.26,478.7 819.49,479.4 819.73,480.8 819.96,481.2 820.19,481.5 820.43,482.2 820.66,481.5 820.89,480.6 821.13,480.4 821.36,480.4 821.59,481.0 821.83,480.8 822.06,480.9 822.30,480.8 822.53,480.8 822.76,483.1 823.00,482.1 823.23,480.2 823.46,481.0 823.70,480.3 823.93,479.3 824.16,480.1 824.40,480.5 824.63,480.6 824.86,480.4 825.10,478.9 825.33,479.0 825.56,479.5 825.80,479.5 826.03,479.4 826.26,479.4 826.50,479.7 826.73,478.1 826.96,477.8 827.20,479.4 827.43,478.9 827.66,478.6 827.90,477.7 828.13,476.9 828.36,476.6 828.60,476.6 828.83,476.1 829.06,476.0 829.30,476.0 829.53,476.5 829.76,476.9 830.00,477.1 830.23,475.9 830.46,475.9 830.70,476.2 830.93,475.0 831.16,472.8 831.40,473.4 831.63,473.0 831.86,472.5 832.10,472.8 832.30,473.5 832.33,474.7 832.56,475.3 832.80,475.6 833.03,476.5 833.26,476.6 833.50,475.6 833.73,475.4 833.97,475.8 834.20,476.9 834.43,477.1 834.67,477.8 834.90,477.6 835.13,477.0 835.37,476.5 835.60,477.6 835.83,479.2 836.07,477.9 836.30,477.8 836.53,478.6 836.77,479.7 837.00,479.0 837.23,478.3 837.47,478.6 837.70,479.2 837.93,479.7 838.17,480.6 838.40,481.7 838.63,481.1 838.87,480.5 839.10,480.0 839.33,479.8 839.57,480.8 839.80,481.6 840.03,481.5 840.27,481.1 840.50,481.5 840.73,481.1 840.97,481.1 841.20,481.1 841.43,481.4 841.67,481.7 841.90,482.4 842.13,482.2 842.37,482.3 842.60,483.0 842.83,483.1 843.07,483.0 843.30,482.1 843.53,482.9 843.77,482.3 844.00,481.8 844.23,482.3 844.47,482.1 844.70,482.5 844.93,483.3 845.17,484.0 845.40,483.1 845.64,483.8 845.87,484.1 846.10,485.1 846.34,484.7 846.57,485.1 846.80,485.6 847.04,484.4 847.27,484.5 847.50,484.2 847.74,484.8 847.97,485.6 848.20,485.5 848.44,485.6 848.67,485.0 848.90,484.6 849.14,484.6 849.37,483.9 849.60,483.4 849.84,483.2 850.07,484.3 850.30,484.8 850.54,484.0 850.77,483.9 851.00,483.0 851.24,483.6 851.47,484.3 851.70,483.8 851.94,484.4 852.17,484.1 852.40,484.1 852.64,483.2 852.87,482.3 853.10,483.0 853.34,483.4 853.57,483.0 853.80,483.4 854.04,482.9 854.27,483.2 854.50,483.9 854.74,483.0 854.97,482.3 855.20,483.1 855.44,483.1 855.67,483.1 855.90,483.4 856.14,481.9 856.37,483.7 856.60,484.7 856.84,483.3 857.07,482.1 857.31,484.2 857.54,485.5 857.77,484.5 858.01,483.5 858.24,483.7 858.47,484.2 858.71,484.5 858.94,484.9 859.17,484.1 859.41,482.4 859.64,483.1 859.87,483.6 860.11,484.4 860.34,482.9 860.57,482.1 860.81,483.0 861.04,483.7 861.27,483.5 861.51,485.4 861.74,485.7 861.97,486.5 862.21,486.7 862.44,486.9"/>
<polyline fill="none" stroke="#000000" stroke-width="1.1" stroke-linejoin="round" points="138.90,374.2 139.13,374.4 139.37,374.1 139.60,373.7 139.83,374.9 140.07,374.9 140.30,374.9 140.53,374.7 140.77,374.1 141.00,375.0 141.23,374.6 141.47,374.6 141.70,375.8 141.93,375.5 142.17,375.9 142.40,376.6 142.63,376.7 142.87,375.1 143.10,375.5 143.33,376.2 143.57,375.4 143.80,374.5 144.03,376.4 144.27,377.3 144.50,377.9 144.73,377.8 144.97,377.7 145.20,378.1 145.44,378.1 145.67,378.0 145.90,378.5 146.14,378.5 146.37,378.0 146.60,378.9 146.84,379.0 147.07,378.4 147.30,376.7 147.54,377.9 147.77,378.3 148.00,378.3 148.24,379.2 148.47,378.9 148.70,380.4 148.94,380.4 149.17,380.2 149.40,381.2 149.64,381.0 149.87,380.6 150.10,379.8 150.34,380.7 150.57,381.4 150.80,381.1 151.04,380.3 151.27,381.8 151.50,382.3 151.74,381.9 151.97,381.0 152.20,380.2 152.44,380.4 152.67,380.6 152.90,381.1 153.14,381.1 153.37,380.3 153.60,379.9 153.84,380.5 154.07,380.8 154.30,382.1 154.54,381.5 154.77,382.3 155.00,382.5 155.24,381.9 155.47,382.5 155.70,382.1 155.94,381.5 156.17,381.6 156.40,382.5 156.64,382.9 156.87,381.9 157.11,382.9 157.34,382.9 157.57,382.6 157.81,382.9 158.04,383.2 158.27,383.4 158.51,383.7 158.74,383.4 158.97,384.8 159.21,384.5 159.44,383.4 159.67,382.8 159.91,383.7 160.14,383.8 160.37,384.2 160.61,383.7 160.84,382.8 161.00,381.3 161.07,381.3 161.31,381.3 161.54,382.6 161.77,384.3 162.01,383.9 162.24,383.6 162.47,383.6 162.71,384.1 162.94,384.4 163.17,383.9 163.41,383.4 163.64,383.8 163.87,383.2 164.11,382.8 164.34,381.5 164.57,376.5 164.81,366.3 165.04,357.9 165.10,356.6 165.27,357.1 165.51,364.8 165.74,372.6 165.97,378.5 166.21,381.6 166.44,382.6 166.67,381.8 166.91,381.0 167.14,378.1 167.37,367.3 167.61,345.5 167.84,312.3 168.07,283.7 168.10,282.4 168.31,283.5 168.54,309.5 168.78,342.8 169.01,366.0 169.24,377.1 169.48,381.4 169.71,383.1 169.94,383.8 170.18,384.1 170.41,384.1 170.64,384.5 170.88,384.6 171.11,385.0 171.34,385.8 171.58,384.6 171.81,385.3 172.04,384.8 172.28,385.4 172.51,386.3 172.74,386.2 172.98,386.8 173.21,385.9 173.44,386.1 173.68,386.2 173.91,386.6 174.14,386.6 174.38,386.7 174.61,387.1 174.84,387.7 175.08,387.2 175.31,386.7 175.54,385.5 175.78,383.0 176.01,379.0 176.24,376.0 176.30,375.9 176.48,375.3 176.71,379.1 176.94,382.6 177.18,385.1 177.41,386.9 177.64,388.3 177.88,388.5 178.11,388.7 178.34,389.6 178.58,389.6 178.81,387.9 179.04,388.5 179.28,387.9 179.51,387.7 179.74,388.6 179.98,389.5 180.21,388.8 180.45,388.6 180.68,389.2 180.91,388.7 181.15,388.4 181.38,389.3 181.61,388.9 181.85,388.3 182.08,388.4 182.31,389.0 182.55,389.8 182.78,390.4 183.01,390.4 183.25,389.8 183.48,389.3 183.71,390.2 183.95,389.8 184.18,388.9 184.41,388.8 184.65,389.5 184.88,389.8 185.11,389.7 185.35,389.0 185.58,390.1 185.81,388.8 186.05,389.6 186.28,390.7 186.51,390.5 186.75,389.6 186.98,390.4 187.21,390.9 187.45,390.5 187.68,389.8 187.91,390.6 188.15,389.3 188.38,389.5 188.61,389.2 188.85,389.3 189.08,389.4 189.31,389.6 189.55,388.9 189.78,389.5 190.01,390.1 190.25,389.4 190.48,389.1 190.71,388.6 190.95,387.7 191.18,387.9 191.41,388.6 191.65,389.5 191.88,390.8 192.12,390.8 192.35,389.8 192.58,389.6 192.82,389.1 193.05,388.8 193.28,390.6 193.52,390.3 193.75,389.1 193.98,390.1 194.22,391.4 194.45,390.6 194.68,390.2 194.92,389.8 195.15,389.1 195.38,388.9 195.62,389.3 195.85,389.9 196.08,390.0 196.32,390.6 196.55,391.0 196.78,390.2 197.02,389.6 197.25,388.4 197.48,388.0 197.72,389.7 197.95,389.8 198.18,390.1 198.42,389.4 198.65,389.1 198.88,390.3 199.12,389.0 199.35,389.6 199.58,389.7 199.82,390.0 200.05,390.3 200.28,389.8 200.52,388.5 200.75,389.5 200.98,388.8 201.22,389.8 201.45,389.6 201.68,389.2 201.92,389.4 202.15,389.2 202.38,389.8 202.62,390.4 202.85,390.2 203.08,389.8 203.32,390.2 203.55,390.3 203.79,391.1 204.02,390.4 204.25,389.7 204.49,389.7 204.72,389.6 204.95,389.8 205.19,390.1 205.42,390.6 205.65,390.7 205.89,390.4 206.12,390.4 206.35,389.8 206.59,389.4 206.82,388.6 207.05,389.3 207.29,390.2 207.52,391.4 207.75,389.8 207.99,390.0 208.22,389.8 208.45,389.2 208.69,390.0 208.92,389.8 209.15,388.8 209.39,388.3 209.62,389.4 209.85,389.3 210.09,390.2 210.32,390.1 210.55,390.3 210.79,390.2 211.02,391.1 211.25,390.9 211.49,391.1 211.72,390.2 211.95,389.3 212.19,388.9 212.42,389.4 212.65,389.7 212.89,389.5 213.12,390.7 213.35,389.8 213.59,389.8 213.82,389.7 214.05,389.3 214.29,390.5 214.52,390.6 214.75,390.4 214.99,389.5 215.22,389.8 215.46,390.0 215.69,390.2 215.92,389.2 216.16,390.0 216.39,390.4 216.62,389.5 216.86,389.4 217.09,390.5 217.32,390.3 217.56,390.6 217.79,390.6 218.02,390.5 218.26,389.5 218.49,388.5 218.72,389.4 218.96,389.0 219.19,389.3 219.42,389.1 219.66,390.1 219.89,389.6 220.12,390.1 220.36,390.2 220.59,389.6 220.82,389.6 221.06,389.2 221.29,388.8 221.52,389.6 221.76,388.2 221.99,387.3 222.22,387.4 222.46,386.6 222.69,383.2 222.92,375.2 223.16,364.2 223.30,358.8 223.39,358.9 223.62,358.4 223.86,350.0 224.09,324.5 224.32,281.0 224.56,239.0 224.60,232.8 224.79,231.7 225.02,260.5 225.26,305.9 225.49,347.7 225.72,371.9 225.96,382.3 226.19,386.4 226.42,388.3 226.66,387.9 226.89,388.7 227.13,388.7 227.36,389.4 227.59,389.3 227.83,389.0 228.06,389.9 228.29,390.1 228.53,390.5 228.76,389.5 228.99,389.4 229.23,389.2 229.46,389.9 229.69,389.0 229.93,389.1 230.16,389.8 230.39,389.6 230.63,389.5 230.86,389.6 231.09,389.9 231.33,390.0 231.56,389.3 231.79,388.6 232.03,390.0 232.26,389.5 232.49,390.8 232.73,390.8 232.96,392.1 233.19,391.4 233.43,390.7 233.66,390.6 233.89,389.5 234.13,389.9 234.36,389.7 234.59,389.4 234.83,388.1 235.06,388.1 235.29,389.7 235.53,389.8 235.76,389.7 235.99,390.0 236.23,389.9 236.46,390.3 236.69,391.0 236.93,390.8 237.16,391.1 237.39,390.3 237.63,389.6 237.86,390.2 238.09,390.6 238.33,390.2 238.56,390.5 238.80,390.8 239.03,391.7 239.26,391.9 239.50,391.8 239.73,391.0 239.96,391.5 240.20,392.1 240.43,391.6 240.66,391.2 240.90,391.0 241.13,391.7 241.36,391.7 241.60,391.9 241.83,391.6 242.06,392.5 242.30,391.5 242.53,390.7 242.76,391.4 243.00,391.7 243.23,391.3 243.46,389.2 243.70,388.0 243.70,388.1 243.93,387.9 244.16,387.9 244.40,390.2 244.63,391.3 244.86,390.6 245.10,390.5 245.33,391.0 245.56,391.2 245.80,392.0 246.03,391.7 246.26,392.1 246.50,391.2 246.73,390.8 246.96,390.7 247.20,391.0 247.43,392.2 247.66,392.6 247.90,392.2 248.13,391.7 248.36,390.6 248.60,391.6 248.83,390.7 249.06,391.6 249.30,391.9 249.53,390.4 249.76,390.1 250.00,390.0 250.23,389.1 250.47,389.3 250.70,390.1 250.93,391.0 251.17,391.5 251.40,391.4 251.63,391.5 251.87,390.2 252.10,388.6 252.33,387.5 252.57,385.7 252.60,385.0 252.80,385.1 253.03,382.1 253.27,375.4 253.50,364.7 253.70,357.3 253.73,357.7 253.97,360.7 254.20,367.5 254.43,375.8 254.67,382.7 254.90,386.5 255.13,388.3 255.37,388.5 255.60,386.0 255.83,379.4 256.07,365.3 256.30,342.6 256.53,320.0 256.60,317.1 256.77,316.7 257.00,326.4 257.23,344.1 257.47,363.6 257.70,377.3 257.93,385.2 258.17,387.7 258.40,389.4 258.63,391.0 258.87,390.5 259.10,389.2 259.33,389.4 259.57,389.8 259.80,390.4 260.03,390.1 260.27,391.3 260.50,392.2 260.73,391.9 260.97,390.6 261.20,390.5 261.43,390.5 261.67,390.7 261.90,391.8 262.14,390.8 262.37,390.5 262.60,391.3 262.84,391.6 263.07,392.3 263.30,392.1 263.54,390.6 263.77,389.5 264.00,390.6 264.24,390.9 264.47,390.8 264.70,388.9 264.94,388.7 265.17,389.7 265.40,388.8 265.64,384.6 265.87,373.5 266.10,350.6 266.34,310.6 266.57,263.8 266.80,232.1 266.80,232.2 267.04,231.0 267.27,255.2 267.50,291.6 267.74,330.7 267.97,359.5 268.20,375.2 268.44,382.8 268.67,384.9 268.90,382.3 269.14,370.5 269.37,346.5 269.60,319.1 269.70,313.7 269.84,313.4 270.07,325.8 270.30,342.2 270.54,361.3 270.77,376.4 271.00,385.4 271.24,388.4 271.47,388.8 271.70,388.5 271.94,389.3 272.17,388.1 272.40,386.4 272.64,384.6 272.87,378.5 273.10,364.7 273.34,349.4 273.50,342.5 273.57,340.4 273.81,340.7 274.04,341.4 274.27,333.8 274.51,310.3 274.74,275.4 274.97,246.5 275.00,244.2 275.21,242.7 275.44,262.1 275.67,294.0 275.91,329.2 276.14,357.8 276.37,375.5 276.61,384.2 276.84,387.5 277.07,389.6 277.31,390.7 277.54,391.0 277.77,390.6 278.01,391.4 278.24,391.6 278.47,391.1 278.71,391.7 278.94,391.6 279.17,391.6 279.41,391.9 279.64,391.5 279.87,390.7 280.11,391.7 280.34,391.5 280.57,392.1 280.81,392.6 281.04,392.3 281.27,392.2 281.51,392.6 281.74,392.8 281.97,392.1 282.21,392.2 282.44,393.0 282.67,393.5 282.91,392.7 283.14,392.5 283.37,391.5 283.61,391.4 283.84,391.1 284.07,390.4 284.31,391.0 284.54,391.1 284.77,390.5 285.01,392.0 285.24,392.8 285.48,393.0 285.71,392.9 285.94,392.0 286.18,391.7 286.41,391.6 286.64,391.1 286.88,391.5 287.11,392.5 287.34,392.2 287.58,393.0 287.81,394.4 288.04,393.7 288.28,393.3 288.51,393.9 288.74,394.1 288.98,393.9 289.21,393.2 289.44,394.1 289.68,394.6 289.91,395.3 290.14,394.4 290.38,393.4 290.61,393.3 290.84,393.1 291.08,392.6 291.31,393.0 291.54,394.1 291.78,394.2 292.01,394.2 292.24,393.7 292.48,394.0 292.71,393.4 292.94,394.5 293.18,394.1 293.41,394.5 293.64,394.7 293.88,393.6 294.11,394.3 294.34,394.2 294.58,394.3 294.81,393.4 295.04,393.2 295.28,394.1 295.51,393.8 295.74,393.3 295.98,392.9 296.21,393.8 296.44,393.2 296.68,392.9 296.91,392.6 297.15,392.9 297.38,393.1 297.61,392.7 297.85,392.4 298.08,392.2 298.31,393.2 298.55,393.1 298.78,391.9 299.01,391.4 299.25,391.7 299.48,391.0 299.71,391.8 299.95,392.0 300.18,392.1 300.41,392.7 300.65,392.5 300.88,391.1 301.11,389.1 301.35,385.5 301.58,375.0 301.81,355.0 302.05,333.5 302.20,325.2 302.28,323.4 302.51,330.4 302.75,342.8 302.98,355.6 303.21,371.2 303.45,382.1 303.68,389.0 303.91,391.7 304.15,392.7 304.38,392.3 304.61,393.2 304.85,393.4 305.08,394.2 305.31,394.5 305.55,394.3 305.78,394.2 306.01,394.4 306.25,394.5 306.48,394.0 306.71,393.8 306.95,393.6 307.18,393.5 307.41,394.3 307.65,393.8 307.88,395.1 308.11,395.0 308.35,393.9 308.58,394.0 308.82,395.0 309.05,395.0 309.28,395.7 309.52,396.3 309.75,396.0 309.98,395.7 310.22,395.8 310.45,396.5 310.68,395.9 310.92,396.8 311.15,396.9 311.38,395.6 311.62,395.8 311.85,396.3 312.08,395.3 312.32,395.6 312.55,395.6 312.78,394.0 313.02,392.4 313.25,388.2 313.48,382.7 313.70,380.1 313.72,379.7 313.95,381.5 314.18,383.4 314.42,385.4 314.65,389.1 314.88,392.0 315.12,394.5 315.35,394.9 315.58,393.8 315.82,393.7 316.05,394.3 316.28,394.6 316.52,394.8 316.75,396.4 316.98,396.7 317.22,395.7 317.45,396.6 317.68,395.4 317.92,395.9 318.15,395.9 318.38,396.0 318.62,396.3 318.85,395.8 319.08,396.5 319.32,397.4 319.55,397.2 319.78,397.5 320.02,397.0 320.25,396.0 320.49,397.3 320.72,397.3 320.95,396.9 321.19,396.2 321.42,395.9 321.65,395.7 321.89,396.1 322.12,396.3 322.35,396.1 322.59,395.7 322.82,394.8 323.05,395.1 323.29,395.2 323.52,395.5 323.75,395.2 323.99,395.1 324.22,395.3 324.45,395.0 324.69,395.0 324.92,395.2 325.15,394.1 325.39,393.5 325.62,394.5 325.85,395.3 326.09,395.5 326.32,395.0 326.55,396.1 326.79,396.0 327.02,395.9 327.25,395.9 327.49,396.1 327.72,396.2 327.95,396.6 328.19,396.0 328.42,395.6 328.65,395.8 328.89,395.5 329.12,395.8 329.35,395.5 329.59,395.4 329.82,395.0 330.05,395.4 330.29,394.9 330.52,393.2 330.75,391.5 330.99,388.9 331.22,385.2 331.40,383.9 331.45,384.7 331.69,385.5 331.92,387.1 332.16,387.6 332.39,389.6 332.62,391.3 332.86,394.0 333.09,393.7 333.32,394.5 333.56,395.9 333.79,395.7 334.02,394.8 334.26,395.9 334.49,395.2 334.72,394.2 334.96,394.8 335.19,395.0 335.42,394.6 335.66,393.5 335.89,394.6 336.12,393.3 336.36,393.7 336.59,394.3 336.82,393.6 337.06,392.8 337.29,392.4 337.52,392.9 337.76,393.2 337.99,392.3 338.22,392.3 338.46,391.7 338.69,390.6 338.92,388.1 339.16,384.6 339.39,378.1 339.60,373.6 339.62,373.9 339.86,375.9 340.09,378.7 340.32,378.5 340.56,377.6 340.79,371.7 341.02,357.2 341.26,343.5 341.30,342.2 341.49,346.5 341.72,355.7 341.96,360.1 342.19,367.4 342.42,377.5 342.66,384.8 342.89,387.4 343.12,388.3 343.36,388.9 343.59,387.5 343.83,387.7 344.06,388.5 344.29,388.8 344.53,388.2 344.76,387.8 344.99,387.5 345.23,387.9 345.46,387.7 345.69,385.7 345.93,380.5 346.16,371.2 346.39,364.0 346.40,363.7 346.63,366.8 346.86,372.0 347.09,373.7 347.33,375.2 347.56,379.5 347.79,377.5 348.03,365.6 348.26,343.2 348.49,326.1 348.50,325.0 348.73,333.3 348.96,346.2 349.19,350.7 349.43,359.0 349.66,371.8 349.89,381.2 350.13,385.1 350.36,386.9 350.59,387.1 350.83,387.0 351.06,386.0 351.29,386.4 351.53,386.7 351.76,387.0 351.99,387.0 352.23,387.4 352.46,388.3 352.69,387.1 352.93,385.1 353.16,381.3 353.39,371.8 353.63,356.1 353.80,349.0 353.86,349.2 354.09,356.8 354.33,362.4 354.56,363.3 354.79,369.6 355.03,378.1 355.26,383.1 355.50,386.2 355.73,387.6 355.96,388.4 356.20,388.7 356.43,388.2 356.66,388.3 356.90,388.6 357.13,388.6 357.36,387.9 357.60,387.4 357.83,387.7 358.06,387.3 358.30,385.0 358.53,378.2 358.76,362.2 359.00,347.0 359.00,346.5 359.23,349.2 359.46,342.4 359.70,315.7 359.90,303.8 359.93,305.4 360.16,325.6 360.40,344.1 360.63,349.5 360.86,359.1 361.10,372.7 361.33,383.2 361.56,385.6 361.80,381.9 362.03,370.7 362.26,351.6 362.50,339.2 362.50,338.3 362.73,346.6 362.96,359.1 363.20,361.2 363.43,365.7 363.66,376.3 363.90,384.6 364.13,389.3 364.36,390.9 364.60,390.3 364.83,389.9 365.06,390.4 365.30,390.3 365.53,390.2 365.76,390.3 366.00,389.9 366.23,389.6 366.46,389.7 366.70,388.2 366.93,388.1 367.17,388.4 367.40,388.2 367.63,388.8 367.87,387.2 368.00,388.2 368.10,388.4 368.33,388.3 368.57,388.2 368.80,387.6 369.03,387.9 369.27,389.1 369.50,388.6 369.73,388.0 369.97,388.1 370.20,388.3 370.43,389.4 370.67,389.9 370.90,389.1 371.13,388.9 371.37,388.6 371.60,389.1 371.83,389.3 372.07,389.2 372.30,388.9 372.50,387.7 372.53,388.2 372.77,388.6 373.00,390.6 373.23,391.6 373.47,392.2 373.70,393.1 373.93,393.3 374.17,393.7 374.40,394.6 374.63,394.7 374.87,395.4 375.10,395.2 375.33,395.9 375.57,396.1 375.80,395.7 376.03,396.0 376.27,396.6 376.50,396.4 376.73,396.7 376.97,396.6 377.20,396.9 377.43,396.5 377.67,397.0 377.90,398.1 378.13,397.9 378.37,397.4 378.60,397.0 378.84,396.1 379.07,395.6 379.30,392.5 379.54,388.4 379.77,385.8 379.80,385.2 380.00,386.9 380.24,390.3 380.47,391.6 380.70,392.5 380.94,393.5 381.17,396.1 381.40,397.8 381.64,397.8 381.87,397.9 382.10,398.0 382.34,398.7 382.57,399.5 382.80,400.0 383.04,399.9 383.27,400.0 383.50,399.1 383.74,398.1 383.97,398.6 384.20,397.6 384.44,398.1 384.67,398.1 384.90,397.4 385.14,397.6 385.37,397.4 385.60,397.5 385.84,397.3 386.07,397.5 386.30,397.0 386.54,397.1 386.77,396.6 387.00,396.3 387.24,395.9 387.47,395.4 387.70,396.0 387.94,395.5 388.17,394.1 388.40,394.6 388.64,396.0 388.87,395.6 389.10,396.7 389.34,395.7 389.57,395.2 389.80,394.7 390.04,394.6 390.27,394.8 390.51,395.0 390.74,394.4 390.97,393.6 391.21,392.3 391.44,390.4 391.67,387.6 391.90,385.5 391.91,385.1 392.14,384.1 392.37,379.2 392.61,363.4 392.84,343.6 393.00,337.9 393.07,339.6 393.31,352.9 393.54,362.6 393.77,363.5 394.01,367.1 394.24,378.3 394.47,386.4 394.71,390.1 394.94,391.8 395.17,393.2 395.41,393.2 395.64,392.4 395.87,392.2 396.11,391.3 396.34,392.4 396.57,392.4 396.81,392.3 397.04,392.6 397.27,392.8 397.51,392.4 397.74,392.1 397.97,391.5 398.21,390.8 398.44,385.3 398.67,378.2 398.90,374.5 398.91,374.8 399.14,378.0 399.37,381.4 399.61,381.6 399.84,380.6 400.07,380.2 400.31,378.9 400.54,374.9 400.60,375.3 400.77,378.1 401.01,382.7 401.24,383.9 401.47,384.5 401.71,386.6 401.94,388.7 402.18,391.4 402.41,392.9 402.64,394.0 402.88,394.6 403.11,395.8 403.34,397.5 403.58,397.2 403.81,397.8 404.04,397.3 404.28,398.3 404.51,399.4 404.74,399.6 404.98,400.2 405.21,401.5 405.44,401.1 405.68,401.1 405.91,400.2 406.14,401.0 406.38,399.4 406.61,399.4 406.84,399.4 407.08,398.9 407.31,396.3 407.54,388.0 407.78,370.0 408.01,350.9 408.10,347.7 408.24,351.0 408.48,365.4 408.71,373.1 408.94,371.5 409.18,376.2 409.41,386.4 409.64,394.5 409.88,398.3 410.11,400.2 410.34,400.4 410.58,399.8 410.81,399.3 411.04,399.0 411.28,396.4 411.51,391.3 411.74,387.1 411.80,387.2 411.98,388.9 412.21,392.4 412.44,393.9 412.68,394.3 412.91,395.4 413.14,398.7 413.38,400.7 413.61,401.9 413.85,402.6 414.08,402.1 414.31,402.6 414.55,402.5 414.78,402.1 415.01,401.9 415.25,402.1 415.48,403.0 415.71,402.9 415.95,402.1 416.18,402.3 416.41,401.5 416.65,402.5 416.88,403.4 417.11,402.3 417.35,402.7 417.58,402.6 417.81,402.9 418.05,402.7 418.28,403.0 418.51,402.2 418.75,403.1 418.98,403.4 419.21,403.8 419.45,404.4 419.68,402.8 419.91,402.3 420.15,401.9 420.38,402.4 420.61,402.3 420.85,402.1 421.08,403.5 421.31,404.1 421.55,405.0 421.78,405.0 422.01,404.6 422.25,403.9 422.48,403.3 422.71,404.2 422.95,405.2 423.18,404.6 423.41,404.2 423.65,404.7 423.88,405.4 424.11,406.0 424.35,404.3 424.58,404.0 424.81,403.7 425.05,404.1 425.28,404.9 425.52,404.4 425.75,404.0 425.98,405.3 426.22,405.8 426.45,405.1 426.68,403.9 426.92,403.9 427.15,404.7 427.38,403.7 427.62,403.4 427.85,403.2 428.08,404.4 428.32,403.4 428.55,403.2 428.78,403.0 429.02,402.9 429.25,402.9 429.48,403.7 429.72,402.9 429.95,402.3 430.18,397.5 430.42,387.3 430.65,369.3 430.88,355.6 430.90,355.8 431.12,363.8 431.35,377.5 431.58,381.0 431.82,377.4 432.05,381.9 432.28,391.4 432.52,399.8 432.75,403.6 432.98,404.4 433.22,403.6 433.45,404.2 433.68,405.4 433.92,405.3 434.15,404.6 434.38,403.3 434.62,404.3 434.85,405.8 435.08,405.1 435.32,404.5 435.55,405.0 435.78,406.2 436.02,405.6 436.25,404.1 436.48,403.9 436.72,404.7 436.95,405.3 437.19,404.3 437.42,403.9 437.65,403.1 437.89,404.1 438.12,405.2 438.35,405.2 438.59,404.5 438.82,405.3 439.05,404.7 439.29,404.5 439.52,405.3 439.75,404.5 439.99,404.8 440.22,404.8 440.45,405.1 440.69,405.1 440.92,404.6 441.15,404.2 441.39,404.0 441.62,403.6 441.85,405.2 442.09,406.8 442.32,406.6 442.55,406.9 442.79,406.5 443.02,406.5 443.25,406.9 443.49,407.1 443.72,407.0 443.95,406.2 444.19,406.2 444.42,405.6 444.65,406.5 444.89,406.0 445.12,405.5 445.35,405.3 445.59,406.4 445.82,407.2 446.05,407.3 446.29,407.4 446.52,406.8 446.75,407.4 446.99,406.8 447.22,405.7 447.45,406.8 447.69,406.6 447.92,406.8 448.15,406.6 448.39,406.7 448.62,407.5 448.86,407.0 449.09,407.3 449.32,407.6 449.56,407.0 449.79,406.6 450.02,407.2 450.26,407.2 450.49,406.8 450.72,407.3 450.96,407.9 451.19,407.8 451.42,407.9 451.66,407.6 451.89,407.0 452.12,406.8 452.36,406.7 452.59,407.7 452.82,407.2 453.06,407.5 453.29,407.7 453.52,406.4 453.76,405.1 453.99,405.1 454.22,405.7 454.46,406.4 454.69,405.7 454.92,405.3 455.16,404.8 455.39,405.2 455.62,405.2 455.86,405.0 456.09,404.1 456.32,404.2 456.56,403.1 456.79,403.0 457.02,403.0 457.26,403.1 457.49,402.8 457.72,401.4 457.96,402.0 458.19,401.6 458.42,400.8 458.66,400.8 458.89,400.6 459.12,399.2 459.36,397.8 459.59,396.2 459.82,393.3 460.06,390.9 460.29,387.4 460.53,384.0 460.76,381.2 460.99,379.3 461.00,378.5 461.23,378.5 461.46,378.5 461.69,380.6 461.93,383.1 462.16,385.4 462.39,387.6 462.63,390.3 462.86,393.1 463.09,396.0 463.33,398.1 463.56,399.4 463.79,399.5 464.03,400.9 464.26,401.9 464.49,401.8 464.73,401.9 464.96,402.6 465.19,403.3 465.43,403.4 465.66,403.1 465.89,401.9 466.13,402.8 466.36,402.3 466.59,402.5 466.83,401.8 467.06,401.9 467.29,401.4 467.53,401.5 467.76,401.9 467.99,400.1 468.23,399.4 468.46,397.0 468.69,393.5 468.93,390.2 469.16,384.3 469.39,377.6 469.63,371.4 469.86,366.0 470.09,363.6 470.10,362.3 470.33,361.6 470.56,362.8 470.79,366.9 471.03,371.5 471.26,376.3 471.49,381.6 471.73,385.8 471.96,390.2 472.20,394.6 472.43,397.2 472.66,399.7 472.90,401.0 473.13,402.0 473.36,403.4 473.60,404.7 473.83,405.2 474.06,404.7 474.30,403.7 474.53,405.0 474.76,405.8 475.00,405.8 475.23,405.4 475.46,406.1 475.70,405.8 475.93,405.1 476.16,406.6 476.40,407.5 476.63,406.8 476.86,406.4 477.10,407.6 477.33,407.1 477.56,405.6 477.80,406.6 478.03,406.5 478.26,406.1 478.50,404.9 478.73,404.8 478.96,405.8 479.20,406.4 479.43,405.3 479.66,404.5 479.90,403.9 480.13,404.1 480.36,404.7 480.60,404.4 480.83,405.4 481.06,404.6 481.30,403.5 481.53,401.9 481.76,400.0 482.00,398.6 482.23,396.7 482.46,395.5 482.70,393.5 482.93,393.7 483.10,392.0 483.16,390.9 483.40,391.5 483.63,391.9 483.87,392.4 484.10,393.6 484.33,394.5 484.57,396.1 484.80,397.6 485.03,399.1 485.27,399.6 485.50,400.1 485.73,399.3 485.97,401.1 486.20,401.3 486.43,401.6 486.67,401.7 486.90,402.4 487.13,402.2 487.37,402.1 487.60,401.7 487.83,400.6 488.07,399.6 488.30,399.1 488.53,397.6 488.77,395.4 489.00,393.7 489.23,391.2 489.47,389.6 489.60,389.4 489.70,388.9 489.93,388.2 490.17,388.3 490.40,389.4 490.63,390.9 490.87,392.9 491.10,393.1 491.33,397.1 491.57,398.3 491.80,400.5 492.03,401.5 492.27,402.0 492.50,401.5 492.73,402.1 492.97,401.0 493.20,399.5 493.43,396.6 493.67,393.8 493.90,390.1 494.13,386.8 494.37,383.3 494.60,380.2 494.70,379.6 494.83,378.9 495.07,378.4 495.30,379.0 495.54,380.5 495.77,384.8 496.00,388.2 496.24,391.5 496.47,395.0 496.70,397.7 496.94,400.2 497.17,402.4 497.40,403.0 497.64,404.5 497.87,405.4 498.10,405.0 498.34,405.4 498.57,406.7 498.80,407.1 499.04,406.0 499.27,405.5 499.50,404.8 499.74,405.5 499.97,404.8 500.20,404.5 500.44,404.3 500.67,403.5 500.90,403.1 501.14,402.9 501.37,402.2 501.60,401.6 501.84,400.3 502.07,400.7 502.30,401.3 502.54,401.4 502.77,400.7 503.00,399.7 503.24,400.1 503.47,399.8 503.70,400.1 503.94,401.1 504.17,400.8 504.40,400.7 504.64,401.1 504.87,401.5 505.10,401.1 505.34,400.9 505.57,401.0 505.80,400.8 506.04,400.2 506.27,399.2 506.50,399.6 506.74,399.9 506.97,399.7 507.21,401.1 507.44,401.4 507.67,400.3 507.91,398.2 508.14,397.2 508.37,395.1 508.61,391.4 508.84,385.8 509.07,380.6 509.31,373.3 509.54,364.2 509.77,355.6 510.01,346.9 510.20,342.6 510.24,342.1 510.47,338.1 510.71,333.1 510.94,317.2 511.17,285.2 511.41,247.7 511.60,237.4 511.64,239.0 511.87,271.6 512.11,313.0 512.34,333.1 512.57,330.6 512.81,327.8 513.04,343.0 513.27,367.4 513.51,386.2 513.74,395.9 513.97,399.1 514.21,400.7 514.44,401.1 514.67,401.2 514.91,401.1 515.14,401.0 515.37,402.0 515.61,403.0 515.84,403.2 516.07,404.0 516.31,403.1 516.54,403.1 516.77,403.0 517.01,404.1 517.24,403.5 517.47,404.3 517.71,404.9 517.94,406.1 518.17,405.7 518.41,405.2 518.64,405.3 518.88,406.0 519.11,405.1 519.34,404.7 519.58,405.7 519.81,405.6 520.04,405.6 520.28,406.5 520.51,406.8 520.74,406.3 520.98,407.8 521.21,408.5 521.44,407.2 521.68,406.3 521.91,407.1 522.14,407.3 522.38,408.1 522.61,408.5 522.84,408.4 523.08,408.9 523.31,407.4 523.54,407.8 523.78,408.5 524.01,408.7 524.24,408.5 524.48,408.5 524.71,407.4 524.94,407.0 525.18,408.7 525.41,409.1 525.64,408.0 525.88,406.8 526.11,406.6 526.34,407.3 526.58,407.7 526.81,408.7 527.04,409.3 527.28,409.1 527.51,408.5 527.74,408.9 527.98,408.7 528.21,408.5 528.44,408.4 528.68,408.0 528.91,407.6 529.14,408.0 529.38,407.6 529.61,408.0 529.84,408.5 530.08,408.2 530.31,406.9 530.55,407.1 530.78,407.1 531.01,407.6 531.25,407.4 531.48,407.9 531.71,407.6 531.95,407.8 532.18,407.2 532.41,407.3 532.65,407.7 532.88,407.9 533.11,406.9 533.35,407.5 533.58,407.2 533.81,407.6 534.05,406.9 534.28,407.6 534.51,408.7 534.75,408.7 534.98,407.7 535.21,408.6 535.45,407.8 535.68,407.8 535.91,408.0 536.15,407.8 536.38,407.9 536.61,407.9 536.85,408.2 537.08,407.8 537.31,407.3 537.55,406.9 537.78,406.9 538.01,407.5 538.25,408.0 538.48,407.8 538.71,407.5 538.95,407.7 539.18,407.3 539.41,407.6 539.65,407.8 539.88,407.6 540.11,408.4 540.35,408.3 540.58,407.5 540.81,407.8 541.05,407.6 541.28,407.5 541.51,407.4 541.75,407.6 541.98,406.8 542.22,406.3 542.45,406.3 542.68,406.3 542.92,406.5 543.15,405.7 543.38,406.2 543.62,405.6 543.85,406.4 544.08,406.1 544.32,406.2 544.55,406.8 544.78,406.6 545.02,406.5 545.25,405.8 545.48,407.2 545.72,405.7 545.95,406.6 546.18,407.7 546.42,406.7 546.65,407.8 546.88,407.7 547.12,407.0 547.35,406.6 547.58,406.7 547.82,406.9 548.05,407.2 548.28,406.7 548.52,404.9 548.75,405.4 548.98,404.6 549.22,402.9 549.45,402.6 549.68,401.6 549.92,400.2 550.15,398.8 550.30,398.8 550.38,398.8 550.62,397.8 550.85,397.9 551.08,398.6 551.32,399.9 551.55,400.0 551.78,400.1 552.02,400.5 552.25,401.2 552.48,402.7 552.72,403.8 552.95,404.1 553.18,403.1 553.42,402.8 553.65,402.7 553.89,402.6 554.12,402.5 554.35,403.9 554.59,403.6 554.82,402.7 555.05,402.0 555.29,403.9 555.52,404.1 555.75,403.9 555.99,404.0 556.22,403.7 556.45,404.1 556.69,403.9 556.92,404.2 557.15,403.8 557.39,403.0 557.62,403.1 557.85,404.2 558.09,404.1 558.32,403.4 558.55,403.0 558.79,403.3 559.02,403.7 559.25,403.3 559.49,404.1 559.72,403.2 559.95,402.6 560.19,402.7 560.42,400.9 560.65,391.3 560.89,374.0 561.12,357.4 561.20,356.5 561.35,362.0 561.59,380.1 561.82,392.7 562.05,394.2 562.29,387.1 562.52,380.6 562.75,385.4 562.99,394.8 563.22,401.3 563.45,404.4 563.69,404.5 563.92,405.4 564.15,406.2 564.39,405.8 564.62,406.3 564.85,406.3 565.09,405.5 565.32,406.2 565.56,405.6 565.79,405.6 566.02,404.8 566.26,404.7 566.49,405.7 566.72,407.0 566.96,407.5 567.19,406.2 567.42,402.3 567.66,398.0 567.80,396.6 567.89,396.8 568.12,399.8 568.36,403.1 568.59,404.6 568.82,403.5 569.06,401.1 569.29,400.9 569.52,403.6 569.76,407.1 569.99,406.5 570.22,407.4 570.46,407.7 570.69,407.4 570.92,406.8 571.16,407.8 571.39,407.1 571.62,406.2 571.86,406.0 572.09,406.4 572.32,407.1 572.56,405.5 572.79,405.5 573.02,406.1 573.26,406.5 573.49,405.9 573.72,405.9 573.96,406.5 574.19,407.2 574.42,407.0 574.66,406.9 574.89,407.0 575.12,407.0 575.36,407.0 575.59,405.9 575.82,405.7 576.06,405.4 576.29,406.3 576.52,406.7 576.76,406.7 576.99,407.5 577.23,407.3 577.46,407.9 577.69,407.2 577.93,406.8 578.16,406.3 578.39,406.4 578.63,406.5 578.86,405.8 579.09,406.7 579.33,407.2 579.56,406.8 579.79,406.4 580.03,406.3 580.26,405.7 580.49,405.9 580.73,406.7 580.96,406.5 581.19,406.8 581.43,406.3 581.66,406.7 581.89,407.0 582.13,406.5 582.36,407.1 582.59,406.6 582.83,404.9 583.06,406.3 583.29,404.8 583.53,405.6 583.76,403.6 583.99,402.1 584.23,402.2 584.46,403.0 584.69,402.1 584.93,400.7 585.16,397.5 585.39,392.3 585.50,392.3 585.63,393.5 585.86,396.6 586.09,400.4 586.33,402.1 586.56,400.7 586.79,398.3 587.03,397.2 587.26,400.1 587.49,403.0 587.73,404.4 587.96,404.8 588.19,404.0 588.43,403.5 588.66,403.3 588.90,403.0 589.13,402.9 589.36,404.5 589.60,403.7 589.83,403.1 590.06,403.2 590.30,403.8 590.53,403.5 590.76,402.6 591.00,401.8 591.23,398.6 591.46,395.9 591.50,396.1 591.70,398.1 591.93,400.9 592.16,402.4 592.40,402.6 592.63,400.2 592.86,400.0 593.10,399.9 593.33,401.1 593.56,401.8 593.80,401.8 594.00,400.1 594.03,399.9 594.26,400.4 594.50,400.1 594.73,401.4 594.96,402.1 595.20,401.1 595.43,400.8 595.66,398.1 595.90,390.8 596.13,378.5 596.36,367.9 596.40,367.8 596.60,373.9 596.83,387.6 597.06,397.4 597.30,398.2 597.53,392.8 597.76,386.4 598.00,387.9 598.23,396.5 598.46,402.2 598.70,404.3 598.93,404.9 599.16,405.9 599.40,405.1 599.63,405.3 599.86,406.7 600.10,406.2 600.33,405.9 600.57,405.8 600.80,406.1 601.03,405.4 601.27,405.2 601.50,405.0 601.73,405.4 601.97,405.2 602.20,405.9 602.43,406.5 602.67,407.1 602.90,407.2 603.13,406.0 603.37,405.6 603.60,406.1 603.83,405.9 604.07,407.2 604.30,407.0 604.53,405.8 604.77,406.2 605.00,406.4 605.23,405.1 605.47,404.9 605.70,405.3 605.93,406.2 606.17,406.1 606.40,406.0 606.63,406.5 606.87,406.7 607.10,407.0 607.33,407.2 607.57,407.2 607.80,407.4 608.03,407.0 608.27,406.7 608.50,406.5 608.73,405.8 608.97,406.6 609.20,407.7 609.43,407.0 609.67,407.0 609.90,407.0 610.13,406.1 610.37,405.9 610.60,405.9 610.83,404.8 611.07,403.7 611.30,397.7 611.53,384.2 611.77,368.5 611.90,365.1 612.00,366.6 612.24,380.1 612.47,394.6 612.70,399.1 612.94,396.1 613.17,388.7 613.40,384.0 613.64,388.2 613.87,395.8 614.10,401.3 614.34,403.3 614.57,404.0 614.80,403.9 615.04,404.9 615.27,405.9 615.50,405.7 615.74,406.0 615.97,407.1 616.20,405.5 616.44,405.5 616.67,405.5 616.90,406.2 617.14,407.7 617.37,405.8 617.60,405.5 617.84,405.3 618.07,405.3 618.30,406.1 618.54,406.0 618.77,406.9 619.00,407.1 619.24,406.4 619.47,406.9 619.70,405.9 619.94,406.5 620.17,406.8 620.40,405.7 620.64,406.0 620.87,406.3 621.10,406.2 621.34,405.5 621.57,404.0 621.80,400.0 622.00,399.0 622.04,399.3 622.27,399.1 622.50,399.1 622.74,397.1 622.90,397.1 622.97,397.4 623.20,397.4 623.44,399.1 623.67,401.3 623.91,403.8 624.14,402.4 624.37,400.8 624.61,399.5 624.84,399.9 625.00,399.6 625.07,400.1 625.31,402.0 625.54,404.3 625.77,405.3 626.01,405.5 626.24,405.1 626.47,405.0 626.71,404.4 626.94,405.9 627.17,405.9 627.41,404.6 627.64,402.2 627.87,399.2 628.00,398.7 628.11,399.0 628.34,401.0 628.57,401.8 628.81,399.5 629.04,397.0 629.20,395.7 629.27,395.2 629.51,396.9 629.74,400.4 629.97,403.9 630.21,405.0 630.44,403.0 630.67,401.9 630.91,402.6 631.14,404.8 631.37,404.3 631.61,402.4 631.84,401.6 632.00,401.8 632.07,401.3 632.31,403.1 632.54,405.7 632.77,407.3 633.01,406.3 633.24,405.3 633.47,404.7 633.71,404.3 633.94,404.9 634.17,406.5 634.41,407.0 634.64,407.3 634.87,407.3 635.11,407.3 635.34,406.6 635.58,407.0 635.81,406.7 636.04,407.1 636.28,407.1 636.51,407.8 636.74,406.4 636.98,405.6 637.21,406.6 637.44,406.5 637.68,406.2 637.91,406.9 638.14,407.5 638.38,406.4 638.61,405.8 638.84,406.4 639.08,405.8 639.31,404.7 639.54,404.3 639.78,405.0 640.01,404.8 640.24,405.0 640.48,405.3 640.71,406.3 640.94,406.8 641.18,406.2 641.41,406.3 641.64,404.4 641.88,404.4 642.11,403.0 642.34,401.3 642.58,395.6 642.81,388.1 642.90,387.7 643.04,389.7 643.28,395.4 643.51,400.5 643.74,402.2 643.98,401.6 644.21,398.2 644.44,395.5 644.68,397.0 644.91,400.9 645.14,403.4 645.38,404.4 645.61,405.2 645.84,404.6 646.08,404.7 646.31,404.9 646.54,404.7 646.78,405.5 647.01,405.4 647.25,405.1 647.48,404.2 647.71,404.3 647.95,404.7 648.18,404.7 648.41,403.7 648.65,403.5 648.88,403.1 649.11,403.4 649.35,404.7 649.58,404.6 649.81,404.9 650.05,405.1 650.28,404.6 650.51,404.3 650.75,403.6 650.98,403.8 651.21,404.3 651.45,404.7 651.68,404.0 651.91,402.2 652.15,400.0 652.38,395.1 652.61,385.0 652.85,376.4 652.90,376.0 653.08,380.6 653.31,391.3 653.55,399.3 653.78,401.1 654.01,398.5 654.25,393.1 654.48,389.9 654.71,392.8 654.95,397.9 655.18,400.9 655.41,402.0 655.65,403.5 655.88,404.6 656.11,403.4 656.35,403.5 656.58,404.0 656.81,404.3 657.05,403.5 657.28,403.8 657.51,404.0 657.75,403.4 657.98,403.9 658.21,403.5 658.45,404.0 658.68,404.3 658.92,403.9 659.15,403.3 659.38,404.1 659.62,404.3 659.85,404.0 660.08,404.2 660.32,403.6 660.55,403.4 660.78,403.9 661.02,404.4 661.25,404.6 661.48,403.9 661.72,404.1 661.95,403.9 662.18,402.7 662.42,399.5 662.65,394.9 662.88,390.4 663.00,388.3 663.12,388.9 663.35,394.9 663.58,400.7 663.82,403.7 664.05,403.1 664.28,400.5 664.52,397.9 664.75,398.1 664.98,400.6 665.22,402.6 665.45,405.3 665.68,405.6 665.92,404.7 666.15,405.0 666.38,405.2 666.62,404.3 666.85,400.9 667.08,393.6 667.32,383.6 667.50,378.6 667.55,379.3 667.78,387.4 668.02,396.9 668.25,402.9 668.48,403.7 668.72,401.2 668.95,396.4 669.18,393.5 669.42,396.8 669.65,402.2 669.88,405.3 670.12,405.6 670.35,405.9 670.59,406.8 670.82,406.1 671.05,406.6 671.29,407.7 671.52,407.7 671.75,407.8 671.99,407.6 672.22,408.1 672.45,407.5 672.69,407.5 672.92,408.0 673.15,408.2 673.39,409.1 673.62,408.6 673.85,408.2 674.09,409.2 674.32,409.4 674.55,409.3 674.79,408.1 675.02,407.7 675.25,407.3 675.49,408.5 675.72,408.6 675.95,408.6 676.19,409.4 676.42,408.7 676.65,408.5 676.89,408.4 677.12,408.4 677.35,408.9 677.59,408.9 677.82,408.6 678.05,408.0 678.29,407.6 678.52,407.7 678.75,407.8 678.99,407.5 679.22,408.0 679.45,408.3 679.69,408.1 679.92,408.0 680.15,409.0 680.39,410.0 680.62,409.5 680.85,409.0 681.09,408.5 681.32,408.7 681.55,409.2 681.79,408.6 682.02,409.6 682.26,409.1 682.49,408.9 682.72,408.7 682.96,409.1 683.19,408.2 683.42,405.2 683.66,402.1 683.89,398.6 683.90,397.7 684.12,400.7 684.36,404.7 684.59,406.9 684.82,407.7 685.06,406.7 685.29,403.8 685.52,402.2 685.76,402.9 685.99,404.9 686.22,406.0 686.46,407.5 686.69,407.5 686.92,406.0 687.16,398.9 687.39,389.9 687.60,385.8 687.62,385.9 687.86,392.3 688.09,400.8 688.32,404.6 688.56,406.1 688.79,404.9 689.02,400.9 689.26,398.6 689.49,399.2 689.72,403.2 689.96,405.8 690.19,407.3 690.42,407.5 690.66,408.8 690.89,408.6 691.12,409.0 691.36,409.2 691.59,409.1 691.82,408.9 692.06,409.2 692.29,408.1 692.52,407.4 692.76,407.7 692.99,409.0 693.22,409.4 693.46,408.3 693.69,408.3 693.93,408.5 694.16,407.7 694.39,407.7 694.63,407.5 694.86,407.8 695.09,406.7 695.33,407.2 695.56,407.6 695.79,408.7 696.03,409.3 696.26,409.4 696.49,410.2 696.73,409.2 696.96,408.4 697.19,408.6 697.43,409.1 697.66,409.2 697.89,409.8 698.13,408.8 698.36,408.0 698.59,408.1 698.83,408.8 699.06,407.6 699.29,408.9 699.53,409.4 699.76,408.7 699.99,408.8 700.23,409.3 700.46,409.4 700.69,409.4 700.93,409.2 701.16,408.4 701.39,407.5 701.63,407.3 701.86,409.2 702.09,409.1 702.33,408.0 702.56,408.9 702.79,408.4 703.03,408.1 703.26,408.1 703.49,409.4 703.73,407.9 703.96,407.7 704.19,408.7 704.43,408.8 704.66,408.1 704.89,406.7 705.13,405.7 705.36,404.1 705.60,403.7 705.60,404.8 705.83,405.2 706.06,406.4 706.30,406.5 706.53,407.0 706.76,407.6 707.00,407.6 707.23,406.5 707.46,407.2 707.70,407.9 707.93,406.3 708.16,407.0 708.40,407.5 708.63,407.3 708.86,407.8 709.10,407.1 709.33,406.6 709.56,405.8 709.80,406.8 710.03,406.6 710.26,406.9 710.50,406.7 710.73,406.6 710.96,406.7 711.20,406.4 711.43,407.0 711.66,408.0 711.90,407.8 712.13,407.0 712.36,407.5 712.60,407.0 712.83,406.6 713.06,407.1 713.30,407.1 713.53,406.7 713.76,407.3 714.00,406.8 714.23,405.3 714.46,399.3 714.70,394.7 714.80,394.0 714.93,394.7 715.16,399.7 715.40,405.0 715.63,406.3 715.86,405.5 716.10,404.7 716.33,402.7 716.56,401.2 716.80,402.1 717.03,405.9 717.27,407.6 717.50,408.9 717.73,408.6 717.97,408.1 718.20,408.2 718.43,408.8 718.67,409.0 718.90,409.3 719.13,409.8 719.37,410.0 719.60,408.8 719.83,408.3 720.07,409.0 720.30,410.1 720.53,409.6 720.77,409.3 721.00,409.9 721.23,410.0 721.47,409.0 721.70,409.0 721.93,409.7 722.17,409.8 722.40,410.0 722.63,411.6 722.87,411.3 723.10,410.6 723.33,410.6 723.57,410.1 723.80,410.9 724.03,410.5 724.27,410.1 724.50,410.0 724.73,411.0 724.97,410.8 725.20,410.6 725.43,411.3 725.67,410.9 725.90,411.0 726.13,410.9 726.37,411.2 726.60,410.6 726.83,410.9 727.07,411.1 727.30,410.6 727.53,410.7 727.77,411.2 728.00,410.9 728.23,411.7 728.47,411.8 728.70,411.5 728.94,411.2 729.17,412.8 729.40,413.1 729.64,412.4 729.87,412.1 730.10,411.9 730.34,411.6 730.57,411.7 730.80,411.7 731.04,410.9 731.27,411.4 731.50,411.5 731.74,410.4 731.97,410.4 732.20,409.9 732.44,410.0 732.67,410.9 732.90,410.8 733.14,412.4 733.37,411.2 733.60,410.5 733.84,410.6 734.07,410.8 734.30,410.9 734.54,410.8 734.77,410.9 735.00,411.3 735.24,411.2 735.47,410.4 735.70,409.9 735.94,408.8 736.17,408.3 736.40,408.5 736.64,409.5 736.87,409.2 737.10,409.8 737.34,410.3 737.57,410.6 737.80,410.0 738.04,410.1 738.27,410.8 738.50,410.4 738.74,410.1 738.97,410.7 739.20,410.2 739.44,409.9 739.67,410.7 739.90,411.0 740.14,409.8 740.37,409.0 740.61,408.7 740.84,410.5 741.07,409.7 741.31,409.4 741.54,409.1 741.77,409.3 742.01,409.2 742.24,410.2 742.47,409.7 742.71,408.5 742.94,407.8 743.17,407.8 743.41,406.3 743.64,405.5 743.87,404.2 743.90,403.8 744.11,404.2 744.34,406.5 744.57,407.7 744.81,409.1 745.04,407.9 745.27,408.3 745.51,408.7 745.74,406.9 745.97,407.2 746.21,408.0 746.44,408.1 746.67,408.2 746.91,409.2 747.14,409.5 747.37,409.3 747.61,410.4 747.84,410.2 748.07,409.1 748.31,409.6 748.54,409.7 748.77,409.3 749.01,408.6 749.24,408.4 749.47,409.1 749.71,408.3 749.94,408.5 750.17,408.1 750.41,408.8 750.64,409.2 750.87,408.7 751.11,409.7 751.34,410.0 751.57,409.7 751.81,409.8 752.04,410.0 752.28,409.3 752.51,408.0 752.74,408.5 752.98,408.5 753.21,408.7 753.44,408.1 753.68,408.7 753.91,408.8 754.14,409.0 754.38,408.3 754.61,408.0 754.84,407.0 755.08,407.1 755.31,406.1 755.54,404.1 755.78,403.6 755.80,403.2 756.01,404.5 756.24,405.6 756.48,407.2 756.71,409.0 756.94,409.0 757.18,409.2 757.41,408.3 757.64,407.3 757.88,407.8 758.11,407.6 758.34,407.7 758.58,407.7 758.81,407.8 759.04,408.8 759.28,408.8 759.51,409.1 759.74,409.0 759.98,409.2 760.21,408.8 760.44,409.3 760.68,409.9 760.91,410.0 761.14,409.2 761.38,408.9 761.61,410.1 761.84,410.0 762.08,409.1 762.31,409.7 762.54,409.2 762.78,408.2 763.01,408.2 763.24,407.6 763.48,408.0 763.71,408.4 763.95,409.1 764.18,409.8 764.41,408.6 764.65,408.1 764.88,409.9 765.11,410.1 765.35,410.8 765.58,411.0 765.81,411.0 766.05,409.6 766.28,410.9 766.51,410.4 766.75,410.2 766.98,411.1 767.21,410.8 767.45,409.5 767.68,409.9 767.91,410.9 768.15,409.9 768.38,410.4 768.61,410.6 768.85,410.0 769.08,409.8 769.31,410.4 769.55,410.0 769.78,409.9 770.01,410.7 770.25,410.1 770.48,410.7 770.71,411.2 770.95,410.8 771.18,412.0 771.41,411.8 771.65,411.3 771.88,410.9 772.11,411.2 772.35,411.0 772.58,411.0 772.81,410.6 773.05,410.8 773.28,410.2 773.51,410.2 773.75,410.6 773.98,410.0 774.21,410.5 774.45,410.1 774.68,409.1 774.91,409.8 775.15,410.3 775.38,410.9 775.62,412.1 775.85,411.6 776.08,411.5 776.32,411.1 776.55,411.0 776.78,411.1 777.02,410.9 777.25,410.8 777.48,411.0 777.72,410.4 777.95,410.5 778.18,411.4 778.42,410.9 778.65,410.8 778.88,410.4 779.12,409.6 779.35,409.8 779.58,409.4 779.82,409.4 780.05,409.9 780.28,410.5 780.52,410.7 780.75,409.7 780.98,410.8 781.22,409.5 781.45,409.7 781.68,410.7 781.92,410.5 782.15,410.6 782.38,409.7 782.62,410.1 782.85,410.3 783.08,409.6 783.32,409.5 783.55,410.0 783.78,409.9 784.02,408.6 784.25,409.5 784.48,410.2 784.72,410.6 784.95,409.4 785.18,409.5 785.42,408.9 785.65,408.7 785.88,409.0 786.12,410.0 786.35,409.5 786.58,409.3 786.82,408.8 787.05,409.2 787.29,408.9 787.52,409.0 787.75,408.2 787.99,408.6 788.22,410.0 788.45,411.1 788.69,410.9 788.92,409.3 789.15,409.2 789.39,409.5 789.62,410.4 789.85,408.9 790.09,409.0 790.32,409.8 790.55,409.8 790.79,409.5 791.02,410.9 791.25,409.7 791.49,410.6 791.72,410.5 791.95,410.1 792.19,410.7 792.42,411.0 792.65,410.8 792.89,411.3 793.12,411.8 793.35,411.9 793.59,410.9 793.82,411.7 794.05,412.5 794.29,413.1 794.52,412.9 794.75,411.4 794.99,411.9 795.22,412.5 795.45,413.1 795.69,413.3 795.92,412.0 796.15,411.0 796.39,411.3 796.62,411.0 796.85,410.2 797.09,409.9 797.32,410.4 797.55,409.8 797.79,410.2 798.02,410.9 798.25,411.0 798.49,410.8 798.72,409.7 798.96,408.4 799.19,409.6 799.42,410.6 799.66,410.9 799.89,411.0 800.12,410.5 800.36,410.6 800.59,409.9 800.82,410.1 801.06,410.6 801.29,409.1 801.52,408.9 801.76,409.6 801.99,408.9 802.22,407.5 802.46,408.1 802.69,406.9 802.92,406.6 803.16,407.4 803.39,407.1 803.62,406.7 803.86,406.3 804.00,405.2 804.09,403.5 804.32,405.0 804.56,405.9 804.79,406.0 805.02,406.6 805.26,407.4 805.49,407.8 805.72,407.5 805.96,407.0 806.19,406.5 806.42,407.1 806.66,407.1 806.89,407.6 807.12,407.0 807.36,407.0 807.59,407.0 807.82,407.9 808.06,408.5 808.29,408.1 808.52,409.1 808.76,408.8 808.99,408.6 809.22,409.0 809.46,408.6 809.69,407.7 809.92,409.0 810.16,409.2 810.39,408.4 810.63,406.5 810.86,406.0 811.09,407.4 811.33,409.1 811.56,409.4 811.79,409.0 812.03,408.6 812.26,407.8 812.49,408.7 812.73,408.7 812.96,408.9 813.19,408.7 813.43,409.3 813.66,408.9 813.89,409.0 814.13,408.9 814.36,408.6 814.59,408.3 814.83,408.6 815.06,409.1 815.29,410.0 815.53,411.0 815.76,410.3 815.99,409.9 816.23,410.1 816.46,409.3 816.69,409.8 816.93,409.6 817.16,408.4 817.39,409.2 817.63,409.0 817.86,409.0 818.09,409.0 818.33,409.0 818.56,408.6 818.79,409.3 819.03,409.1 819.26,407.8 819.49,407.9 819.73,407.8 819.96,408.4 820.19,407.9 820.43,408.4 820.66,408.5 820.89,408.4 821.13,409.6 821.36,409.4 821.59,408.6 821.83,409.5 822.06,409.5 822.30,408.2 822.53,408.6 822.76,408.8 823.00,408.7 823.23,408.5 823.46,407.7 823.70,406.7 823.93,406.9 824.16,406.4 824.40,407.0 824.63,408.5 824.86,409.8 825.10,409.9 825.33,409.0 825.56,409.4 825.80,410.4 826.03,410.3 826.26,410.2 826.50,409.5 826.73,410.2 826.96,410.5 827.20,411.0 827.43,411.0 827.66,409.9 827.90,410.5 828.13,409.9 828.36,410.1 828.60,410.8 828.83,410.5 829.06,410.9 829.30,411.8 829.53,412.2 829.76,411.3 830.00,410.3 830.23,410.7 830.46,410.5 830.70,410.7 830.93,411.1 831.16,410.9 831.40,410.9 831.63,410.9 831.86,410.6 832.10,409.8 832.33,410.5 832.56,411.1 832.80,412.1 833.03,412.0 833.26,411.5 833.50,411.2 833.73,411.5 833.97,411.0 834.20,411.8 834.43,411.3 834.67,411.5 834.90,412.4 835.13,412.0 835.37,411.6 835.60,411.3 835.83,412.1 836.07,410.7 836.30,411.9 836.53,412.3 836.77,412.3 837.00,411.6 837.23,411.5 837.47,412.7 837.70,412.1 837.93,411.4 838.17,410.0 838.40,411.1 838.63,411.9 838.87,411.7 839.10,410.7 839.33,410.8 839.57,410.7 839.80,412.4 840.03,413.1 840.27,412.7 840.50,412.0 840.73,411.8 840.97,412.3 841.20,411.8 841.43,413.0 841.67,412.8 841.90,413.1 842.13,412.7 842.37,412.6 842.60,413.0 842.83,412.5 843.07,412.8 843.30,412.9 843.53,412.6 843.77,413.1 844.00,412.3 844.23,411.9 844.47,412.7 844.70,413.1 844.93,413.1 845.17,413.3 845.40,413.5 845.64,413.6 845.87,413.5 846.10,413.3 846.34,412.7 846.57,413.8 846.80,414.2 847.04,413.4 847.27,413.2 847.50,413.9 847.74,413.5 847.97,413.8 848.20,414.3 848.44,415.0 848.67,415.8 848.90,413.7 849.14,412.0 849.37,413.4 849.60,413.5 849.84,414.2 850.07,414.3 850.30,414.4 850.54,414.0 850.77,414.1 851.00,413.5 851.24,413.5 851.47,412.4 851.70,412.2 851.94,412.8 852.17,413.2 852.40,412.7 852.64,413.4 852.87,414.0 853.10,414.0 853.34,413.3 853.57,414.3 853.80,413.3 854.04,413.2 854.27,413.4 854.50,412.0 854.74,411.7 854.97,413.3 855.20,412.7 855.44,413.3 855.67,413.5 855.90,414.8 856.14,414.6 856.37,415.0 856.60,414.3 856.84,413.6 857.07,413.9 857.31,413.0 857.54,413.2 857.77,414.1 858.01,414.1 858.24,413.3 858.47,413.6 858.71,413.5 858.94,413.3 859.17,414.2 859.41,413.3 859.64,413.6 859.87,413.8 860.11,413.5 860.34,412.1 860.57,413.4 860.81,413.7 861.04,414.3 861.27,413.2 861.51,414.1 861.74,413.9 861.97,413.2 862.21,413.8 862.44,414.0"/>
<polyline fill="none" stroke="#800080" stroke-width="1.1" stroke-linejoin="round" points="138.90,347.9 139.13,348.4 139.37,348.3 139.60,348.1 139.83,348.6 140.07,348.7 140.30,347.8 140.53,348.1 140.77,348.1 141.00,348.3 141.23,348.0 141.47,348.6 141.70,348.7 141.93,348.5 142.17,348.2 142.40,348.4 142.63,348.2 142.87,348.2 143.10,348.8 143.33,348.7 143.57,349.6 143.80,349.3 144.03,348.3 144.27,348.9 144.50,348.7 144.73,349.1 144.97,349.0 145.20,348.2 145.44,348.6 145.67,348.8 145.90,349.0 146.14,348.2 146.37,348.5 146.60,347.8 146.84,347.7 147.07,347.6 147.30,348.4 147.54,348.2 147.77,348.5 148.00,347.6 148.24,347.4 148.47,346.9 148.70,345.7 148.94,344.9 149.17,343.8 149.40,340.8 149.64,337.7 149.87,333.9 150.10,330.0 150.34,325.8 150.57,323.2 150.70,322.7 150.80,322.5 151.04,323.6 151.27,327.2 151.50,330.6 151.74,334.7 151.97,338.9 152.20,343.1 152.44,345.2 152.67,346.6 152.90,347.9 153.14,349.3 153.37,349.3 153.60,349.6 153.84,350.6 154.07,350.3 154.30,350.7 154.54,351.1 154.77,351.1 155.00,351.6 155.24,352.2 155.47,351.6 155.70,351.1 155.94,351.1 156.17,351.9 156.40,352.2 156.64,352.5 156.87,352.4 157.11,352.3 157.34,352.3 157.57,352.4 157.81,352.7 158.04,352.6 158.27,353.0 158.51,353.7 158.74,353.0 158.97,352.3 159.21,353.5 159.44,353.1 159.67,352.5 159.91,353.1 160.14,352.9 160.37,352.5 160.61,352.4 160.84,352.3 161.07,352.9 161.31,353.3 161.54,352.9 161.77,353.2 162.01,353.7 162.24,352.6 162.47,352.8 162.71,352.6 162.94,352.2 163.17,352.3 163.41,352.8 163.64,353.0 163.87,352.7 164.11,353.0 164.34,353.3 164.57,353.2 164.81,353.4 165.04,353.3 165.27,353.4 165.51,353.9 165.74,353.5 165.97,353.1 166.21,353.2 166.44,352.5 166.67,352.8 166.91,353.4 167.14,353.5 167.37,353.8 167.61,353.0 167.84,352.5 168.07,353.8 168.31,353.6 168.54,352.8 168.78,353.5 169.01,352.9 169.24,352.1 169.48,352.5 169.71,352.9 169.94,353.6 170.18,352.7 170.41,352.7 170.64,352.7 170.88,352.6 171.11,352.4 171.34,353.0 171.58,353.4 171.81,353.1 172.04,352.3 172.28,352.1 172.51,352.6 172.74,352.3 172.98,352.1 173.21,352.0 173.44,353.5 173.68,353.2 173.91,352.4 174.14,353.0 174.38,353.0 174.61,351.5 174.84,351.9 175.08,352.3 175.31,352.7 175.54,352.4 175.78,352.3 176.01,352.5 176.24,353.5 176.48,353.5 176.71,352.2 176.94,352.1 177.18,353.3 177.41,352.0 177.64,351.8 177.88,352.2 178.11,352.5 178.34,352.7 178.58,352.3 178.81,351.8 179.04,352.2 179.28,352.5 179.51,352.9 179.74,352.1 179.98,351.2 180.21,351.5 180.45,352.5 180.68,351.8 180.91,351.0 181.15,351.6 181.38,352.3 181.61,352.7 181.85,352.0 182.08,352.6 182.31,352.7 182.55,352.1 182.78,352.4 183.01,353.5 183.25,353.6 183.48,353.2 183.71,352.9 183.95,353.1 184.18,352.7 184.41,352.5 184.65,352.3 184.88,352.6 185.11,353.0 185.35,354.1 185.58,353.2 185.81,353.6 186.05,353.6 186.28,353.1 186.51,353.2 186.75,352.1 186.98,352.9 187.21,353.2 187.45,351.9 187.68,352.4 187.91,353.5 188.15,353.1 188.38,352.7 188.61,352.9 188.85,353.1 189.08,353.7 189.31,353.6 189.55,353.3 189.78,353.1 190.01,353.5 190.25,354.1 190.48,353.9 190.71,353.8 190.95,353.3 191.18,352.7 191.41,353.0 191.65,353.6 191.88,353.4 192.12,352.8 192.35,352.5 192.58,353.2 192.82,353.2 193.05,353.1 193.28,353.2 193.52,353.4 193.75,353.6 193.98,353.9 194.22,354.0 194.45,354.1 194.68,353.8 194.92,353.2 195.15,353.2 195.38,353.4 195.62,353.2 195.85,353.6 196.08,353.7 196.32,352.7 196.55,352.4 196.78,353.5 197.02,353.4 197.25,353.3 197.48,352.8 197.72,353.8 197.95,353.6 198.18,353.1 198.42,352.9 198.65,353.0 198.88,352.9 199.12,352.7 199.35,352.6 199.58,353.5 199.82,353.1 200.05,353.0 200.28,352.8 200.52,352.0 200.75,353.0 200.98,352.9 201.22,352.9 201.45,352.9 201.68,352.7 201.92,353.3 202.15,352.8 202.38,352.5 202.62,352.6 202.85,353.2 203.08,353.4 203.32,352.8 203.55,352.5 203.79,353.4 204.02,352.9 204.25,353.6 204.49,353.2 204.72,352.8 204.95,352.9 205.19,353.5 205.42,353.7 205.65,353.4 205.89,353.9 206.12,354.4 206.35,353.3 206.59,352.6 206.82,352.5 207.05,352.5 207.29,352.8 207.52,352.8 207.75,352.7 207.99,353.2 208.22,352.1 208.45,352.7 208.69,354.3 208.92,354.2 209.15,353.9 209.39,353.9 209.62,354.4 209.85,353.9 210.09,353.4 210.32,352.8 210.55,353.0 210.79,352.8 211.02,352.7 211.25,352.7 211.49,352.9 211.72,352.9 211.95,353.1 212.19,352.3 212.42,352.7 212.65,353.5 212.89,353.0 213.12,353.2 213.35,353.3 213.59,353.2 213.82,352.7 214.05,351.6 214.29,351.8 214.52,351.7 214.75,351.2 214.99,351.4 215.22,350.9 215.46,350.6 215.69,351.2 215.92,351.1 216.16,350.5 216.39,350.1 216.62,350.1 216.86,350.0 217.09,349.9 217.32,349.9 217.56,350.5 217.79,351.6 218.02,352.4 218.26,352.9 218.49,353.1 218.72,353.8 218.96,354.9 219.19,354.9 219.42,354.7 219.66,353.6 219.89,353.7 220.12,355.2 220.36,355.8 220.59,356.3 220.82,356.1 221.06,355.8 221.29,355.6 221.52,355.2 221.76,356.1 221.99,355.8 222.22,356.2 222.46,356.3 222.69,356.5 222.92,356.4 223.16,355.5 223.39,355.0 223.62,354.5 223.86,354.5 224.09,354.9 224.32,354.0 224.56,354.1 224.79,353.6 225.02,353.1 225.26,352.4 225.49,351.1 225.72,350.9 225.96,350.4 226.19,348.5 226.42,347.1 226.66,344.9 226.89,342.4 227.13,338.9 227.36,336.3 227.59,332.4 227.83,329.8 227.90,330.8 228.06,330.5 228.29,331.5 228.53,334.1 228.76,337.3 228.99,341.3 229.23,345.6 229.46,349.0 229.69,351.5 229.93,353.0 230.16,354.0 230.39,355.3 230.63,356.7 230.86,357.4 231.09,357.1 231.33,357.5 231.56,358.6 231.79,359.0 232.03,359.0 232.26,358.1 232.49,358.3 232.73,358.4 232.96,358.5 233.19,358.0 233.43,359.0 233.66,358.9 233.89,358.6 234.13,357.9 234.36,358.4 234.59,358.8 234.83,357.7 235.06,358.3 235.29,358.5 235.53,358.0 235.76,358.3 235.99,358.1 236.23,358.6 236.46,358.3 236.69,358.3 236.93,358.9 237.16,358.5 237.39,358.3 237.63,357.1 237.86,357.2 238.09,357.9 238.33,358.0 238.56,357.6 238.80,357.6 239.03,356.9 239.26,357.1 239.50,356.7 239.73,357.1 239.96,356.8 240.20,356.6 240.43,357.1 240.66,357.6 240.90,356.5 241.13,356.5 241.36,357.1 241.60,356.8 241.83,357.4 242.06,356.8 242.30,356.6 242.53,356.8 242.76,357.3 243.00,356.8 243.23,356.6 243.46,356.1 243.70,355.3 243.93,355.6 244.16,356.7 244.40,356.5 244.63,356.3 244.86,356.1 245.10,355.6 245.33,355.7 245.56,355.3 245.80,355.5 246.03,355.2 246.26,355.3 246.50,355.5 246.73,355.3 246.96,355.6 247.20,355.5 247.43,355.5 247.66,355.6 247.90,354.3 248.13,354.1 248.36,355.1 248.60,355.6 248.83,355.9 249.06,355.4 249.30,355.0 249.53,354.3 249.76,354.8 250.00,354.7 250.23,353.8 250.47,353.7 250.70,354.1 250.93,353.9 251.17,352.7 251.40,353.7 251.63,354.1 251.87,354.0 252.10,354.2 252.33,354.2 252.57,353.6 252.80,354.1 253.03,353.8 253.27,353.5 253.50,354.1 253.73,354.4 253.97,353.0 254.20,352.4 254.43,352.4 254.67,353.0 254.90,350.9 255.13,348.1 255.37,344.0 255.60,339.4 255.83,335.0 256.00,334.1 256.07,333.7 256.30,333.2 256.53,336.1 256.77,340.5 257.00,345.1 257.23,348.8 257.47,351.8 257.70,353.5 257.93,354.2 258.17,354.5 258.40,353.6 258.63,353.7 258.87,354.4 259.10,354.0 259.33,353.4 259.57,352.2 259.80,352.2 260.03,353.1 260.27,353.0 260.50,352.4 260.73,351.8 260.97,351.2 261.20,351.8 261.43,352.0 261.67,351.7 261.90,350.2 262.14,348.5 262.37,346.1 262.60,343.3 262.84,338.0 263.07,330.2 263.30,323.7 263.50,320.0 263.54,319.1 263.77,318.4 264.00,323.0 264.24,329.4 264.47,335.2 264.70,340.7 264.94,344.2 265.17,348.7 265.40,350.3 265.64,350.8 265.87,351.0 266.10,351.1 266.34,351.5 266.57,351.6 266.80,351.6 267.04,351.8 267.27,352.1 267.50,352.5 267.74,351.4 267.97,351.8 268.20,351.5 268.44,351.0 268.67,350.7 268.90,351.8 269.14,351.4 269.37,351.4 269.60,351.8 269.84,351.4 270.07,351.8 270.30,352.0 270.54,352.4 270.77,352.4 271.00,351.8 271.24,352.4 271.47,352.1 271.70,352.1 271.94,352.1 272.17,352.4 272.40,351.7 272.64,352.3 272.87,352.8 273.10,352.5 273.34,353.1 273.57,352.2 273.81,352.3 274.04,352.1 274.27,351.9 274.51,351.8 274.74,352.1 274.97,352.3 275.21,352.2 275.44,353.0 275.67,353.2 275.91,352.2 276.14,352.9 276.37,352.9 276.61,353.1 276.84,354.0 277.07,353.6 277.31,353.1 277.54,352.7 277.77,351.9 278.01,352.9 278.24,352.6 278.47,352.9 278.71,353.1 278.94,353.7 279.17,354.2 279.41,353.8 279.64,353.7 279.87,353.1 280.11,353.3 280.34,353.3 280.57,352.7 280.81,353.8 281.04,352.8 281.27,352.6 281.51,353.9 281.74,354.2 281.97,352.9 282.21,353.1 282.44,354.5 282.67,353.3 282.91,352.1 283.14,352.8 283.37,354.0 283.61,353.7 283.84,353.7 284.07,353.9 284.31,353.5 284.54,352.8 284.77,352.4 285.01,353.0 285.24,352.6 285.48,353.2 285.71,354.0 285.94,353.6 286.18,353.2 286.41,353.3 286.64,353.6 286.88,353.5 287.11,352.6 287.34,353.3 287.58,354.0 287.81,353.6 288.04,352.8 288.28,352.5 288.51,352.0 288.74,352.7 288.98,353.8 289.21,353.2 289.44,352.7 289.68,352.7 289.91,353.0 290.14,353.0 290.38,352.8 290.61,352.7 290.84,353.4 291.08,353.8 291.31,352.9 291.54,352.8 291.78,353.3 292.01,352.3 292.24,352.3 292.48,352.3 292.71,352.1 292.94,351.1 293.18,349.7 293.41,348.6 293.64,346.8 293.70,346.2 293.88,346.2 294.11,347.6 294.34,348.0 294.58,349.9 294.81,351.4 295.04,352.2 295.28,352.3 295.51,352.3 295.74,352.6 295.98,352.3 296.21,352.3 296.44,353.1 296.68,352.8 296.91,353.6 297.15,353.2 297.38,352.7 297.61,353.1 297.85,353.3 298.08,352.2 298.31,352.0 298.55,352.0 298.78,352.5 299.01,352.5 299.25,352.2 299.48,351.6 299.71,351.7 299.95,352.4 300.18,352.3 300.41,351.5 300.65,350.8 300.88,351.3 301.11,351.3 301.35,351.2 301.58,351.7 301.81,351.0 302.05,349.9 302.28,349.9 302.51,350.7 302.75,350.3 302.98,350.2 303.21,349.6 303.45,349.1 303.68,349.5 303.91,349.9 304.15,349.0 304.38,347.9 304.61,347.7 304.85,347.2 305.08,346.8 305.31,346.6 305.55,346.0 305.78,344.3 306.01,342.9 306.25,342.4 306.40,342.0 306.48,341.8 306.71,341.8 306.95,341.9 307.18,342.1 307.41,343.3 307.65,343.8 307.88,344.3 308.11,345.7 308.35,346.9 308.58,348.7 308.82,349.2 309.05,349.6 309.28,349.9 309.52,350.8 309.75,351.9 309.98,352.1 310.22,352.8 310.45,352.4 310.68,353.8 310.92,354.8 311.15,354.9 311.38,354.8 311.62,355.1 311.85,354.3 312.08,354.2 312.32,354.9 312.55,355.5 312.78,355.2 313.02,354.9 313.25,355.1 313.48,355.1 313.72,354.2 313.95,353.5 314.18,354.1 314.42,354.3 314.65,354.6 314.88,354.5 315.12,354.8 315.35,355.4 315.58,355.4 315.82,355.6 316.05,356.1 316.28,355.4 316.52,355.4 316.75,355.9 316.98,355.0 317.22,354.8 317.45,356.1 317.68,356.0 317.92,356.1 318.15,356.2 318.38,356.2 318.62,355.6 318.85,355.6 319.08,355.3 319.32,355.8 319.55,356.0 319.78,355.8 320.02,356.5 320.25,357.3 320.49,355.8 320.72,356.3 320.95,356.6 321.19,356.4 321.42,355.8 321.65,356.4 321.89,356.3 322.12,355.8 322.35,355.7 322.59,356.0 322.82,356.4 323.05,356.6 323.29,356.9 323.52,356.0 323.75,356.0 323.99,355.7 324.22,356.1 324.45,355.8 324.69,355.3 324.92,354.9 325.15,355.2 325.39,355.9 325.62,356.5 325.85,356.1 326.09,355.2 326.32,355.4 326.55,355.7 326.79,355.7 327.02,355.9 327.25,356.2 327.49,355.9 327.72,355.2 327.95,354.7 328.19,355.2 328.42,354.9 328.65,355.5 328.89,355.7 329.12,355.1 329.35,355.4 329.59,355.6 329.82,356.1 330.05,354.7 330.29,352.5 330.52,351.6 330.75,349.9 330.99,348.2 331.00,348.1 331.22,348.5 331.45,349.4 331.69,350.3 331.92,351.2 332.16,352.8 332.39,353.4 332.62,354.2 332.86,355.1 333.09,355.3 333.32,356.0 333.56,357.3 333.79,356.6 334.02,355.6 334.26,355.0 334.49,355.5 334.72,355.3 334.96,355.2 335.19,356.4 335.42,356.2 335.66,356.9 335.89,357.9 336.12,356.9 336.36,356.5 336.59,356.5 336.82,356.2 337.06,355.9 337.29,356.3 337.52,356.8 337.76,356.2 337.99,355.5 338.22,355.5 338.46,355.7 338.69,356.3 338.92,356.7 339.16,356.8 339.39,357.0 339.62,356.5 339.86,356.8 340.09,356.5 340.32,355.9 340.56,354.7 340.79,355.0 341.02,353.7 341.26,353.3 341.49,353.7 341.72,353.1 341.96,353.4 342.19,352.3 342.42,351.2 342.66,351.1 342.89,350.7 343.12,351.1 343.36,350.8 343.59,349.8 343.83,349.8 344.06,350.5 344.29,351.3 344.53,351.1 344.76,351.6 344.99,352.9 345.23,353.5 345.46,353.6 345.69,353.8 345.93,353.9 346.16,355.2 346.39,354.8 346.63,354.1 346.86,354.2 347.09,354.7 347.33,355.8 347.56,355.4 347.79,354.8 348.03,356.0 348.26,355.8 348.49,354.5 348.73,353.9 348.96,355.2 349.19,354.9 349.43,354.7 349.66,354.6 349.89,355.1 350.13,354.7 350.36,353.3 350.59,351.5 350.83,349.9 351.06,348.0 351.29,345.4 351.53,344.9 351.60,344.3 351.76,344.1 351.99,344.5 352.23,345.9 352.46,347.8 352.69,349.8 352.93,350.5 353.16,351.7 353.39,353.3 353.63,354.2 353.86,355.3 354.09,355.2 354.33,355.8 354.56,356.5 354.79,356.7 355.03,356.6 355.26,357.1 355.50,356.9 355.73,355.8 355.96,356.5 356.20,356.6 356.43,356.4 356.66,356.3 356.90,356.6 357.13,356.8 357.36,356.9 357.60,357.4 357.83,357.1 358.06,356.3 358.30,356.1 358.53,356.7 358.76,356.2 359.00,356.4 359.23,356.7 359.46,356.9 359.70,356.8 359.93,356.9 360.16,356.2 360.40,356.3 360.63,355.9 360.86,356.1 361.10,356.0 361.33,355.3 361.56,354.7 361.80,356.1 362.03,356.2 362.26,355.9 362.50,355.6 362.73,355.8 362.96,356.2 363.20,356.2 363.43,356.6 363.66,356.1 363.90,355.6 364.13,355.8 364.36,355.1 364.60,354.5 364.83,352.9 365.06,352.2 365.30,351.1 365.53,349.2 365.76,348.4 365.80,348.6 366.00,348.4 366.23,349.4 366.46,349.5 366.70,350.6 366.93,351.8 367.17,352.4 367.40,353.7 367.63,355.5 367.87,356.2 368.10,357.1 368.33,356.9 368.57,357.0 368.80,357.6 369.03,357.6 369.27,357.9 369.50,357.0 369.73,357.4 369.97,357.6 370.20,357.7 370.43,357.9 370.67,357.8 370.90,357.2 371.13,357.0 371.37,357.5 371.60,357.4 371.83,357.7 372.07,357.9 372.30,357.2 372.53,356.6 372.77,356.9 373.00,357.3 373.23,357.1 373.47,357.5 373.70,357.1 373.93,356.9 374.17,356.6 374.40,356.9 374.63,357.4 374.87,356.8 375.10,356.6 375.33,356.5 375.57,356.9 375.80,356.1 376.03,356.4 376.27,357.2 376.50,357.5 376.73,356.9 376.97,356.9 377.20,355.9 377.43,356.8 377.67,356.7 377.90,355.8 378.13,355.5 378.37,356.1 378.60,357.0 378.84,357.5 379.07,357.8 379.30,358.5 379.54,358.7 379.77,358.2 380.00,358.8 380.24,359.4 380.47,360.3 380.70,360.3 380.94,360.7 381.17,360.7 381.40,361.4 381.64,360.5 381.87,360.3 382.10,360.2 382.34,360.6 382.57,361.4 382.80,360.2 383.04,359.8 383.27,360.1 383.50,360.4 383.74,359.9 383.97,360.5 384.20,360.3 384.44,359.5 384.67,359.0 384.90,358.5 385.14,358.3 385.37,358.0 385.60,358.7 385.84,358.6 386.07,357.4 386.30,356.8 386.54,355.8 386.77,356.1 387.00,356.3 387.24,356.1 387.47,355.8 387.70,355.7 387.94,355.1 388.17,354.7 388.40,354.8 388.64,353.2 388.87,353.3 389.10,353.9 389.34,354.2 389.57,354.5 389.80,355.0 390.04,355.2 390.27,355.8 390.51,356.4 390.74,356.5 390.97,356.7 391.21,356.4 391.44,356.6 391.67,357.4 391.91,358.2 392.14,358.4 392.37,358.7 392.61,358.8 392.84,358.6 393.07,358.0 393.31,358.8 393.54,359.0 393.77,359.4 394.01,358.8 394.24,358.5 394.47,358.2 394.71,358.0 394.94,357.1 395.17,357.1 395.41,356.9 395.64,356.3 395.87,354.7 396.11,353.8 396.34,353.3 396.57,351.8 396.60,352.0 396.81,351.4 397.04,351.8 397.27,352.8 397.51,353.9 397.74,354.4 397.97,355.4 398.21,357.5 398.44,358.1 398.67,358.9 398.91,359.5 399.14,359.7 399.37,359.5 399.61,359.4 399.84,359.1 400.07,359.8 400.31,359.8 400.54,360.2 400.77,361.1 401.01,360.8 401.24,360.2 401.47,359.8 401.71,360.7 401.94,361.1 402.18,360.3 402.41,360.6 402.64,360.4 402.88,360.5 403.11,360.3 403.34,359.9 403.58,360.0 403.81,359.6 404.04,360.5 404.28,360.2 404.51,359.3 404.74,358.9 404.98,358.5 405.21,358.1 405.44,357.7 405.68,357.2 405.91,356.6 406.14,355.8 406.38,355.6 406.61,356.1 406.84,356.6 407.08,356.8 407.31,357.7 407.54,357.1 407.78,357.1 408.01,357.6 408.24,358.2 408.48,358.7 408.71,358.4 408.94,357.7 409.18,358.0 409.41,358.7 409.64,358.7 409.88,358.9 410.11,358.9 410.34,359.7 410.58,359.9 410.81,359.8 411.04,359.2 411.28,358.4 411.51,358.5 411.74,359.4 411.98,359.3 412.21,358.0 412.44,358.9 412.68,359.9 412.91,359.8 413.14,359.2 413.38,359.5 413.61,359.3 413.85,359.3 414.08,359.9 414.31,359.8 414.55,359.0 414.78,358.6 415.01,358.3 415.25,358.6 415.48,359.9 415.71,360.2 415.95,359.6 416.18,359.6 416.41,359.0 416.65,359.2 416.88,359.6 417.11,359.4 417.35,359.0 417.58,358.2 417.81,358.2 418.05,358.7 418.28,358.8 418.51,359.0 418.75,358.8 418.98,359.0 419.21,359.2 419.45,359.4 419.68,359.3 419.91,359.2 420.15,359.5 420.38,360.1 420.61,359.9 420.85,359.6 421.08,359.8 421.31,360.6 421.55,361.1 421.78,361.4 422.01,361.2 422.25,361.7 422.48,361.3 422.71,361.3 422.95,361.5 423.18,362.2 423.41,362.6 423.65,362.3 423.88,362.0 424.11,361.8 424.35,362.4 424.58,362.4 424.81,362.4 425.05,362.2 425.28,362.1 425.52,362.3 425.75,362.9 425.98,363.1 426.22,362.8 426.45,362.8 426.68,362.6 426.92,362.4 427.15,362.1 427.38,363.0 427.62,363.2 427.85,363.4 428.08,362.6 428.32,362.6 428.55,362.4 428.78,362.8 429.02,362.8 429.25,363.1 429.48,362.9 429.72,363.0 429.95,362.7 430.18,363.0 430.42,362.7 430.65,362.6 430.88,362.9 431.12,362.9 431.35,362.1 431.58,362.1 431.82,362.8 432.05,362.7 432.28,361.8 432.52,361.9 432.75,362.5 432.98,363.1 433.22,363.3 433.45,363.6 433.68,364.0 433.92,364.1 434.15,362.7 434.38,363.0 434.62,363.4 434.85,362.5 435.08,362.3 435.32,363.1 435.55,363.7 435.78,363.6 436.02,362.2 436.25,362.3 436.48,362.8 436.72,362.8 436.95,363.1 437.19,363.3 437.42,363.8 437.65,363.1 437.89,363.0 438.12,363.1 438.35,363.3 438.59,362.6 438.82,362.9 439.05,362.5 439.29,362.4 439.52,363.5 439.75,363.6 439.99,363.8 440.22,363.5 440.45,363.5 440.69,363.4 440.92,363.5 441.15,363.3 441.39,363.9 441.62,363.3 441.85,364.0 442.09,363.6 442.32,363.8 442.55,363.6 442.79,363.8 443.02,364.2 443.25,363.6 443.49,363.1 443.72,363.5 443.95,363.3 444.19,362.1 444.42,362.9 444.65,362.3 444.89,360.2 445.12,359.5 445.35,359.0 445.50,357.9 445.59,358.0 445.82,358.5 446.05,359.5 446.29,360.3 446.52,360.5 446.75,361.3 446.99,362.5 447.22,363.1 447.45,363.4 447.69,364.1 447.92,363.4 448.15,363.9 448.39,363.9 448.62,364.0 448.86,364.3 449.09,364.7 449.32,365.6 449.56,365.1 449.79,364.9 450.02,365.5 450.26,365.0 450.49,363.9 450.72,364.6 450.96,365.0 451.19,364.5 451.42,364.7 451.66,364.5 451.89,364.6 452.12,363.7 452.36,363.5 452.59,364.2 452.82,364.8 453.06,365.2 453.29,364.6 453.52,364.3 453.76,365.0 453.99,364.9 454.22,365.4 454.46,364.5 454.69,363.6 454.92,363.9 455.16,363.9 455.39,363.7 455.62,363.9 455.86,364.1 456.09,364.2 456.32,364.3 456.56,364.7 456.79,364.8 457.02,364.6 457.26,364.4 457.49,363.4 457.72,363.4 457.96,363.9 458.19,364.3 458.42,363.7 458.66,364.1 458.89,364.7 459.12,365.4 459.36,364.7 459.59,364.3 459.82,364.9 460.06,364.6 460.29,364.4 460.53,364.7 460.76,364.1 460.99,364.3 461.23,364.5 461.46,364.6 461.69,363.7 461.93,363.5 462.16,363.9 462.39,364.1 462.63,364.2 462.86,364.1 463.09,364.5 463.33,364.6 463.56,364.3 463.79,363.9 464.03,364.4 464.26,363.6 464.49,364.0 464.73,364.5 464.96,364.1 465.19,364.9 465.43,365.4 465.66,365.2 465.89,364.6 466.13,364.6 466.36,364.0 466.59,364.3 466.83,364.4 467.06,364.2 467.29,364.1 467.53,363.8 467.76,363.2 467.99,364.1 468.23,364.5 468.46,365.1 468.69,364.6 468.93,364.2 469.16,364.5 469.39,364.4 469.63,364.0 469.86,363.6 470.09,363.2 470.33,364.0 470.56,364.4 470.79,363.1 471.03,363.2 471.26,364.0 471.49,364.0 471.73,363.7 471.96,362.8 472.20,363.2 472.43,363.8 472.66,363.9 472.90,363.6 473.13,363.2 473.36,363.4 473.60,362.8 473.83,362.6 474.06,362.8 474.30,363.7 474.53,363.2 474.76,362.8 475.00,362.1 475.23,363.1 475.46,362.7 475.70,361.3 475.93,361.0 476.16,361.9 476.40,361.0 476.50,361.7 476.63,360.7 476.86,360.1 477.10,361.7 477.33,362.1 477.56,362.3 477.80,362.1 478.03,362.6 478.26,363.3 478.50,362.8 478.73,362.6 478.96,363.9 479.20,363.9 479.43,364.5 479.66,364.0 479.90,364.0 480.13,363.9 480.36,363.5 480.60,364.8 480.83,364.5 481.06,364.8 481.30,365.5 481.53,365.3 481.76,365.5 482.00,365.5 482.23,365.7 482.46,365.7 482.70,366.0 482.93,365.6 483.16,365.7 483.40,365.6 483.63,366.0 483.87,365.0 484.10,365.9 484.33,366.3 484.57,366.4 484.80,366.5 485.03,367.2 485.27,367.5 485.50,366.3 485.73,365.5 485.97,365.8 486.20,366.1 486.43,366.4 486.67,366.7 486.90,367.1 487.13,366.5 487.37,366.6 487.60,366.6 487.83,366.2 488.07,366.7 488.30,367.9 488.53,366.8 488.77,366.0 489.00,365.7 489.23,366.9 489.47,366.6 489.70,366.7 489.93,367.9 490.17,367.5 490.40,366.0 490.63,366.5 490.87,367.3 491.10,367.1 491.33,366.5 491.57,367.7 491.80,367.7 492.03,366.3 492.27,365.6 492.50,366.0 492.73,367.1 492.97,367.4 493.20,366.9 493.43,366.5 493.67,366.8 493.90,366.9 494.13,366.1 494.37,365.9 494.60,366.7 494.83,367.4 495.07,367.1 495.30,366.9 495.54,366.7 495.77,367.0 496.00,366.2 496.24,366.6 496.47,366.6 496.70,366.6 496.94,366.5 497.17,367.1 497.40,366.9 497.64,366.7 497.87,367.1 498.10,366.9 498.34,366.6 498.57,366.7 498.80,367.1 499.04,366.6 499.27,366.7 499.50,366.8 499.74,367.1 499.97,367.2 500.20,367.8 500.44,366.6 500.67,367.2 500.90,367.3 501.14,367.5 501.37,366.8 501.60,367.5 501.84,366.9 502.07,367.6 502.30,367.8 502.54,367.5 502.77,367.1 503.00,367.1 503.24,367.5 503.47,367.1 503.70,366.5 503.94,366.8 504.17,368.1 504.40,368.4 504.64,368.3 504.87,368.1 505.10,368.3 505.34,368.4 505.57,368.2 505.80,367.7 506.04,367.7 506.27,367.7 506.50,368.1 506.74,367.9 506.97,368.4 507.21,369.0 507.44,368.6 507.67,369.2 507.91,369.3 508.14,367.8 508.37,367.9 508.61,368.7 508.84,368.6 509.07,369.1 509.31,369.3 509.54,368.9 509.77,369.6 510.01,370.1 510.24,369.7 510.47,368.8 510.71,369.0 510.94,369.2 511.17,369.9 511.41,369.3 511.64,368.9 511.87,369.2 512.11,369.4 512.34,369.0 512.57,369.1 512.81,369.2 513.04,369.5 513.27,369.6 513.51,369.1 513.74,368.8 513.97,368.9 514.21,368.6 514.44,369.3 514.67,369.1 514.91,368.6 515.14,367.9 515.37,369.7 515.61,369.8 515.84,369.4 516.07,368.9 516.31,369.2 516.54,369.9 516.77,368.6 517.01,368.8 517.24,368.8 517.47,368.6 517.71,368.4 517.94,368.0 518.17,368.3 518.41,367.9 518.64,369.0 518.88,368.7 519.11,367.6 519.34,367.1 519.58,368.0 519.81,368.2 520.04,367.8 520.28,368.8 520.51,368.4 520.74,367.8 520.98,367.5 521.21,368.0 521.44,368.3 521.68,368.8 521.91,369.0 522.14,368.6 522.38,368.9 522.61,369.3 522.84,369.0 523.08,368.6 523.31,368.9 523.54,368.6 523.78,368.9 524.01,368.7 524.24,368.4 524.48,369.0 524.71,369.1 524.94,369.2 525.18,368.6 525.41,369.5 525.64,369.7 525.88,369.1 526.11,369.1 526.34,369.2 526.58,369.3 526.81,369.6 527.04,369.0 527.28,368.7 527.51,369.4 527.74,370.3 527.98,369.4 528.21,368.9 528.44,369.1 528.68,369.7 528.91,370.2 529.14,369.5 529.38,369.8 529.61,369.9 529.84,370.0 530.08,370.0 530.31,370.3 530.55,370.1 530.78,369.8 531.01,370.6 531.25,369.2 531.48,369.0 531.71,370.0 531.95,369.9 532.18,369.6 532.41,369.8 532.65,370.0 532.88,369.5 533.11,369.2 533.35,369.0 533.58,369.0 533.81,369.3 534.05,370.1 534.28,370.0 534.51,369.9 534.75,369.6 534.98,369.9 535.21,369.1 535.45,369.8 535.68,369.9 535.91,369.3 536.15,369.1 536.38,369.7 536.61,369.2 536.85,369.1 537.08,369.4 537.31,369.1 537.55,369.7 537.78,370.5 538.01,369.7 538.25,369.9 538.48,369.2 538.71,369.5 538.95,369.5 539.18,369.6 539.41,370.2 539.65,370.7 539.88,369.9 540.11,370.2 540.35,370.0 540.58,369.9 540.81,369.3 541.05,369.2 541.28,369.3 541.51,369.2 541.75,369.3 541.98,369.1 542.22,369.4 542.45,369.8 542.68,370.6 542.92,370.6 543.15,369.9 543.38,369.4 543.62,369.9 543.85,370.0 544.08,369.4 544.32,368.9 544.55,368.6 544.78,369.5 545.02,370.4 545.25,369.7 545.48,369.7 545.72,369.8 545.95,369.9 546.18,369.8 546.42,368.7 546.65,369.3 546.88,369.7 547.12,369.8 547.35,370.1 547.58,369.7 547.82,370.2 548.05,370.6 548.28,369.8 548.52,369.6 548.75,369.6 548.98,369.8 549.22,368.6 549.45,368.8 549.68,369.5 549.92,370.2 550.15,370.0 550.38,369.6 550.62,370.5 550.85,370.0 551.08,369.6 551.32,370.1 551.55,370.5 551.78,369.8 552.02,369.1 552.25,369.4 552.48,370.0 552.72,370.2 552.95,369.6 553.18,369.8 553.42,369.4 553.65,369.7 553.89,369.3 554.12,369.4 554.35,369.1 554.59,369.1 554.82,368.9 555.05,369.0 555.29,370.5 555.52,370.8 555.75,370.4 555.99,370.1 556.22,370.7 556.45,370.2 556.69,370.4 556.92,370.7 557.15,370.5 557.39,370.8 557.62,370.2 557.85,370.1 558.09,370.0 558.32,369.5 558.55,369.6 558.79,370.2 559.02,369.6 559.25,370.6 559.49,370.6 559.72,370.9 559.95,370.8 560.19,370.8 560.42,371.1 560.65,370.4 560.89,370.3 561.12,370.6 561.35,370.1 561.59,370.6 561.82,370.5 562.05,369.7 562.29,369.1 562.52,369.1 562.75,370.4 562.99,369.3 563.22,369.2 563.45,370.2 563.69,370.2 563.92,370.0 564.15,369.8 564.39,369.4 564.62,369.1 564.85,369.3 565.09,370.0 565.32,370.3 565.56,370.3 565.79,369.4 566.02,368.5 566.26,369.5 566.49,369.1 566.72,368.3 566.96,369.8 567.19,369.6 567.42,369.4 567.66,369.4 567.89,369.4 568.12,369.4 568.36,369.3 568.59,369.3 568.82,369.5 569.06,369.7 569.29,370.3 569.52,369.4 569.76,368.8 569.99,368.8 570.22,369.2 570.46,369.2 570.69,369.2 570.92,369.0 571.16,369.1 571.39,369.6 571.62,369.9 571.86,369.4 572.09,368.9 572.32,368.4 572.56,368.4 572.79,368.9 573.02,369.0 573.26,368.9 573.49,368.5 573.72,368.7 573.96,368.0 574.19,368.2 574.42,368.7 574.66,369.2 574.89,368.8 575.12,368.6 575.36,369.1 575.59,369.2 575.82,369.6 576.06,369.4 576.29,369.2 576.52,369.1 576.76,369.3 576.99,368.7 577.23,368.4 577.46,369.3 577.69,369.0 577.93,369.2 578.16,369.5 578.39,369.3 578.63,367.8 578.86,368.4 579.09,369.4 579.33,368.5 579.56,369.1 579.79,368.9 580.03,368.7 580.26,368.8 580.49,368.4 580.73,369.3 580.96,369.6 581.19,368.5 581.43,368.8 581.66,369.7 581.89,369.5 582.13,369.2 582.36,369.6 582.59,368.5 582.83,368.9 583.06,369.2 583.29,369.1 583.53,369.3 583.76,368.5 583.99,369.0 584.23,369.0 584.46,369.9 584.69,369.9 584.93,369.0 585.16,368.7 585.39,369.1 585.63,368.9 585.86,369.1 586.09,369.5 586.33,369.5 586.56,370.3 586.79,369.7 587.03,369.2 587.26,368.9 587.49,369.4 587.73,370.2 587.96,370.2 588.19,370.6 588.43,370.6 588.66,370.1 588.90,369.5 589.13,369.6 589.36,369.6 589.60,369.1 589.83,369.7 590.06,369.4 590.30,369.7 590.53,369.8 590.76,370.5 591.00,371.2 591.23,369.8 591.46,370.1 591.70,370.9 591.93,369.9 592.16,369.9 592.40,370.1 592.63,370.1 592.86,369.5 593.10,370.3 593.33,370.9 593.56,371.6 593.80,370.5 594.03,370.1 594.26,370.1 594.50,369.2 594.73,370.5 594.96,371.2 595.20,370.6 595.43,370.4 595.66,370.4 595.90,370.4 596.13,370.2 596.36,371.1 596.60,370.5 596.83,370.6 597.06,371.4 597.30,370.9 597.53,370.7 597.76,371.5 598.00,371.2 598.23,371.2 598.46,370.5 598.70,370.0 598.93,370.9 599.16,371.6 599.40,370.9 599.63,371.2 599.86,371.4 600.10,371.2 600.33,371.2 600.57,371.5 600.80,371.2 601.03,371.0 601.27,371.6 601.50,371.7 601.73,371.5 601.97,371.2 602.20,370.0 602.43,371.0 602.67,371.0 602.90,370.5 603.13,372.0 603.37,371.6 603.60,371.1 603.83,371.1 604.07,371.4 604.30,371.2 604.53,370.5 604.77,371.0 605.00,371.6 605.23,371.8 605.47,371.8 605.70,370.9 605.93,371.1 606.17,371.5 606.40,371.2 606.63,371.4 606.87,371.2 607.10,371.7 607.33,371.7 607.57,371.8 607.80,371.6 608.03,371.1 608.27,370.9 608.50,371.4 608.73,371.2 608.97,370.8 609.20,371.3 609.43,372.1 609.67,372.5 609.90,372.4 610.13,372.4 610.37,371.7 610.60,371.5 610.83,371.2 611.07,371.5 611.30,372.5 611.53,372.3 611.77,372.5 612.00,373.4 612.24,373.0 612.47,371.8 612.70,372.2 612.94,371.8 613.17,372.1 613.40,371.1 613.64,371.2 613.87,371.7 614.10,372.7 614.34,371.6 614.57,372.5 614.80,372.7 615.04,372.3 615.27,372.7 615.50,373.3 615.74,372.4 615.97,372.0 616.20,372.6 616.44,372.3 616.67,371.4 616.90,371.8 617.14,371.8 617.37,371.2 617.60,371.1 617.84,371.2 618.07,371.1 618.30,371.8 618.54,371.6 618.77,370.6 619.00,371.2 619.24,371.5 619.47,370.9 619.70,371.3 619.94,371.4 620.17,370.7 620.40,370.9 620.64,370.4 620.87,371.4 621.10,371.0 621.34,370.4 621.57,370.1 621.80,370.5 622.04,371.6 622.27,371.0 622.50,370.8 622.74,370.8 622.97,370.5 623.20,371.1 623.44,370.2 623.67,371.2 623.91,370.9 624.14,371.1 624.37,371.3 624.61,371.3 624.84,370.6 625.07,371.1 625.31,371.0 625.54,370.9 625.77,371.0 626.01,371.6 626.24,371.6 626.47,371.9 626.71,371.5 626.94,370.3 627.17,371.0 627.41,371.6 627.64,370.7 627.87,370.1 628.11,370.2 628.34,371.8 628.57,371.1 628.81,371.2 629.04,370.9 629.27,371.6 629.51,372.0 629.74,370.8 629.97,371.0 630.21,370.7 630.44,370.1 630.67,370.3 630.91,370.7 631.14,371.0 631.37,370.4 631.61,369.1 631.84,368.0 632.00,368.7 632.07,368.7 632.31,368.6 632.54,368.6 632.77,369.5 633.01,370.8 633.24,371.0 633.47,370.9 633.71,370.6 633.94,370.4 634.17,370.8 634.41,371.3 634.64,371.6 634.87,371.4 635.11,371.5 635.34,372.3 635.58,372.0 635.81,372.3 636.04,372.1 636.28,372.4 636.51,372.5 636.74,372.6 636.98,372.5 637.21,371.6 637.44,371.4 637.68,372.2 637.91,373.0 638.14,372.0 638.38,372.0 638.61,373.1 638.84,371.8 639.08,371.9 639.31,372.1 639.54,372.0 639.78,372.2 640.01,373.0 640.24,372.7 640.48,372.4 640.71,371.8 640.94,372.7 641.18,372.7 641.41,372.7 641.64,373.0 641.88,372.8 642.11,372.6 642.34,372.7 642.58,372.2 642.81,371.9 643.04,371.9 643.28,372.8 643.51,372.4 643.74,372.8 643.98,373.4 644.21,373.6 644.44,372.7 644.68,372.7 644.91,372.6 645.14,372.0 645.38,372.6 645.61,373.9 645.84,373.2 646.08,373.6 646.31,373.5 646.54,373.8 646.78,373.6 647.01,372.8 647.25,372.3 647.48,373.4 647.71,373.3 647.95,373.2 648.18,373.1 648.41,372.5 648.65,372.7 648.88,372.6 649.11,371.9 649.35,372.0 649.58,372.3 649.81,371.8 650.05,373.0 650.28,373.3 650.51,372.9 650.75,372.7 650.98,372.0 651.21,372.8 651.45,373.3 651.68,373.3 651.91,373.4 652.15,373.2 652.38,373.9 652.61,373.4 652.85,373.5 653.08,373.4 653.31,372.5 653.55,372.4 653.78,373.0 654.01,372.3 654.25,372.6 654.48,373.2 654.71,372.4 654.95,372.2 655.18,372.1 655.41,372.5 655.65,373.8 655.88,373.6 656.11,373.3 656.35,371.9 656.58,371.5 656.81,372.3 657.05,373.5 657.28,373.5 657.51,372.0 657.75,372.0 657.98,373.2 658.21,373.3 658.45,373.4 658.68,373.3 658.92,372.7 659.15,373.0 659.38,373.1 659.62,373.6 659.85,372.9 660.08,372.3 660.32,373.7 660.55,374.2 660.78,373.8 661.02,373.0 661.25,372.8 661.48,373.4 661.72,373.1 661.95,373.4 662.18,373.6 662.42,373.0 662.65,372.3 662.88,373.1 663.12,372.6 663.35,372.3 663.58,373.0 663.82,373.3 664.05,373.3 664.28,373.3 664.52,372.5 664.75,373.5 664.98,374.1 665.22,373.3 665.45,373.0 665.68,373.3 665.92,373.8 666.15,373.2 666.38,372.7 666.62,372.6 666.85,373.9 667.08,374.2 667.32,373.7 667.55,374.3 667.78,373.5 668.02,373.5 668.25,372.7 668.48,372.7 668.72,373.3 668.95,373.7 669.18,373.6 669.42,373.0 669.65,373.0 669.88,373.3 670.12,373.2 670.35,373.4 670.59,373.9 670.82,373.9 671.05,372.9 671.29,373.9 671.52,373.8 671.75,373.7 671.99,373.8 672.22,374.1 672.45,373.8 672.69,373.0 672.92,373.7 673.15,373.2 673.39,373.7 673.62,373.6 673.85,372.9 674.09,373.4 674.32,373.4 674.55,373.5 674.79,374.6 675.02,373.9 675.25,373.7 675.49,374.5 675.72,373.9 675.95,373.4 676.19,372.8 676.42,373.9 676.65,374.5 676.89,374.7 677.12,373.6 677.35,374.3 677.59,374.7 677.82,374.3 678.05,373.7 678.29,373.1 678.52,373.7 678.75,373.4 678.99,373.0 679.22,373.9 679.45,373.9 679.69,374.0 679.92,374.7 680.15,373.6 680.39,372.6 680.62,372.7 680.85,373.9 681.09,373.8 681.32,373.3 681.55,372.8 681.79,373.2 682.02,373.3 682.26,373.7 682.49,373.5 682.72,373.5 682.96,373.8 683.19,373.7 683.42,373.7 683.66,372.3 683.89,373.2 684.12,374.5 684.36,374.2 684.59,373.6 684.82,373.8 685.06,373.8 685.29,374.1 685.52,374.7 685.76,374.2 685.99,374.1 686.22,373.7 686.46,373.5 686.69,373.3 686.92,373.7 687.16,373.9 687.39,374.0 687.62,374.2 687.86,374.4 688.09,374.6 688.32,374.4 688.56,375.0 688.79,374.9 689.02,375.0 689.26,374.6 689.49,374.9 689.72,374.3 689.96,373.6 690.19,374.1 690.42,374.1 690.66,373.6 690.89,373.7 691.12,374.3 691.36,375.5 691.59,375.1 691.82,375.5 692.06,375.3 692.29,375.2 692.52,374.8 692.76,374.0 692.99,374.8 693.22,374.2 693.46,374.6 693.69,374.7 693.93,375.5 694.16,375.5 694.39,375.7 694.63,375.0 694.86,374.8 695.09,375.3 695.33,375.9 695.56,375.2 695.79,374.6 696.03,374.0 696.26,374.2 696.49,374.6 696.73,375.1 696.96,375.0 697.19,374.7 697.43,374.8 697.66,375.5 697.89,375.7 698.13,375.4 698.36,375.4 698.59,375.4 698.83,375.2 699.06,373.9 699.29,373.9 699.53,374.3 699.76,374.5 699.99,374.6 700.23,373.4 700.46,373.9 700.69,374.1 700.93,373.7 701.16,373.9 701.39,374.4 701.63,374.2 701.86,373.8 702.09,373.9 702.33,373.9 702.56,374.2 702.79,374.0 703.03,374.2 703.26,373.7 703.49,373.6 703.73,373.3 703.96,373.7 704.19,374.1 704.43,373.4 704.66,373.6 704.89,373.8 705.13,373.8 705.36,374.1 705.60,373.5 705.83,374.3 706.06,374.8 706.30,374.8 706.53,374.0 706.76,373.3 707.00,373.2 707.23,374.2 707.46,374.4 707.70,374.2 707.93,374.2 708.16,374.3 708.40,373.7 708.63,373.1 708.86,373.0 709.10,373.3 709.33,373.3 709.56,373.1 709.80,373.5 710.03,373.5 710.26,374.2 710.50,374.1 710.73,374.2 710.96,373.3 711.20,373.2 711.43,373.2 711.66,374.3 711.90,375.6 712.13,374.5 712.36,373.9 712.60,374.1 712.83,374.2 713.06,374.5 713.30,374.1 713.53,373.4 713.76,373.1 714.00,374.1 714.23,374.6 714.46,374.2 714.70,373.6 714.93,373.8 715.16,374.0 715.40,374.4 715.63,374.3 715.86,374.7 716.10,374.1 716.33,374.0 716.56,374.8 716.80,373.8 717.03,373.9 717.27,375.1 717.50,374.8 717.73,374.8 717.97,373.4 718.20,374.5 718.43,374.3 718.67,374.3 718.90,374.1 719.13,372.8 719.37,373.5 719.60,374.7 719.83,375.7 720.07,374.5 720.30,375.3 720.53,374.9 720.77,374.7 721.00,374.0 721.23,374.3 721.47,373.8 721.70,373.7 721.93,374.6 722.17,374.0 722.40,374.0 722.63,374.5 722.87,373.8 723.10,373.6 723.33,374.3 723.57,374.6 723.80,374.9 724.03,374.0 724.27,374.6 724.50,374.7 724.73,374.2 724.97,374.2 725.20,374.2 725.43,373.7 725.67,373.7 725.90,374.4 726.13,373.8 726.37,373.9 726.60,374.6 726.83,374.2 727.07,373.9 727.30,373.5 727.53,373.5 727.77,373.4 728.00,373.7 728.23,374.7 728.47,373.8 728.70,373.1 728.94,373.7 729.17,374.5 729.40,373.9 729.64,374.1 729.87,373.7 730.10,373.4 730.34,373.8 730.57,373.9 730.80,374.5 731.04,374.8 731.27,374.8 731.50,375.6 731.74,374.4 731.97,375.0 732.20,375.0 732.44,375.2 732.67,374.6 732.90,373.4 733.14,374.2 733.37,374.9 733.60,374.5 733.84,373.8 734.07,374.1 734.30,374.7 734.54,375.0 734.77,374.4 735.00,374.4 735.24,373.9 735.47,373.8 735.70,374.3 735.94,375.2 736.17,375.0 736.40,374.5 736.64,374.5 736.87,374.8 737.10,374.5 737.34,374.3 737.57,374.4 737.80,374.8 738.04,374.5 738.27,374.7 738.50,373.7 738.74,373.9 738.97,374.3 739.20,374.7 739.44,374.1 739.67,374.3 739.90,374.7 740.14,374.5 740.37,374.2 740.61,374.3 740.84,374.2 741.07,374.9 741.31,375.0 741.54,375.3 741.77,375.9 742.01,375.6 742.24,375.0 742.47,374.9 742.71,375.8 742.94,375.0 743.17,374.8 743.41,375.3 743.64,375.0 743.87,374.7 744.11,375.2 744.34,375.8 744.57,375.1 744.81,374.9 745.04,374.4 745.27,374.6 745.51,375.2 745.74,374.9 745.97,375.0 746.21,375.4 746.44,375.0 746.67,375.5 746.91,374.7 747.14,374.4 747.37,374.2 747.61,374.2 747.84,375.0 748.07,375.1 748.31,375.5 748.54,374.8 748.77,375.3 749.01,375.6 749.24,374.9 749.47,374.5 749.71,374.0 749.94,375.5 750.17,375.2 750.41,375.2 750.64,374.8 750.87,374.9 751.11,374.5 751.34,375.2 751.57,375.0 751.81,374.8 752.04,374.9 752.28,374.2 752.51,374.8 752.74,375.0 752.98,375.7 753.21,375.5 753.44,375.0 753.68,375.2 753.91,376.3 754.14,375.1 754.38,375.9 754.61,375.8 754.84,375.3 755.08,374.3 755.31,375.1 755.54,374.8 755.78,374.6 756.01,375.1 756.24,374.8 756.48,375.1 756.71,374.7 756.94,375.3 757.18,375.2 757.41,374.6 757.64,374.4 757.88,374.6 758.11,374.7 758.34,374.9 758.58,375.9 758.81,375.4 759.04,374.9 759.28,374.8 759.51,374.7 759.74,375.1 759.98,375.0 760.21,374.7 760.44,374.6 760.68,374.7 760.91,374.6 761.14,374.9 761.38,374.8 761.61,375.2 761.84,375.1 762.08,375.3 762.31,374.7 762.54,374.0 762.78,374.3 763.01,374.9 763.24,375.4 763.48,375.5 763.71,375.6 763.95,375.6 764.18,375.5 764.41,375.4 764.65,375.2 764.88,375.4 765.11,375.2 765.35,375.2 765.58,375.6 765.81,376.2 766.05,374.8 766.28,374.8 766.51,375.1 766.75,375.4 766.98,375.5 767.21,375.9 767.45,375.0 767.68,375.8 767.91,374.8 768.15,374.9 768.38,375.5 768.61,375.4 768.85,375.3 769.08,375.4 769.31,375.6 769.55,375.9 769.78,375.5 770.01,374.7 770.25,375.0 770.48,376.1 770.71,376.5 770.95,376.2 771.18,376.0 771.41,375.9 771.65,376.3 771.88,375.3 772.11,375.1 772.35,375.2 772.58,376.0 772.81,375.4 773.05,375.4 773.28,374.7 773.51,374.7 773.75,375.8 773.98,376.0 774.21,376.0 774.45,375.6 774.68,375.3 774.91,375.1 775.15,374.9 775.38,375.3 775.62,376.0 775.85,375.4 776.08,374.8 776.32,375.1 776.55,374.9 776.78,374.8 777.02,375.2 777.25,375.0 777.48,375.0 777.72,376.3 777.95,376.5 778.18,376.0 778.42,376.2 778.65,375.5 778.88,375.6 779.12,376.2 779.35,375.9 779.58,375.7 779.82,374.4 780.05,375.3 780.28,375.4 780.52,375.3 780.75,374.8 780.98,375.1 781.22,375.8 781.45,376.0 781.68,376.1 781.92,376.2 782.15,376.3 782.38,375.9 782.62,375.5 782.85,375.3 783.08,375.2 783.32,375.0 783.55,375.0 783.78,375.2 784.02,374.4 784.25,374.7 784.48,375.2 784.72,375.9 784.95,376.3 785.18,376.0 785.42,375.6 785.65,375.6 785.88,376.2 786.12,376.1 786.35,375.5 786.58,375.7 786.82,376.0 787.05,376.2 787.29,375.9 787.52,376.5 787.75,376.4 787.99,375.7 788.22,375.5 788.45,375.2 788.69,375.3 788.92,376.0 789.15,376.7 789.39,376.7 789.62,376.0 789.85,375.6 790.09,375.5 790.32,375.9 790.55,375.7 790.79,376.1 791.02,375.9 791.25,375.9 791.49,375.9 791.72,376.9 791.95,376.7 792.19,376.0 792.42,375.6 792.65,376.1 792.89,376.2 793.12,375.5 793.35,376.1 793.59,376.9 793.82,376.2 794.05,375.8 794.29,376.4 794.52,376.8 794.75,375.9 794.99,375.7 795.22,375.8 795.45,376.1 795.69,376.6 795.92,376.0 796.15,375.0 796.39,376.0 796.62,376.3 796.85,376.4 797.09,376.2 797.32,376.1 797.55,376.2 797.79,375.6 798.02,375.1 798.25,375.6 798.49,375.7 798.72,376.7 798.96,376.4 799.19,376.6 799.42,375.5 799.66,375.4 799.89,375.9 800.12,375.2 800.36,375.3 800.59,375.1 800.82,375.8 801.06,375.3 801.29,375.6 801.52,375.3 801.76,376.2 801.99,376.6 802.22,376.2 802.46,375.7 802.69,376.3 802.92,376.7 803.16,376.7 803.39,377.0 803.62,377.2 803.86,376.4 804.09,376.0 804.32,375.8 804.56,376.0 804.79,376.0 805.02,375.9 805.26,376.5 805.49,377.0 805.72,376.0 805.96,375.8 806.19,375.8 806.42,375.8 806.66,376.5 806.89,376.3 807.12,376.3 807.36,375.6 807.59,376.2 807.82,376.0 808.06,375.6 808.29,376.5 808.52,376.8 808.76,376.5 808.99,376.4 809.22,375.9 809.46,376.6 809.69,376.3 809.92,376.5 810.16,376.6 810.39,376.5 810.63,376.0 810.86,376.3 811.09,376.5 811.33,376.8 811.56,376.2 811.79,376.7 812.03,376.6 812.26,376.6 812.49,377.3 812.73,376.8 812.96,376.2 813.19,376.3 813.43,375.9 813.66,375.6 813.89,375.9 814.13,376.2 814.36,377.2 814.59,376.6 814.83,375.3 815.06,375.9 815.29,376.0 815.53,376.2 815.76,376.4 815.99,376.5 816.23,376.5 816.46,376.2 816.69,376.9 816.93,376.6 817.16,377.0 817.39,376.6 817.63,376.5 817.86,376.1 818.09,376.9 818.33,376.6 818.56,376.3 818.79,376.6 819.03,376.5 819.26,375.7 819.49,375.8 819.73,376.0 819.96,376.7 820.19,376.6 820.43,376.1 820.66,376.0 820.89,376.1 821.13,375.4 821.36,376.3 821.59,377.0 821.83,375.9 822.06,375.6 822.30,375.9 822.53,376.5 822.76,376.4 823.00,377.3 823.23,376.6 823.46,376.1 823.70,376.0 823.93,376.9 824.16,377.2 824.40,376.9 824.63,377.3 824.86,377.3 825.10,376.9 825.33,376.6 825.56,376.4 825.80,376.6 826.03,376.6 826.26,377.3 826.50,377.1 826.73,376.6 826.96,376.5 827.20,376.9 827.43,377.2 827.66,377.0 827.90,377.1 828.13,376.6 828.36,376.8 828.60,377.0 828.83,376.9 829.06,377.0 829.30,377.2 829.53,376.9 829.76,377.1 830.00,376.6 830.23,376.8 830.46,376.5 830.70,376.6 830.93,377.1 831.16,377.4 831.40,376.9 831.63,377.0 831.86,377.3 832.10,376.7 832.33,377.0 832.56,376.1 832.80,375.8 833.03,376.7 833.26,376.7 833.50,376.3 833.73,375.7 833.97,376.7 834.20,376.5 834.43,376.2 834.67,376.5 834.90,376.2 835.13,376.2 835.37,376.5 835.60,377.2 835.83,377.1 836.07,377.4 836.30,376.5 836.53,376.4 836.77,377.4 837.00,376.6 837.23,377.2 837.47,376.6 837.70,377.0 837.93,376.8 838.17,377.8 838.40,378.1 838.63,377.7 838.87,377.2 839.10,376.9 839.33,377.5 839.57,378.0 839.80,376.9 840.03,376.6 840.27,377.6 840.50,377.2 840.73,377.3 840.97,377.2 841.20,377.1 841.43,376.9 841.67,376.7 841.90,376.1 842.13,376.4 842.37,376.7 842.60,377.4 842.83,377.0 843.07,376.9 843.30,376.3 843.53,377.1 843.77,377.8 844.00,377.4 844.23,377.5 844.47,377.0 844.70,376.9 844.93,377.4 845.17,376.9 845.40,376.5 845.64,376.9 845.87,377.0 846.10,377.6 846.34,377.4 846.57,376.6 846.80,377.0 847.04,376.6 847.27,377.1 847.50,377.4 847.74,376.9 847.97,376.9 848.20,377.4 848.44,377.0 848.67,376.8 848.90,377.9 849.14,377.8 849.37,377.6 849.60,377.5 849.84,377.7 850.07,377.5 850.30,377.6 850.54,377.4 850.77,377.1 851.00,377.7 851.24,377.3 851.47,376.8 851.70,376.7 851.94,375.9 852.17,376.0 852.40,376.5 852.64,377.5 852.87,377.8 853.10,377.9 853.34,377.8 853.57,378.1 853.80,377.2 854.04,376.8 854.27,376.8 854.50,377.2 854.74,376.9 854.97,376.7 855.20,376.9 855.44,377.1 855.67,376.7 855.90,377.1 856.14,377.5 856.37,378.1 856.60,377.4 856.84,376.8 857.07,377.3 857.31,377.3 857.54,376.4 857.77,375.8 858.01,377.3 858.24,377.2 858.47,377.0 858.71,377.3 858.94,378.1 859.17,378.3 859.41,377.5 859.64,378.0 859.87,377.5 860.11,377.4 860.34,377.3 860.57,377.3 860.81,377.2 861.04,377.1 861.27,377.2 861.51,377.0 861.74,377.5 861.97,377.2 862.21,377.5 862.44,377.2"/>
</g>
<g stroke="#000" stroke-width="1.7" fill="none">
<rect x="138.9" y="14.0" width="723.6" height="535.8"/>
<line x1="127" y1="508.4" x2="139" y2="508.4"/>
<line x1="127" y1="426.0" x2="139" y2="426.0"/>
<line x1="127" y1="343.6" x2="139" y2="343.6"/>
<line x1="127" y1="261.2" x2="139" y2="261.2"/>
<line x1="127" y1="178.8" x2="139" y2="178.8"/>
<line x1="127" y1="96.4" x2="139" y2="96.4"/>
<line x1="127" y1="14.0" x2="139" y2="14.0"/>
<line x1="133" y1="549.6" x2="139" y2="549.6"/>
<line x1="133" y1="467.2" x2="139" y2="467.2"/>
<line x1="133" y1="384.8" x2="139" y2="384.8"/>
<line x1="133" y1="302.4" x2="139" y2="302.4"/>
<line x1="133" y1="220.0" x2="139" y2="220.0"/>
<line x1="133" y1="137.6" x2="139" y2="137.6"/>
<line x1="133" y1="55.2" x2="139" y2="55.2"/>
<line x1="162.2" y1="549.8" x2="162.2" y2="561.8"/>
<line x1="278.9" y1="549.8" x2="278.9" y2="561.8"/>
<line x1="395.6" y1="549.8" x2="395.6" y2="561.8"/>
<line x1="512.4" y1="549.8" x2="512.4" y2="561.8"/>
<line x1="629.1" y1="549.8" x2="629.1" y2="561.8"/>
<line x1="745.8" y1="549.8" x2="745.8" y2="561.8"/>
<line x1="862.5" y1="549.8" x2="862.5" y2="561.8"/>
<line x1="220.6" y1="549.8" x2="220.6" y2="555.8"/>
<line x1="337.3" y1="549.8" x2="337.3" y2="555.8"/>
<line x1="454.0" y1="549.8" x2="454.0" y2="555.8"/>
<line x1="570.7" y1="549.8" x2="570.7" y2="555.8"/>
<line x1="687.4" y1="549.8" x2="687.4" y2="555.8"/>
<line x1="804.2" y1="549.8" x2="804.2" y2="555.8"/>
</g>
<text x="120.5" y="513.0" text-anchor="end" class="tl">20000</text>
<text x="120.5" y="430.6" text-anchor="end" class="tl">30000</text>
<text x="120.5" y="348.2" text-anchor="end" class="tl">40000</text>
<text x="120.5" y="265.8" text-anchor="end" class="tl">50000</text>
<text x="120.5" y="183.4" text-anchor="end" class="tl">60000</text>
<text x="120.5" y="101.0" text-anchor="end" class="tl">70000</text>
<text x="120.5" y="18.6" text-anchor="end" class="tl">80000</text>
<text transform="translate(162.2,587.7) scale(1,1.1)" text-anchor="middle" class="tx">10</text>
<text transform="translate(278.9,587.7) scale(1,1.1)" text-anchor="middle" class="tx">20</text>
<text transform="translate(395.6,587.7) scale(1,1.1)" text-anchor="middle" class="tx">30</text>
<text transform="translate(512.4,587.7) scale(1,1.1)" text-anchor="middle" class="tx">40</text>
<text transform="translate(629.1,587.7) scale(1,1.1)" text-anchor="middle" class="tx">50</text>
<text transform="translate(745.8,587.7) scale(1,1.1)" text-anchor="middle" class="tx">60</text>
<text transform="translate(862.5,587.7) scale(1,1.1)" text-anchor="middle" class="tx">70</text>
<text class="at" transform="translate(32.5,251.5) rotate(-90)" text-anchor="middle">Arbitrary Intensity</text>
<text class="at" x="500" y="637.2" text-anchor="middle" xml:space="preserve">2θ  (Degree)</text>
<rect x="641.4" y="23.5" width="209.7" height="149.1" fill="#fff" stroke="#000" stroke-width="1.3"/>
<line x1="652" y1="45.0" x2="700.5" y2="45.0" stroke="#0000ff" stroke-width="1.3"/>
<text x="700.3" y="51.8" class="lg" textLength="138" lengthAdjust="spacingAndGlyphs">: <tspan font-style="italic">n</tspan>=2 for <tspan font-style="italic">M</tspan>=Zn</text>
<line x1="652" y1="71.6" x2="700.5" y2="71.6" stroke="#ff0000" stroke-width="1.3"/>
<text x="700.3" y="78.4" class="lg" textLength="138" lengthAdjust="spacingAndGlyphs">: <tspan font-style="italic">n</tspan>=3 for <tspan font-style="italic">M</tspan>=Zn</text>
<line x1="652" y1="98.2" x2="700.5" y2="98.2" stroke="#008000" stroke-width="1.3"/>
<text x="700.3" y="105.0" class="lg" textLength="138" lengthAdjust="spacingAndGlyphs">: <tspan font-style="italic">n</tspan>=4 for <tspan font-style="italic">M</tspan>=Zn</text>
<line x1="652" y1="124.8" x2="700.5" y2="124.8" stroke="#000000" stroke-width="1.3"/>
<text x="700.3" y="131.6" class="lg" textLength="138" lengthAdjust="spacingAndGlyphs">: <tspan font-style="italic">n</tspan>=5 for <tspan font-style="italic">M</tspan>=Zn</text>
<line x1="652" y1="151.4" x2="700.5" y2="151.4" stroke="#800080" stroke-width="1.3"/>
<text x="700.3" y="158.2" class="lg" textLength="138" lengthAdjust="spacingAndGlyphs">: <tspan font-style="italic">n</tspan>=6 for <tspan font-style="italic">M</tspan>=Zn</text>
</svg>
</body></html>
